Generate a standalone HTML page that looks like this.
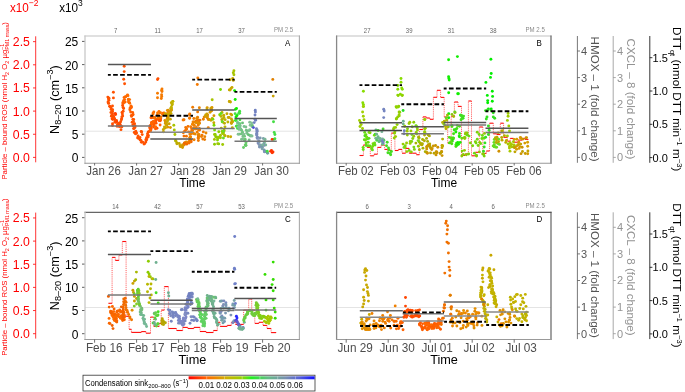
<!DOCTYPE html>
<html><head><meta charset="utf-8"><style>
html,body{margin:0;padding:0;background:#fff;width:685px;height:392px;overflow:hidden;}
svg{display:block;font-family:"Liberation Sans", sans-serif;will-change:transform;}
</style></head><body>
<svg width="685" height="392" viewBox="0 0 685 392" font-family='"Liberation Sans", sans-serif'><line x1="35.70" y1="36.30" x2="35.70" y2="162.30" stroke="#ff0000" stroke-width="0.8"/>
<line x1="33.00" y1="157.40" x2="35.70" y2="157.40" stroke="#ff0000" stroke-width="0.8"/>
<text x="0" y="0" font-size="12.3" fill="#ff0000" text-anchor="end" transform="translate(29.90 161.80) scale(1 1.07)">0.0</text>
<line x1="33.00" y1="134.25" x2="35.70" y2="134.25" stroke="#ff0000" stroke-width="0.8"/>
<text x="0" y="0" font-size="12.3" fill="#ff0000" text-anchor="end" transform="translate(29.90 138.65) scale(1 1.07)">0.5</text>
<line x1="33.00" y1="111.10" x2="35.70" y2="111.10" stroke="#ff0000" stroke-width="0.8"/>
<text x="0" y="0" font-size="12.3" fill="#ff0000" text-anchor="end" transform="translate(29.90 115.50) scale(1 1.07)">1.0</text>
<line x1="33.00" y1="87.95" x2="35.70" y2="87.95" stroke="#ff0000" stroke-width="0.8"/>
<text x="0" y="0" font-size="12.3" fill="#ff0000" text-anchor="end" transform="translate(29.90 92.35) scale(1 1.07)">1.5</text>
<line x1="33.00" y1="64.80" x2="35.70" y2="64.80" stroke="#ff0000" stroke-width="0.8"/>
<text x="0" y="0" font-size="12.3" fill="#ff0000" text-anchor="end" transform="translate(29.90 69.20) scale(1 1.07)">2.0</text>
<line x1="33.00" y1="41.65" x2="35.70" y2="41.65" stroke="#ff0000" stroke-width="0.8"/>
<text x="0" y="0" font-size="12.3" fill="#ff0000" text-anchor="end" transform="translate(29.90 46.05) scale(1 1.07)">2.5</text>
<text x="0" y="0" font-size="7.29" fill="#ff0000" text-anchor="middle" transform="translate(7.20 100.80) rotate(-90) scale(1.07 1)">Particle – bound ROS (nmol H<tspan font-size="5" dy="1.5">2</tspan><tspan dy="-1.5"> O</tspan><tspan font-size="5" dy="1.5">2</tspan><tspan dy="-1.5"> µg</tspan><tspan font-size="5" dy="-3">−1</tspan><tspan font-size="5" dx="-5.7" dy="4.5">PM1 mass</tspan><tspan dy="-1.5">)</tspan></text>
<line x1="82.00" y1="157.40" x2="85.00" y2="157.40" stroke="#333" stroke-width="0.8"/>
<text x="0" y="0" font-size="12.0" fill="#000" text-anchor="end" transform="translate(78.30 162.30) scale(1 1.07)">0</text>
<line x1="82.00" y1="134.20" x2="85.00" y2="134.20" stroke="#333" stroke-width="0.8"/>
<text x="0" y="0" font-size="12.0" fill="#000" text-anchor="end" transform="translate(78.30 139.10) scale(1 1.07)">5</text>
<line x1="82.00" y1="111.00" x2="85.00" y2="111.00" stroke="#333" stroke-width="0.8"/>
<text x="0" y="0" font-size="12.0" fill="#000" text-anchor="end" transform="translate(78.30 115.90) scale(1 1.07)">10</text>
<line x1="82.00" y1="87.80" x2="85.00" y2="87.80" stroke="#333" stroke-width="0.8"/>
<text x="0" y="0" font-size="12.0" fill="#000" text-anchor="end" transform="translate(78.30 92.70) scale(1 1.07)">15</text>
<line x1="82.00" y1="64.60" x2="85.00" y2="64.60" stroke="#333" stroke-width="0.8"/>
<text x="0" y="0" font-size="12.0" fill="#000" text-anchor="end" transform="translate(78.30 69.50) scale(1 1.07)">20</text>
<line x1="82.00" y1="41.40" x2="85.00" y2="41.40" stroke="#333" stroke-width="0.8"/>
<text x="0" y="0" font-size="12.0" fill="#000" text-anchor="end" transform="translate(78.30 46.30) scale(1 1.07)">25</text>
<text x="0" y="0" font-size="11.869" fill="#000" text-anchor="middle" transform="translate(58.90 99.60) rotate(-90) scale(1.07 1)">N<tspan font-size="8.5" dy="2.5">8–20</tspan><tspan dy="-2.5"> (cm</tspan><tspan font-size="8.5" dy="-6">−3</tspan><tspan dy="6">)</tspan></text>
<line x1="577.40" y1="36.00" x2="577.40" y2="162.80" stroke="#555" stroke-width="0.8"/>
<line x1="577.40" y1="157.40" x2="580.00" y2="157.40" stroke="#555" stroke-width="0.8"/>
<text x="0" y="0" font-size="11" fill="#555" text-anchor="start" transform="translate(581.10 161.30) scale(1 1.07)">0</text>
<line x1="577.40" y1="130.80" x2="580.00" y2="130.80" stroke="#555" stroke-width="0.8"/>
<text x="0" y="0" font-size="11" fill="#555" text-anchor="start" transform="translate(581.10 134.70) scale(1 1.07)">1</text>
<line x1="577.40" y1="104.20" x2="580.00" y2="104.20" stroke="#555" stroke-width="0.8"/>
<text x="0" y="0" font-size="11" fill="#555" text-anchor="start" transform="translate(581.10 108.10) scale(1 1.07)">2</text>
<line x1="577.40" y1="77.60" x2="580.00" y2="77.60" stroke="#555" stroke-width="0.8"/>
<text x="0" y="0" font-size="11" fill="#555" text-anchor="start" transform="translate(581.10 81.50) scale(1 1.07)">3</text>
<line x1="577.40" y1="51.00" x2="580.00" y2="51.00" stroke="#555" stroke-width="0.8"/>
<text x="0" y="0" font-size="11" fill="#555" text-anchor="start" transform="translate(581.10 54.90) scale(1 1.07)">4</text>
<text x="0" y="0" font-size="10.841" fill="#555" text-anchor="start" transform="translate(591.00 36.60) rotate(90) scale(1.07 1)">HMOX – 1 (fold change)</text>
<line x1="613.20" y1="36.00" x2="613.20" y2="162.80" stroke="#939393" stroke-width="0.8"/>
<line x1="613.20" y1="157.40" x2="615.80" y2="157.40" stroke="#939393" stroke-width="0.8"/>
<text x="0" y="0" font-size="11" fill="#939393" text-anchor="start" transform="translate(616.90 161.30) scale(1 1.07)">0</text>
<line x1="613.20" y1="130.80" x2="615.80" y2="130.80" stroke="#939393" stroke-width="0.8"/>
<text x="0" y="0" font-size="11" fill="#939393" text-anchor="start" transform="translate(616.90 134.70) scale(1 1.07)">1</text>
<line x1="613.20" y1="104.20" x2="615.80" y2="104.20" stroke="#939393" stroke-width="0.8"/>
<text x="0" y="0" font-size="11" fill="#939393" text-anchor="start" transform="translate(616.90 108.10) scale(1 1.07)">2</text>
<line x1="613.20" y1="77.60" x2="615.80" y2="77.60" stroke="#939393" stroke-width="0.8"/>
<text x="0" y="0" font-size="11" fill="#939393" text-anchor="start" transform="translate(616.90 81.50) scale(1 1.07)">3</text>
<line x1="613.20" y1="51.00" x2="615.80" y2="51.00" stroke="#939393" stroke-width="0.8"/>
<text x="0" y="0" font-size="11" fill="#939393" text-anchor="start" transform="translate(616.90 54.90) scale(1 1.07)">4</text>
<text x="0" y="0" font-size="10.841" fill="#939393" text-anchor="start" transform="translate(626.80 38.60) rotate(90) scale(1.07 1)">CXCL – 8 (fold change)</text>
<line x1="649.80" y1="36.00" x2="649.80" y2="162.80" stroke="#000" stroke-width="0.8"/>
<line x1="649.80" y1="157.60" x2="652.40" y2="157.60" stroke="#000" stroke-width="0.8"/>
<text x="0" y="0" font-size="11" fill="#000" text-anchor="start" transform="translate(652.60 161.50) scale(1 1.07)">0.0</text>
<line x1="649.80" y1="124.30" x2="652.40" y2="124.30" stroke="#000" stroke-width="0.8"/>
<text x="0" y="0" font-size="11" fill="#000" text-anchor="start" transform="translate(652.60 128.20) scale(1 1.07)">0.5</text>
<line x1="649.80" y1="91.00" x2="652.40" y2="91.00" stroke="#000" stroke-width="0.8"/>
<text x="0" y="0" font-size="11" fill="#000" text-anchor="start" transform="translate(652.60 94.90) scale(1 1.07)">1.0</text>
<line x1="649.80" y1="57.70" x2="652.40" y2="57.70" stroke="#000" stroke-width="0.8"/>
<text x="0" y="0" font-size="11" fill="#000" text-anchor="start" transform="translate(652.60 61.60) scale(1 1.07)">1.5</text>
<text x="0" y="0" font-size="11.028" fill="#000" text-anchor="start" transform="translate(672.50 27.00) rotate(90) scale(1.07 1)">DTT<tspan font-size="7" dy="2.5">qt</tspan><tspan dy="-2.5"> (nmol DTT min</tspan><tspan font-size="7" dy="-4.5">−1</tspan><tspan dy="4.5"> m</tspan><tspan font-size="7" dy="-4.5">−3</tspan><tspan dy="4.5">)</tspan></text>
<line x1="35.70" y1="212.60" x2="35.70" y2="338.60" stroke="#ff0000" stroke-width="0.8"/>
<line x1="33.00" y1="333.70" x2="35.70" y2="333.70" stroke="#ff0000" stroke-width="0.8"/>
<text x="0" y="0" font-size="12.3" fill="#ff0000" text-anchor="end" transform="translate(29.90 338.10) scale(1 1.07)">0.0</text>
<line x1="33.00" y1="310.55" x2="35.70" y2="310.55" stroke="#ff0000" stroke-width="0.8"/>
<text x="0" y="0" font-size="12.3" fill="#ff0000" text-anchor="end" transform="translate(29.90 314.95) scale(1 1.07)">0.5</text>
<line x1="33.00" y1="287.40" x2="35.70" y2="287.40" stroke="#ff0000" stroke-width="0.8"/>
<text x="0" y="0" font-size="12.3" fill="#ff0000" text-anchor="end" transform="translate(29.90 291.80) scale(1 1.07)">1.0</text>
<line x1="33.00" y1="264.25" x2="35.70" y2="264.25" stroke="#ff0000" stroke-width="0.8"/>
<text x="0" y="0" font-size="12.3" fill="#ff0000" text-anchor="end" transform="translate(29.90 268.65) scale(1 1.07)">1.5</text>
<line x1="33.00" y1="241.10" x2="35.70" y2="241.10" stroke="#ff0000" stroke-width="0.8"/>
<text x="0" y="0" font-size="12.3" fill="#ff0000" text-anchor="end" transform="translate(29.90 245.50) scale(1 1.07)">2.0</text>
<line x1="33.00" y1="217.95" x2="35.70" y2="217.95" stroke="#ff0000" stroke-width="0.8"/>
<text x="0" y="0" font-size="12.3" fill="#ff0000" text-anchor="end" transform="translate(29.90 222.35) scale(1 1.07)">2.5</text>
<text x="0" y="0" font-size="7.29" fill="#ff0000" text-anchor="middle" transform="translate(7.20 277.10) rotate(-90) scale(1.07 1)">Particle – bound ROS (nmol H<tspan font-size="5" dy="1.5">2</tspan><tspan dy="-1.5"> O</tspan><tspan font-size="5" dy="1.5">2</tspan><tspan dy="-1.5"> µg</tspan><tspan font-size="5" dy="-3">−1</tspan><tspan font-size="5" dx="-5.7" dy="4.5">PM1 mass</tspan><tspan dy="-1.5">)</tspan></text>
<line x1="82.00" y1="333.70" x2="85.00" y2="333.70" stroke="#333" stroke-width="0.8"/>
<text x="0" y="0" font-size="12.0" fill="#000" text-anchor="end" transform="translate(78.30 338.60) scale(1 1.07)">0</text>
<line x1="82.00" y1="310.50" x2="85.00" y2="310.50" stroke="#333" stroke-width="0.8"/>
<text x="0" y="0" font-size="12.0" fill="#000" text-anchor="end" transform="translate(78.30 315.40) scale(1 1.07)">5</text>
<line x1="82.00" y1="287.30" x2="85.00" y2="287.30" stroke="#333" stroke-width="0.8"/>
<text x="0" y="0" font-size="12.0" fill="#000" text-anchor="end" transform="translate(78.30 292.20) scale(1 1.07)">10</text>
<line x1="82.00" y1="264.10" x2="85.00" y2="264.10" stroke="#333" stroke-width="0.8"/>
<text x="0" y="0" font-size="12.0" fill="#000" text-anchor="end" transform="translate(78.30 269.00) scale(1 1.07)">15</text>
<line x1="82.00" y1="240.90" x2="85.00" y2="240.90" stroke="#333" stroke-width="0.8"/>
<text x="0" y="0" font-size="12.0" fill="#000" text-anchor="end" transform="translate(78.30 245.80) scale(1 1.07)">20</text>
<line x1="82.00" y1="217.70" x2="85.00" y2="217.70" stroke="#333" stroke-width="0.8"/>
<text x="0" y="0" font-size="12.0" fill="#000" text-anchor="end" transform="translate(78.30 222.60) scale(1 1.07)">25</text>
<text x="0" y="0" font-size="11.869" fill="#000" text-anchor="middle" transform="translate(58.90 275.90) rotate(-90) scale(1.07 1)">N<tspan font-size="8.5" dy="2.5">8–20</tspan><tspan dy="-2.5"> (cm</tspan><tspan font-size="8.5" dy="-6">−3</tspan><tspan dy="6">)</tspan></text>
<line x1="577.40" y1="212.30" x2="577.40" y2="339.10" stroke="#555" stroke-width="0.8"/>
<line x1="577.40" y1="333.70" x2="580.00" y2="333.70" stroke="#555" stroke-width="0.8"/>
<text x="0" y="0" font-size="11" fill="#555" text-anchor="start" transform="translate(581.10 337.60) scale(1 1.07)">0</text>
<line x1="577.40" y1="307.10" x2="580.00" y2="307.10" stroke="#555" stroke-width="0.8"/>
<text x="0" y="0" font-size="11" fill="#555" text-anchor="start" transform="translate(581.10 311.00) scale(1 1.07)">1</text>
<line x1="577.40" y1="280.50" x2="580.00" y2="280.50" stroke="#555" stroke-width="0.8"/>
<text x="0" y="0" font-size="11" fill="#555" text-anchor="start" transform="translate(581.10 284.40) scale(1 1.07)">2</text>
<line x1="577.40" y1="253.90" x2="580.00" y2="253.90" stroke="#555" stroke-width="0.8"/>
<text x="0" y="0" font-size="11" fill="#555" text-anchor="start" transform="translate(581.10 257.80) scale(1 1.07)">3</text>
<line x1="577.40" y1="227.30" x2="580.00" y2="227.30" stroke="#555" stroke-width="0.8"/>
<text x="0" y="0" font-size="11" fill="#555" text-anchor="start" transform="translate(581.10 231.20) scale(1 1.07)">4</text>
<text x="0" y="0" font-size="10.841" fill="#555" text-anchor="start" transform="translate(591.00 212.90) rotate(90) scale(1.07 1)">HMOX – 1 (fold change)</text>
<line x1="613.20" y1="212.30" x2="613.20" y2="339.10" stroke="#939393" stroke-width="0.8"/>
<line x1="613.20" y1="333.70" x2="615.80" y2="333.70" stroke="#939393" stroke-width="0.8"/>
<text x="0" y="0" font-size="11" fill="#939393" text-anchor="start" transform="translate(616.90 337.60) scale(1 1.07)">0</text>
<line x1="613.20" y1="307.10" x2="615.80" y2="307.10" stroke="#939393" stroke-width="0.8"/>
<text x="0" y="0" font-size="11" fill="#939393" text-anchor="start" transform="translate(616.90 311.00) scale(1 1.07)">1</text>
<line x1="613.20" y1="280.50" x2="615.80" y2="280.50" stroke="#939393" stroke-width="0.8"/>
<text x="0" y="0" font-size="11" fill="#939393" text-anchor="start" transform="translate(616.90 284.40) scale(1 1.07)">2</text>
<line x1="613.20" y1="253.90" x2="615.80" y2="253.90" stroke="#939393" stroke-width="0.8"/>
<text x="0" y="0" font-size="11" fill="#939393" text-anchor="start" transform="translate(616.90 257.80) scale(1 1.07)">3</text>
<line x1="613.20" y1="227.30" x2="615.80" y2="227.30" stroke="#939393" stroke-width="0.8"/>
<text x="0" y="0" font-size="11" fill="#939393" text-anchor="start" transform="translate(616.90 231.20) scale(1 1.07)">4</text>
<text x="0" y="0" font-size="10.841" fill="#939393" text-anchor="start" transform="translate(626.80 214.90) rotate(90) scale(1.07 1)">CXCL – 8 (fold change)</text>
<line x1="649.80" y1="212.30" x2="649.80" y2="339.10" stroke="#000" stroke-width="0.8"/>
<line x1="649.80" y1="333.90" x2="652.40" y2="333.90" stroke="#000" stroke-width="0.8"/>
<text x="0" y="0" font-size="11" fill="#000" text-anchor="start" transform="translate(652.60 337.80) scale(1 1.07)">0.0</text>
<line x1="649.80" y1="300.60" x2="652.40" y2="300.60" stroke="#000" stroke-width="0.8"/>
<text x="0" y="0" font-size="11" fill="#000" text-anchor="start" transform="translate(652.60 304.50) scale(1 1.07)">0.5</text>
<line x1="649.80" y1="267.30" x2="652.40" y2="267.30" stroke="#000" stroke-width="0.8"/>
<text x="0" y="0" font-size="11" fill="#000" text-anchor="start" transform="translate(652.60 271.20) scale(1 1.07)">1.0</text>
<line x1="649.80" y1="234.00" x2="652.40" y2="234.00" stroke="#000" stroke-width="0.8"/>
<text x="0" y="0" font-size="11" fill="#000" text-anchor="start" transform="translate(652.60 237.90) scale(1 1.07)">1.5</text>
<text x="0" y="0" font-size="11.028" fill="#000" text-anchor="start" transform="translate(672.50 203.30) rotate(90) scale(1.07 1)">DTT<tspan font-size="7" dy="2.5">qt</tspan><tspan dy="-2.5"> (nmol DTT min</tspan><tspan font-size="7" dy="-4.5">−1</tspan><tspan dy="4.5"> m</tspan><tspan font-size="7" dy="-4.5">−3</tspan><tspan dy="4.5">)</tspan></text>
<text x="0" y="0" font-size="11.7" fill="#ff0000" text-anchor="start" transform="translate(10.00 12.00) scale(1 1.07)">x10<tspan font-size="8.5" dy="-5.8">−2</tspan></text>
<text x="0" y="0" font-size="11.7" fill="#000" text-anchor="start" transform="translate(59.20 12.00) scale(1 1.07)">x10<tspan font-size="8.5" dy="-5.8">3</tspan></text>
<line x1="85.00" y1="131.20" x2="299.40" y2="131.20" stroke="#dddddd" stroke-width="0.8"/>
<line x1="84.40" y1="36.00" x2="299.90" y2="36.00" stroke="#d6d6d6" stroke-width="1.3"/>
<line x1="85.00" y1="35.50" x2="85.00" y2="163.70" stroke="#c8c8c8" stroke-width="1.3"/>
<line x1="299.40" y1="35.50" x2="299.40" y2="163.70" stroke="#aaaaaa" stroke-width="1.1"/>
<line x1="84.40" y1="163.20" x2="299.90" y2="163.20" stroke="#999999" stroke-width="1.1"/>
<line x1="94.60" y1="163.20" x2="94.60" y2="165.50" stroke="#555" stroke-width="0.85"/>
<text x="0" y="0" font-size="11.5" fill="#4d4d4d" text-anchor="start" transform="translate(86.30 174.80) scale(1 1.07)">Jan 26</text>
<line x1="136.60" y1="163.20" x2="136.60" y2="165.50" stroke="#555" stroke-width="0.85"/>
<text x="0" y="0" font-size="11.5" fill="#4d4d4d" text-anchor="start" transform="translate(128.30 174.80) scale(1 1.07)">Jan 27</text>
<line x1="178.60" y1="163.20" x2="178.60" y2="165.50" stroke="#555" stroke-width="0.85"/>
<text x="0" y="0" font-size="11.5" fill="#4d4d4d" text-anchor="start" transform="translate(170.30 174.80) scale(1 1.07)">Jan 28</text>
<line x1="220.60" y1="163.20" x2="220.60" y2="165.50" stroke="#555" stroke-width="0.85"/>
<text x="0" y="0" font-size="11.5" fill="#4d4d4d" text-anchor="start" transform="translate(212.30 174.80) scale(1 1.07)">Jan 29</text>
<line x1="262.60" y1="163.20" x2="262.60" y2="165.50" stroke="#555" stroke-width="0.85"/>
<text x="0" y="0" font-size="11.5" fill="#4d4d4d" text-anchor="start" transform="translate(254.30 174.80) scale(1 1.07)">Jan 30</text>
<text x="0" y="0" font-size="12.0" fill="#000" text-anchor="middle" transform="translate(192.40 186.70) scale(1 1.07)">Time</text>
<text x="0" y="0" font-size="6" fill="#666" text-anchor="middle" transform="translate(115.60 32.70) scale(1 1.07)">7</text>
<text x="0" y="0" font-size="6" fill="#666" text-anchor="middle" transform="translate(157.60 32.70) scale(1 1.07)">11</text>
<text x="0" y="0" font-size="6" fill="#666" text-anchor="middle" transform="translate(199.60 32.70) scale(1 1.07)">17</text>
<text x="0" y="0" font-size="6" fill="#666" text-anchor="middle" transform="translate(241.60 32.70) scale(1 1.07)">37</text>
<text x="0" y="0" font-size="6.1" fill="#8a8a8a" text-anchor="start" transform="translate(273.90 32.10) scale(1 1.07)">PM 2.5</text>
<text x="0" y="0" font-size="8.0" fill="#000" text-anchor="start" transform="translate(284.90 45.90) scale(1 1.07)">A</text>
<circle cx="124.20" cy="66.20" r="1.45" fill="#ff5200"/>
<circle cx="124.20" cy="71.60" r="1.45" fill="#ff5200"/>
<circle cx="123.70" cy="79.30" r="1.45" fill="#ff5200"/>
<circle cx="124.60" cy="83.70" r="1.45" fill="#ff5200"/>
<circle cx="113.40" cy="92.20" r="1.45" fill="#ff5200"/>
<circle cx="113.40" cy="97.90" r="1.45" fill="#ff5200"/>
<circle cx="112.50" cy="106.00" r="1.45" fill="#ff5200"/>
<circle cx="116.50" cy="120.40" r="1.45" fill="#ff5200"/>
<circle cx="110.70" cy="107.40" r="1.45" fill="#ff5200"/>
<circle cx="108.50" cy="98.90" r="1.45" fill="#ff5200"/>
<circle cx="107.84" cy="97.09" r="1.45" fill="#ff5200"/>
<circle cx="108.98" cy="98.19" r="1.45" fill="#ff5200"/>
<circle cx="108.96" cy="100.25" r="1.45" fill="#ff5200"/>
<circle cx="108.01" cy="101.91" r="1.45" fill="#ff5200"/>
<circle cx="108.25" cy="103.01" r="1.45" fill="#ff5200"/>
<circle cx="108.71" cy="103.39" r="1.45" fill="#ff5200"/>
<circle cx="110.01" cy="106.58" r="1.45" fill="#ff5200"/>
<circle cx="109.61" cy="106.29" r="1.45" fill="#ff5200"/>
<circle cx="111.21" cy="109.46" r="1.45" fill="#ff5200"/>
<circle cx="111.33" cy="109.34" r="1.45" fill="#ff5200"/>
<circle cx="112.62" cy="109.73" r="1.45" fill="#ff5200"/>
<circle cx="112.57" cy="111.67" r="1.45" fill="#ff5200"/>
<circle cx="110.91" cy="112.53" r="1.45" fill="#ff5200"/>
<circle cx="111.54" cy="115.66" r="1.45" fill="#ff5200"/>
<circle cx="111.42" cy="116.36" r="1.45" fill="#ff5200"/>
<circle cx="113.02" cy="117.07" r="1.45" fill="#ff5200"/>
<circle cx="113.28" cy="117.50" r="1.45" fill="#ff5200"/>
<circle cx="112.59" cy="119.05" r="1.45" fill="#ff5200"/>
<circle cx="115.01" cy="120.69" r="1.45" fill="#ff5200"/>
<circle cx="114.89" cy="122.14" r="1.45" fill="#ff5200"/>
<circle cx="116.14" cy="122.38" r="1.45" fill="#ff5200"/>
<circle cx="117.96" cy="124.36" r="1.45" fill="#ff5200"/>
<circle cx="117.52" cy="124.92" r="1.45" fill="#ff5200"/>
<circle cx="119.21" cy="126.62" r="1.45" fill="#ff5200"/>
<circle cx="120.65" cy="126.05" r="1.45" fill="#ff5200"/>
<circle cx="121.87" cy="126.81" r="1.45" fill="#ff5200"/>
<circle cx="120.99" cy="129.67" r="1.45" fill="#ff5200"/>
<circle cx="118.24" cy="124.48" r="1.45" fill="#ff5200"/>
<circle cx="118.78" cy="123.30" r="1.45" fill="#ff5200"/>
<circle cx="120.65" cy="121.68" r="1.45" fill="#ff5200"/>
<circle cx="121.42" cy="119.75" r="1.45" fill="#ff5200"/>
<circle cx="121.65" cy="118.65" r="1.45" fill="#ff5200"/>
<circle cx="121.87" cy="116.85" r="1.45" fill="#ff5200"/>
<circle cx="122.65" cy="116.04" r="1.45" fill="#ff5200"/>
<circle cx="122.39" cy="113.99" r="1.45" fill="#ff5200"/>
<circle cx="121.99" cy="112.44" r="1.45" fill="#ff5200"/>
<circle cx="123.15" cy="111.29" r="1.45" fill="#ff5200"/>
<circle cx="123.61" cy="108.54" r="1.45" fill="#ff5200"/>
<circle cx="123.07" cy="107.53" r="1.45" fill="#ff5200"/>
<circle cx="122.61" cy="105.57" r="1.45" fill="#ff5200"/>
<circle cx="122.97" cy="103.39" r="1.45" fill="#ff5200"/>
<circle cx="112.53" cy="123.76" r="1.45" fill="#ff4f00"/>
<circle cx="114.23" cy="118.47" r="1.45" fill="#ff3d00"/>
<circle cx="112.73" cy="119.29" r="1.45" fill="#ff4500"/>
<circle cx="119.95" cy="124.47" r="1.45" fill="#ff3d00"/>
<circle cx="114.51" cy="118.81" r="1.45" fill="#ff4900"/>
<circle cx="119.96" cy="126.41" r="1.45" fill="#ff4e00"/>
<circle cx="113.59" cy="116.25" r="1.45" fill="#ff4c00"/>
<circle cx="116.36" cy="121.25" r="1.45" fill="#ff4c00"/>
<circle cx="112.04" cy="118.87" r="1.45" fill="#ff4900"/>
<circle cx="117.10" cy="126.34" r="1.45" fill="#ff4100"/>
<circle cx="116.64" cy="121.65" r="1.45" fill="#ff4200"/>
<circle cx="112.49" cy="125.59" r="1.45" fill="#ff3f00"/>
<circle cx="119.87" cy="124.17" r="1.45" fill="#ff4900"/>
<circle cx="115.59" cy="114.45" r="1.45" fill="#ff4300"/>
<circle cx="112.56" cy="113.94" r="1.45" fill="#ff4d00"/>
<circle cx="113.46" cy="117.76" r="1.45" fill="#ff5100"/>
<circle cx="112.00" cy="115.12" r="1.45" fill="#ff5000"/>
<circle cx="115.27" cy="113.36" r="1.45" fill="#ff3d00"/>
<circle cx="123.50" cy="103.09" r="1.45" fill="#ff6000"/>
<circle cx="122.91" cy="102.50" r="1.45" fill="#ff6100"/>
<circle cx="123.56" cy="100.82" r="1.45" fill="#ff6300"/>
<circle cx="125.18" cy="101.98" r="1.45" fill="#ff6400"/>
<circle cx="124.59" cy="99.58" r="1.45" fill="#ff6600"/>
<circle cx="124.09" cy="97.54" r="1.45" fill="#ff6700"/>
<circle cx="125.25" cy="96.91" r="1.45" fill="#ff6800"/>
<circle cx="127.09" cy="95.65" r="1.45" fill="#ff6a00"/>
<circle cx="125.68" cy="96.77" r="1.45" fill="#ff6b00"/>
<circle cx="127.52" cy="94.90" r="1.45" fill="#ff6d00"/>
<circle cx="127.98" cy="95.67" r="1.45" fill="#ff6e00"/>
<circle cx="128.37" cy="99.22" r="1.45" fill="#ff7000"/>
<circle cx="129.61" cy="99.58" r="1.45" fill="#ff6f00"/>
<circle cx="128.36" cy="99.83" r="1.45" fill="#ff6e00"/>
<circle cx="128.44" cy="102.00" r="1.45" fill="#ff6c00"/>
<circle cx="129.71" cy="103.13" r="1.45" fill="#ff6b00"/>
<circle cx="129.46" cy="102.80" r="1.45" fill="#ff6900"/>
<circle cx="130.94" cy="105.92" r="1.45" fill="#ff6800"/>
<circle cx="131.27" cy="106.59" r="1.45" fill="#ff6700"/>
<circle cx="131.39" cy="107.55" r="1.45" fill="#ff6500"/>
<circle cx="130.01" cy="108.12" r="1.45" fill="#ff6400"/>
<circle cx="130.51" cy="107.99" r="1.45" fill="#ff6200"/>
<circle cx="129.83" cy="109.79" r="1.45" fill="#ff6100"/>
<circle cx="130.63" cy="112.00" r="1.45" fill="#ff6000"/>
<circle cx="132.64" cy="112.50" r="1.45" fill="#ff5e00"/>
<circle cx="132.79" cy="115.05" r="1.45" fill="#ff5d00"/>
<circle cx="133.07" cy="114.56" r="1.45" fill="#ff5c00"/>
<circle cx="131.38" cy="115.34" r="1.45" fill="#ff5b00"/>
<circle cx="131.55" cy="116.41" r="1.45" fill="#ff5900"/>
<circle cx="132.89" cy="119.35" r="1.45" fill="#ff5800"/>
<circle cx="133.67" cy="119.39" r="1.45" fill="#ff5700"/>
<circle cx="133.41" cy="121.36" r="1.45" fill="#ff5600"/>
<circle cx="132.13" cy="122.14" r="1.45" fill="#ff5400"/>
<circle cx="134.47" cy="123.59" r="1.45" fill="#ff5300"/>
<circle cx="134.25" cy="123.94" r="1.45" fill="#ff5200"/>
<circle cx="132.83" cy="124.69" r="1.45" fill="#ff5200"/>
<circle cx="133.39" cy="125.82" r="1.45" fill="#ff5200"/>
<circle cx="135.12" cy="125.95" r="1.45" fill="#ff5200"/>
<circle cx="133.94" cy="128.37" r="1.45" fill="#ff5200"/>
<circle cx="134.92" cy="127.61" r="1.45" fill="#ff5200"/>
<circle cx="133.70" cy="128.66" r="1.45" fill="#ff5200"/>
<circle cx="135.79" cy="131.32" r="1.45" fill="#ff5200"/>
<circle cx="134.22" cy="132.46" r="1.45" fill="#ff5200"/>
<circle cx="136.64" cy="133.09" r="1.45" fill="#ff5200"/>
<circle cx="135.54" cy="133.86" r="1.45" fill="#ff5200"/>
<circle cx="135.48" cy="133.59" r="1.45" fill="#ff5200"/>
<circle cx="138.10" cy="136.05" r="1.45" fill="#ff5200"/>
<circle cx="137.67" cy="137.65" r="1.45" fill="#ff5200"/>
<circle cx="138.24" cy="138.29" r="1.45" fill="#ff5200"/>
<circle cx="139.97" cy="137.49" r="1.45" fill="#ff5200"/>
<circle cx="139.38" cy="138.48" r="1.45" fill="#ff5200"/>
<circle cx="140.14" cy="139.97" r="1.45" fill="#ff5200"/>
<circle cx="140.98" cy="140.36" r="1.45" fill="#ff5200"/>
<circle cx="141.44" cy="142.35" r="1.45" fill="#ff5200"/>
<circle cx="142.72" cy="142.09" r="1.45" fill="#ff5200"/>
<circle cx="144.03" cy="143.96" r="1.45" fill="#ff5200"/>
<circle cx="144.69" cy="143.62" r="1.45" fill="#ff5200"/>
<circle cx="145.78" cy="142.05" r="1.45" fill="#ff5200"/>
<circle cx="146.47" cy="139.95" r="1.45" fill="#ff5200"/>
<circle cx="146.57" cy="139.28" r="1.45" fill="#ff5200"/>
<circle cx="145.83" cy="139.68" r="1.45" fill="#ff5200"/>
<circle cx="146.54" cy="137.82" r="1.45" fill="#ff5200"/>
<circle cx="148.16" cy="136.95" r="1.45" fill="#ff5200"/>
<circle cx="147.49" cy="135.77" r="1.45" fill="#ff5200"/>
<circle cx="148.33" cy="135.33" r="1.45" fill="#ff5200"/>
<circle cx="147.54" cy="133.72" r="1.45" fill="#ff5200"/>
<circle cx="148.21" cy="131.97" r="1.45" fill="#ff5200"/>
<circle cx="149.80" cy="131.46" r="1.45" fill="#ff5200"/>
<circle cx="149.63" cy="131.00" r="1.45" fill="#ff5200"/>
<circle cx="150.68" cy="129.15" r="1.45" fill="#ff5200"/>
<circle cx="150.10" cy="128.19" r="1.45" fill="#ff5200"/>
<circle cx="150.00" cy="127.53" r="1.45" fill="#ff5200"/>
<circle cx="149.99" cy="126.04" r="1.45" fill="#ff5200"/>
<circle cx="150.26" cy="125.93" r="1.45" fill="#ff5200"/>
<circle cx="151.15" cy="124.72" r="1.45" fill="#ff5200"/>
<circle cx="152.10" cy="122.18" r="1.45" fill="#ff5200"/>
<circle cx="151.54" cy="122.76" r="1.45" fill="#ff5200"/>
<circle cx="141.70" cy="132.00" r="1.45" fill="#ff5200"/>
<circle cx="142.20" cy="134.60" r="1.45" fill="#ff5200"/>
<circle cx="141.20" cy="131.50" r="1.45" fill="#ff5200"/>
<circle cx="159.24" cy="118.92" r="1.45" fill="#ff5300"/>
<circle cx="154.86" cy="118.02" r="1.45" fill="#ff5600"/>
<circle cx="150.80" cy="126.37" r="1.45" fill="#ff6400"/>
<circle cx="159.87" cy="119.16" r="1.45" fill="#ff6300"/>
<circle cx="157.26" cy="119.00" r="1.45" fill="#ff6700"/>
<circle cx="160.64" cy="120.07" r="1.45" fill="#ff6900"/>
<circle cx="154.38" cy="123.82" r="1.45" fill="#ff6a00"/>
<circle cx="159.16" cy="119.26" r="1.45" fill="#ff5b00"/>
<circle cx="155.67" cy="121.75" r="1.45" fill="#ff5500"/>
<circle cx="153.50" cy="127.11" r="1.45" fill="#ff5100"/>
<circle cx="156.09" cy="123.17" r="1.45" fill="#ff5000"/>
<circle cx="153.65" cy="125.73" r="1.45" fill="#ff5d00"/>
<circle cx="150.71" cy="130.79" r="1.45" fill="#ff6400"/>
<circle cx="160.69" cy="118.47" r="1.45" fill="#ff5700"/>
<circle cx="150.44" cy="127.91" r="1.45" fill="#ff5700"/>
<circle cx="151.43" cy="122.91" r="1.45" fill="#ff6800"/>
<circle cx="159.01" cy="120.62" r="1.45" fill="#ff5400"/>
<circle cx="160.11" cy="124.99" r="1.45" fill="#ff6200"/>
<circle cx="150.98" cy="117.81" r="1.45" fill="#ff6200"/>
<circle cx="154.68" cy="118.01" r="1.45" fill="#ff6800"/>
<circle cx="156.98" cy="128.22" r="1.45" fill="#ff5200"/>
<circle cx="159.42" cy="117.93" r="1.45" fill="#ff6600"/>
<circle cx="154.99" cy="121.75" r="1.45" fill="#ff5e00"/>
<circle cx="160.19" cy="120.75" r="1.45" fill="#ff5300"/>
<circle cx="155.80" cy="120.34" r="1.45" fill="#ff5300"/>
<circle cx="151.78" cy="117.71" r="1.45" fill="#ff5500"/>
<circle cx="153.43" cy="121.27" r="1.45" fill="#ff6400"/>
<circle cx="153.19" cy="124.00" r="1.45" fill="#ff5500"/>
<circle cx="153.82" cy="117.25" r="1.45" fill="#ff5700"/>
<circle cx="150.17" cy="127.26" r="1.45" fill="#ff5e00"/>
<circle cx="152.08" cy="123.65" r="1.45" fill="#ff6800"/>
<circle cx="151.17" cy="128.46" r="1.45" fill="#ff5b00"/>
<circle cx="155.45" cy="128.68" r="1.45" fill="#ff5a00"/>
<circle cx="155.57" cy="126.63" r="1.45" fill="#ff6a00"/>
<circle cx="158.14" cy="117.66" r="1.45" fill="#f87700"/>
<circle cx="162.54" cy="114.24" r="1.45" fill="#fc7300"/>
<circle cx="153.82" cy="112.04" r="1.45" fill="#fe7100"/>
<circle cx="164.11" cy="113.04" r="1.45" fill="#fd7200"/>
<circle cx="154.27" cy="117.73" r="1.45" fill="#f67900"/>
<circle cx="163.06" cy="113.26" r="1.45" fill="#fd7200"/>
<circle cx="157.40" cy="114.68" r="1.45" fill="#fd7200"/>
<circle cx="159.69" cy="113.11" r="1.45" fill="#f57a00"/>
<circle cx="167.59" cy="115.38" r="1.45" fill="#fd7200"/>
<circle cx="167.49" cy="113.48" r="1.45" fill="#fb7400"/>
<circle cx="153.02" cy="114.05" r="1.45" fill="#fa7500"/>
<circle cx="160.54" cy="112.61" r="1.45" fill="#fa7500"/>
<circle cx="153.07" cy="113.11" r="1.45" fill="#fe7100"/>
<circle cx="158.99" cy="111.33" r="1.45" fill="#ff7000"/>
<circle cx="157.56" cy="112.86" r="1.45" fill="#f97600"/>
<circle cx="160.94" cy="117.00" r="1.45" fill="#f87700"/>
<circle cx="158.00" cy="78.60" r="1.45" fill="#ff5000"/>
<circle cx="157.50" cy="79.60" r="1.45" fill="#ff5000"/>
<circle cx="162.00" cy="89.00" r="1.45" fill="#f57a00"/>
<circle cx="162.00" cy="91.50" r="1.45" fill="#f57a00"/>
<circle cx="157.50" cy="93.20" r="1.45" fill="#f57a00"/>
<circle cx="161.60" cy="94.80" r="1.45" fill="#f57a00"/>
<circle cx="157.50" cy="97.80" r="1.45" fill="#f57a00"/>
<circle cx="161.30" cy="98.50" r="1.45" fill="#f57a00"/>
<circle cx="161.70" cy="90.20" r="1.45" fill="#f57a00"/>
<circle cx="161.70" cy="96.50" r="1.45" fill="#f57a00"/>
<circle cx="163.43" cy="131.76" r="1.45" fill="#c8a800"/>
<circle cx="163.38" cy="129.46" r="1.45" fill="#c8a800"/>
<circle cx="165.16" cy="127.91" r="1.45" fill="#c7a900"/>
<circle cx="165.24" cy="127.71" r="1.45" fill="#c7aa00"/>
<circle cx="164.47" cy="126.90" r="1.45" fill="#c7aa00"/>
<circle cx="166.59" cy="125.22" r="1.45" fill="#c6aa00"/>
<circle cx="166.66" cy="124.31" r="1.45" fill="#c6ab00"/>
<circle cx="165.85" cy="122.46" r="1.45" fill="#c6ac00"/>
<circle cx="166.97" cy="121.81" r="1.45" fill="#c5ac00"/>
<circle cx="167.90" cy="120.50" r="1.45" fill="#c5ac00"/>
<circle cx="167.78" cy="119.34" r="1.45" fill="#c5ad00"/>
<circle cx="168.30" cy="117.64" r="1.45" fill="#c4ae00"/>
<circle cx="167.88" cy="115.08" r="1.45" fill="#c4ae00"/>
<circle cx="168.21" cy="114.51" r="1.45" fill="#c4ae00"/>
<circle cx="168.67" cy="114.23" r="1.45" fill="#c3af00"/>
<circle cx="170.02" cy="112.56" r="1.45" fill="#c3b000"/>
<circle cx="170.52" cy="111.38" r="1.45" fill="#c3b000"/>
<circle cx="170.62" cy="108.75" r="1.45" fill="#c2b000"/>
<circle cx="171.61" cy="108.96" r="1.45" fill="#c2b100"/>
<circle cx="171.34" cy="107.24" r="1.45" fill="#c2b200"/>
<circle cx="171.98" cy="105.00" r="1.45" fill="#c1b200"/>
<circle cx="172.45" cy="104.08" r="1.45" fill="#c1b200"/>
<circle cx="171.28" cy="102.78" r="1.45" fill="#c1b300"/>
<circle cx="172.72" cy="101.34" r="1.45" fill="#c0b400"/>
<circle cx="172.88" cy="101.55" r="1.45" fill="#c0b400"/>
<circle cx="167.45" cy="116.89" r="1.45" fill="#d59b00"/>
<circle cx="169.15" cy="123.81" r="1.45" fill="#d19f00"/>
<circle cx="168.78" cy="111.39" r="1.45" fill="#dc9400"/>
<circle cx="165.29" cy="123.38" r="1.45" fill="#d99700"/>
<circle cx="168.11" cy="110.22" r="1.45" fill="#df9100"/>
<circle cx="165.42" cy="122.10" r="1.45" fill="#cfa100"/>
<circle cx="169.08" cy="115.24" r="1.45" fill="#d49c00"/>
<circle cx="167.18" cy="118.39" r="1.45" fill="#dd9300"/>
<circle cx="171.04" cy="113.59" r="1.45" fill="#c9a700"/>
<circle cx="171.43" cy="110.32" r="1.45" fill="#d59b00"/>
<circle cx="170.38" cy="127.43" r="1.45" fill="#d59b00"/>
<circle cx="165.42" cy="113.78" r="1.45" fill="#c9a700"/>
<circle cx="164.90" cy="120.47" r="1.45" fill="#dd9300"/>
<circle cx="167.72" cy="127.15" r="1.45" fill="#dd9300"/>
<circle cx="170.38" cy="119.16" r="1.45" fill="#cba500"/>
<circle cx="169.33" cy="114.16" r="1.45" fill="#caa600"/>
<circle cx="167.38" cy="110.45" r="1.45" fill="#e09000"/>
<circle cx="167.43" cy="118.11" r="1.45" fill="#d99700"/>
<circle cx="173.80" cy="125.20" r="1.45" fill="#a8c400"/>
<circle cx="174.30" cy="129.90" r="1.45" fill="#a8c400"/>
<circle cx="174.90" cy="134.50" r="1.45" fill="#a8c400"/>
<circle cx="175.50" cy="140.40" r="1.45" fill="#a8c400"/>
<circle cx="175.98" cy="141.19" r="1.45" fill="#b8b000"/>
<circle cx="176.94" cy="143.11" r="1.45" fill="#bbad00"/>
<circle cx="176.92" cy="143.87" r="1.45" fill="#beab00"/>
<circle cx="179.21" cy="143.54" r="1.45" fill="#c2a800"/>
<circle cx="180.02" cy="145.64" r="1.45" fill="#c5a600"/>
<circle cx="180.67" cy="145.66" r="1.45" fill="#c8a300"/>
<circle cx="180.41" cy="146.63" r="1.45" fill="#cba100"/>
<circle cx="182.55" cy="147.46" r="1.45" fill="#ce9e00"/>
<circle cx="182.13" cy="146.43" r="1.45" fill="#d29c00"/>
<circle cx="182.68" cy="144.81" r="1.45" fill="#d59900"/>
<circle cx="183.03" cy="145.52" r="1.45" fill="#d89600"/>
<circle cx="184.13" cy="144.88" r="1.45" fill="#db9400"/>
<circle cx="184.84" cy="142.76" r="1.45" fill="#de9100"/>
<circle cx="186.26" cy="141.94" r="1.45" fill="#e18f00"/>
<circle cx="186.95" cy="142.91" r="1.45" fill="#e38d00"/>
<circle cx="189.00" cy="142.20" r="1.45" fill="#e48c00"/>
<circle cx="188.94" cy="141.44" r="1.45" fill="#e68a00"/>
<circle cx="189.89" cy="139.65" r="1.45" fill="#e88800"/>
<circle cx="189.79" cy="137.59" r="1.45" fill="#e98600"/>
<circle cx="190.16" cy="137.33" r="1.45" fill="#eb8500"/>
<circle cx="190.56" cy="136.66" r="1.45" fill="#ed8300"/>
<circle cx="189.99" cy="134.42" r="1.45" fill="#ee8100"/>
<circle cx="191.61" cy="133.51" r="1.45" fill="#f07f00"/>
<circle cx="190.95" cy="132.86" r="1.45" fill="#f27e00"/>
<circle cx="190.85" cy="132.56" r="1.45" fill="#f37c00"/>
<circle cx="192.45" cy="130.52" r="1.45" fill="#f57a00"/>
<circle cx="188.67" cy="132.00" r="1.45" fill="#f27000"/>
<circle cx="186.21" cy="129.51" r="1.45" fill="#f47700"/>
<circle cx="184.45" cy="143.25" r="1.45" fill="#f37100"/>
<circle cx="184.57" cy="143.26" r="1.45" fill="#f06800"/>
<circle cx="186.73" cy="129.00" r="1.45" fill="#f47700"/>
<circle cx="183.35" cy="132.76" r="1.45" fill="#f57800"/>
<circle cx="184.75" cy="131.21" r="1.45" fill="#f27000"/>
<circle cx="190.84" cy="140.34" r="1.45" fill="#f37300"/>
<circle cx="186.39" cy="136.15" r="1.45" fill="#f37300"/>
<circle cx="185.68" cy="127.55" r="1.45" fill="#f47500"/>
<circle cx="191.60" cy="128.74" r="1.45" fill="#f27100"/>
<circle cx="188.42" cy="142.45" r="1.45" fill="#f47600"/>
<circle cx="185.05" cy="131.02" r="1.45" fill="#f37300"/>
<circle cx="186.69" cy="144.14" r="1.45" fill="#f16b00"/>
<circle cx="190.71" cy="126.81" r="1.45" fill="#f57900"/>
<circle cx="189.17" cy="143.06" r="1.45" fill="#f37100"/>
<circle cx="188.02" cy="126.40" r="1.45" fill="#f37300"/>
<circle cx="191.21" cy="141.76" r="1.45" fill="#f16b00"/>
<circle cx="191.64" cy="131.02" r="1.45" fill="#f47800"/>
<circle cx="183.95" cy="136.12" r="1.45" fill="#f26e00"/>
<circle cx="183.10" cy="120.00" r="1.45" fill="#f57a00"/>
<circle cx="189.50" cy="114.70" r="1.45" fill="#f57a00"/>
<circle cx="189.50" cy="118.20" r="1.45" fill="#f57a00"/>
<circle cx="189.80" cy="113.90" r="1.45" fill="#f57a00"/>
<circle cx="184.00" cy="119.70" r="1.45" fill="#f57a00"/>
<circle cx="189.80" cy="118.00" r="1.45" fill="#f57a00"/>
<circle cx="197.80" cy="77.90" r="1.45" fill="#f57a00"/>
<circle cx="197.30" cy="84.50" r="1.45" fill="#f57a00"/>
<circle cx="199.53" cy="129.55" r="1.45" fill="#f08000"/>
<circle cx="198.12" cy="125.32" r="1.45" fill="#f07d00"/>
<circle cx="192.32" cy="130.52" r="1.45" fill="#f07600"/>
<circle cx="199.36" cy="128.33" r="1.45" fill="#f07700"/>
<circle cx="193.02" cy="122.03" r="1.45" fill="#f07f00"/>
<circle cx="197.59" cy="119.79" r="1.45" fill="#f07200"/>
<circle cx="196.20" cy="127.33" r="1.45" fill="#f07900"/>
<circle cx="193.79" cy="127.62" r="1.45" fill="#f07000"/>
<circle cx="194.41" cy="125.37" r="1.45" fill="#f08700"/>
<circle cx="197.16" cy="132.14" r="1.45" fill="#f07b00"/>
<circle cx="193.88" cy="121.95" r="1.45" fill="#f08700"/>
<circle cx="197.64" cy="122.92" r="1.45" fill="#f07100"/>
<circle cx="195.99" cy="128.79" r="1.45" fill="#f07a00"/>
<circle cx="194.06" cy="128.68" r="1.45" fill="#f08600"/>
<circle cx="193.81" cy="118.55" r="1.45" fill="#f07800"/>
<circle cx="195.36" cy="128.92" r="1.45" fill="#f07500"/>
<circle cx="198.38" cy="129.83" r="1.45" fill="#f07c00"/>
<circle cx="193.64" cy="133.52" r="1.45" fill="#f07700"/>
<circle cx="198.56" cy="121.69" r="1.45" fill="#f07500"/>
<circle cx="198.08" cy="122.72" r="1.45" fill="#f08700"/>
<circle cx="195.97" cy="121.00" r="1.45" fill="#f07500"/>
<circle cx="195.34" cy="128.64" r="1.45" fill="#f08700"/>
<circle cx="193.17" cy="124.30" r="1.45" fill="#f07500"/>
<circle cx="199.79" cy="120.27" r="1.45" fill="#f07100"/>
<circle cx="192.48" cy="124.29" r="1.45" fill="#f08600"/>
<circle cx="199.07" cy="129.72" r="1.45" fill="#f08800"/>
<circle cx="199.45" cy="123.27" r="1.45" fill="#f07400"/>
<circle cx="199.49" cy="129.94" r="1.45" fill="#f07100"/>
<circle cx="203.30" cy="119.25" r="1.45" fill="#ea8100"/>
<circle cx="197.64" cy="111.92" r="1.45" fill="#f07800"/>
<circle cx="196.76" cy="118.30" r="1.45" fill="#e18f00"/>
<circle cx="194.10" cy="139.75" r="1.45" fill="#ed7d00"/>
<circle cx="198.06" cy="134.76" r="1.45" fill="#e38c00"/>
<circle cx="199.35" cy="107.72" r="1.45" fill="#e88300"/>
<circle cx="198.34" cy="138.18" r="1.45" fill="#ed7d00"/>
<circle cx="198.19" cy="137.39" r="1.45" fill="#f07900"/>
<circle cx="198.98" cy="134.41" r="1.45" fill="#e48a00"/>
<circle cx="192.69" cy="107.22" r="1.45" fill="#ef7a00"/>
<circle cx="207.64" cy="115.00" r="1.45" fill="#e48a00"/>
<circle cx="207.28" cy="117.87" r="1.45" fill="#ec7f00"/>
<circle cx="208.28" cy="127.59" r="1.45" fill="#ec7e00"/>
<circle cx="204.18" cy="117.08" r="1.45" fill="#ec7f00"/>
<circle cx="192.06" cy="132.45" r="1.45" fill="#e18e00"/>
<circle cx="202.78" cy="139.01" r="1.45" fill="#f07900"/>
<circle cx="195.98" cy="122.63" r="1.45" fill="#e18f00"/>
<circle cx="208.22" cy="119.53" r="1.45" fill="#ec7e00"/>
<circle cx="199.31" cy="123.27" r="1.45" fill="#e18e00"/>
<circle cx="195.11" cy="134.09" r="1.45" fill="#e48a00"/>
<circle cx="205.99" cy="133.05" r="1.45" fill="#e68700"/>
<circle cx="197.57" cy="117.18" r="1.45" fill="#ea8100"/>
<circle cx="211.97" cy="107.50" r="1.45" fill="#db9500"/>
<circle cx="211.70" cy="110.70" r="1.45" fill="#de9200"/>
<circle cx="205.01" cy="116.50" r="1.45" fill="#d89800"/>
<circle cx="213.82" cy="122.79" r="1.45" fill="#c8a800"/>
<circle cx="207.16" cy="107.60" r="1.45" fill="#de9200"/>
<circle cx="209.34" cy="119.49" r="1.45" fill="#d59b00"/>
<circle cx="206.88" cy="113.92" r="1.45" fill="#d19f00"/>
<circle cx="210.97" cy="120.21" r="1.45" fill="#cca400"/>
<circle cx="210.88" cy="108.30" r="1.45" fill="#cca400"/>
<circle cx="207.43" cy="116.77" r="1.45" fill="#d79900"/>
<circle cx="211.56" cy="109.78" r="1.45" fill="#da9600"/>
<circle cx="206.98" cy="108.91" r="1.45" fill="#cba500"/>
<circle cx="210.08" cy="112.20" r="1.45" fill="#d69a00"/>
<circle cx="213.93" cy="115.64" r="1.45" fill="#da9600"/>
<circle cx="212.22" cy="118.41" r="1.45" fill="#c8a800"/>
<circle cx="205.65" cy="115.02" r="1.45" fill="#cca400"/>
<circle cx="212.20" cy="99.80" r="1.45" fill="#a8c400"/>
<circle cx="212.90" cy="119.30" r="1.45" fill="#7ad800"/>
<circle cx="214.00" cy="125.20" r="1.45" fill="#7ad800"/>
<circle cx="214.60" cy="129.90" r="1.45" fill="#7ad800"/>
<circle cx="215.20" cy="134.50" r="1.45" fill="#7ad800"/>
<circle cx="216.50" cy="137.00" r="1.45" fill="#7ad800"/>
<circle cx="217.50" cy="140.00" r="1.45" fill="#7ad800"/>
<circle cx="218.70" cy="143.90" r="1.45" fill="#7ad800"/>
<circle cx="219.70" cy="114.70" r="1.45" fill="#7ad800"/>
<circle cx="220.50" cy="89.50" r="1.45" fill="#7ad800"/>
<circle cx="230.66" cy="136.69" r="1.45" fill="#c7a900"/>
<circle cx="223.66" cy="115.22" r="1.45" fill="#c3ad00"/>
<circle cx="232.35" cy="127.75" r="1.45" fill="#c5ab00"/>
<circle cx="224.66" cy="135.39" r="1.45" fill="#bdb100"/>
<circle cx="223.23" cy="133.00" r="1.45" fill="#c5aa00"/>
<circle cx="221.25" cy="128.10" r="1.45" fill="#b9b300"/>
<circle cx="222.69" cy="121.96" r="1.45" fill="#c5ab00"/>
<circle cx="222.51" cy="118.88" r="1.45" fill="#bab300"/>
<circle cx="228.24" cy="117.49" r="1.45" fill="#c8a800"/>
<circle cx="224.09" cy="130.31" r="1.45" fill="#c4ac00"/>
<circle cx="223.90" cy="117.49" r="1.45" fill="#beaf00"/>
<circle cx="226.91" cy="113.71" r="1.45" fill="#c6aa00"/>
<circle cx="224.96" cy="126.85" r="1.45" fill="#b9b400"/>
<circle cx="221.07" cy="116.42" r="1.45" fill="#b9b300"/>
<circle cx="225.15" cy="119.65" r="1.45" fill="#c1af00"/>
<circle cx="232.10" cy="120.43" r="1.45" fill="#bab300"/>
<circle cx="224.47" cy="123.24" r="1.45" fill="#c1ad00"/>
<circle cx="232.66" cy="121.82" r="1.45" fill="#c3ad00"/>
<circle cx="229.22" cy="117.50" r="1.45" fill="#c8a800"/>
<circle cx="231.44" cy="123.44" r="1.45" fill="#bfae00"/>
<circle cx="225.10" cy="135.84" r="1.45" fill="#bdb200"/>
<circle cx="221.98" cy="112.40" r="1.45" fill="#bbb300"/>
<circle cx="228.10" cy="136.56" r="1.45" fill="#c6aa00"/>
<circle cx="227.86" cy="122.01" r="1.45" fill="#bcb200"/>
<circle cx="221.77" cy="119.65" r="1.45" fill="#bbb200"/>
<circle cx="231.75" cy="114.94" r="1.45" fill="#bcb200"/>
<circle cx="222.66" cy="144.54" r="1.45" fill="#9fc900"/>
<circle cx="214.52" cy="144.20" r="1.45" fill="#8acc00"/>
<circle cx="218.79" cy="131.75" r="1.45" fill="#8dcb00"/>
<circle cx="217.65" cy="143.66" r="1.45" fill="#a0c600"/>
<circle cx="222.89" cy="133.24" r="1.45" fill="#96c900"/>
<circle cx="215.66" cy="136.66" r="1.45" fill="#92ca00"/>
<circle cx="222.95" cy="133.56" r="1.45" fill="#a0c900"/>
<circle cx="217.80" cy="138.25" r="1.45" fill="#a5c600"/>
<circle cx="214.48" cy="134.46" r="1.45" fill="#9ac800"/>
<circle cx="223.77" cy="131.58" r="1.45" fill="#a4c500"/>
<circle cx="222.09" cy="131.53" r="1.45" fill="#92c900"/>
<circle cx="214.41" cy="139.39" r="1.45" fill="#a5c500"/>
<circle cx="220.52" cy="135.29" r="1.45" fill="#a6c500"/>
<circle cx="219.99" cy="136.96" r="1.45" fill="#9ec700"/>
<circle cx="218.36" cy="137.14" r="1.45" fill="#9acc00"/>
<circle cx="220.43" cy="137.85" r="1.45" fill="#a0c800"/>
<circle cx="204.64" cy="139.58" r="1.45" fill="#ec7c00"/>
<circle cx="198.80" cy="136.21" r="1.45" fill="#e97f00"/>
<circle cx="198.28" cy="135.74" r="1.45" fill="#e97f00"/>
<circle cx="201.42" cy="136.61" r="1.45" fill="#e88000"/>
<circle cx="203.36" cy="131.90" r="1.45" fill="#ee7a00"/>
<circle cx="204.78" cy="136.63" r="1.45" fill="#e88000"/>
<circle cx="202.04" cy="135.16" r="1.45" fill="#f07800"/>
<circle cx="198.36" cy="140.43" r="1.45" fill="#f07800"/>
<circle cx="221.00" cy="113.50" r="1.45" fill="#66dd22"/>
<circle cx="222.20" cy="121.70" r="1.45" fill="#66dd22"/>
<circle cx="223.40" cy="131.00" r="1.45" fill="#66dd22"/>
<circle cx="223.40" cy="138.00" r="1.45" fill="#66dd22"/>
<circle cx="233.90" cy="70.80" r="1.45" fill="#a8c400"/>
<circle cx="233.30" cy="72.80" r="1.45" fill="#a8c400"/>
<circle cx="233.90" cy="74.70" r="1.45" fill="#a8c400"/>
<circle cx="232.70" cy="78.50" r="1.45" fill="#c8a800"/>
<circle cx="233.30" cy="80.40" r="1.45" fill="#c8a800"/>
<circle cx="230.10" cy="79.80" r="1.45" fill="#c8a800"/>
<circle cx="232.00" cy="87.40" r="1.45" fill="#c8a800"/>
<circle cx="230.10" cy="90.00" r="1.45" fill="#c8a800"/>
<circle cx="231.00" cy="88.50" r="1.45" fill="#c8a800"/>
<circle cx="229.50" cy="101.50" r="1.45" fill="#c8a800"/>
<circle cx="230.50" cy="102.00" r="1.45" fill="#c8a800"/>
<circle cx="229.30" cy="89.90" r="1.45" fill="#c8a800"/>
<circle cx="229.30" cy="101.50" r="1.45" fill="#c8a800"/>
<circle cx="230.70" cy="114.10" r="1.45" fill="#d0a000"/>
<circle cx="231.40" cy="119.00" r="1.45" fill="#d0a000"/>
<circle cx="231.40" cy="122.50" r="1.45" fill="#d0a000"/>
<circle cx="234.60" cy="90.60" r="1.45" fill="#11ee00"/>
<circle cx="235.20" cy="99.50" r="1.45" fill="#11ee00"/>
<circle cx="236.50" cy="108.50" r="1.45" fill="#11ee00"/>
<circle cx="235.60" cy="109.20" r="1.45" fill="#11ee00"/>
<circle cx="237.00" cy="115.50" r="1.45" fill="#11ee00"/>
<circle cx="236.00" cy="117.00" r="1.45" fill="#11ee00"/>
<circle cx="235.60" cy="120.40" r="1.45" fill="#11ee00"/>
<circle cx="237.00" cy="126.00" r="1.45" fill="#11ee00"/>
<circle cx="238.66" cy="126.30" r="1.45" fill="#44e044"/>
<circle cx="239.91" cy="119.84" r="1.45" fill="#44e044"/>
<circle cx="239.58" cy="113.30" r="1.45" fill="#44e044"/>
<circle cx="239.65" cy="111.31" r="1.45" fill="#44e044"/>
<circle cx="238.78" cy="113.18" r="1.45" fill="#44e044"/>
<circle cx="236.37" cy="126.31" r="1.45" fill="#44e044"/>
<circle cx="237.51" cy="128.40" r="1.45" fill="#44e044"/>
<circle cx="236.31" cy="120.12" r="1.45" fill="#44e044"/>
<circle cx="235.18" cy="113.64" r="1.45" fill="#44e044"/>
<circle cx="239.68" cy="123.59" r="1.45" fill="#44e044"/>
<circle cx="237.60" cy="122.48" r="1.45" fill="#78c090"/>
<circle cx="237.80" cy="123.16" r="1.45" fill="#77c18e"/>
<circle cx="239.37" cy="124.04" r="1.45" fill="#76c18c"/>
<circle cx="240.26" cy="125.79" r="1.45" fill="#75c28a"/>
<circle cx="239.88" cy="127.87" r="1.45" fill="#75c288"/>
<circle cx="239.12" cy="129.40" r="1.45" fill="#74c386"/>
<circle cx="240.79" cy="129.22" r="1.45" fill="#73c384"/>
<circle cx="241.60" cy="130.18" r="1.45" fill="#72c482"/>
<circle cx="242.52" cy="132.17" r="1.45" fill="#71c580"/>
<circle cx="241.60" cy="133.80" r="1.45" fill="#70c57e"/>
<circle cx="242.39" cy="133.58" r="1.45" fill="#6fc67c"/>
<circle cx="243.71" cy="134.46" r="1.45" fill="#6fc67a"/>
<circle cx="244.48" cy="136.14" r="1.45" fill="#6ec778"/>
<circle cx="244.64" cy="139.08" r="1.45" fill="#6dc776"/>
<circle cx="245.11" cy="139.49" r="1.45" fill="#6cc874"/>
<circle cx="244.98" cy="139.11" r="1.45" fill="#6bc972"/>
<circle cx="244.47" cy="140.78" r="1.45" fill="#6ac970"/>
<circle cx="246.03" cy="142.78" r="1.45" fill="#69ca6e"/>
<circle cx="245.95" cy="145.21" r="1.45" fill="#69ca6c"/>
<circle cx="245.20" cy="144.92" r="1.45" fill="#68cb6a"/>
<circle cx="245.80" cy="145.55" r="1.45" fill="#67cb68"/>
<circle cx="243.51" cy="147.45" r="1.45" fill="#66cc66"/>
<circle cx="239.60" cy="128.79" r="1.45" fill="#7fc094"/>
<circle cx="246.75" cy="133.19" r="1.45" fill="#7fc093"/>
<circle cx="247.36" cy="131.02" r="1.45" fill="#7cc092"/>
<circle cx="252.05" cy="126.63" r="1.45" fill="#7dc092"/>
<circle cx="239.44" cy="134.13" r="1.45" fill="#6ac07a"/>
<circle cx="249.73" cy="129.64" r="1.45" fill="#80c094"/>
<circle cx="238.17" cy="134.25" r="1.45" fill="#83c093"/>
<circle cx="243.25" cy="134.27" r="1.45" fill="#86c097"/>
<circle cx="252.06" cy="135.94" r="1.45" fill="#80c094"/>
<circle cx="251.55" cy="122.84" r="1.45" fill="#85c095"/>
<circle cx="244.09" cy="126.52" r="1.45" fill="#7ac091"/>
<circle cx="249.68" cy="122.23" r="1.45" fill="#84c094"/>
<circle cx="252.11" cy="124.70" r="1.45" fill="#7ec093"/>
<circle cx="247.12" cy="131.63" r="1.45" fill="#7dc08d"/>
<circle cx="250.20" cy="125.32" r="1.45" fill="#82c095"/>
<circle cx="242.50" cy="122.92" r="1.45" fill="#69c079"/>
<circle cx="249.74" cy="135.59" r="1.45" fill="#78c090"/>
<circle cx="250.67" cy="136.16" r="1.45" fill="#87c097"/>
<circle cx="249.13" cy="130.60" r="1.45" fill="#7fc094"/>
<circle cx="239.58" cy="126.41" r="1.45" fill="#79c091"/>
<circle cx="243.03" cy="136.24" r="1.45" fill="#78c088"/>
<circle cx="250.68" cy="135.52" r="1.45" fill="#81c094"/>
<circle cx="246.31" cy="130.29" r="1.45" fill="#71c081"/>
<circle cx="245.85" cy="127.04" r="1.45" fill="#7dc08d"/>
<circle cx="252.48" cy="126.12" r="1.45" fill="#6ac07a"/>
<circle cx="238.23" cy="126.95" r="1.45" fill="#80c094"/>
<circle cx="249.16" cy="139.95" r="1.45" fill="#74c084"/>
<circle cx="242.90" cy="138.72" r="1.45" fill="#83c095"/>
<circle cx="241.59" cy="139.24" r="1.45" fill="#7ec08e"/>
<circle cx="248.39" cy="134.64" r="1.45" fill="#62c072"/>
<circle cx="255.30" cy="110.20" r="1.45" fill="#7080c0"/>
<circle cx="255.40" cy="112.00" r="1.45" fill="#7080c0"/>
<circle cx="255.00" cy="115.00" r="1.45" fill="#7080c0"/>
<circle cx="255.00" cy="119.20" r="1.45" fill="#7080c0"/>
<circle cx="255.60" cy="120.30" r="1.45" fill="#7080c0"/>
<circle cx="254.20" cy="122.60" r="1.45" fill="#7080c0"/>
<circle cx="256.45" cy="128.81" r="1.45" fill="#7585c0"/>
<circle cx="257.09" cy="130.06" r="1.45" fill="#7686bf"/>
<circle cx="256.83" cy="131.04" r="1.45" fill="#7787bf"/>
<circle cx="257.21" cy="131.52" r="1.45" fill="#7888be"/>
<circle cx="256.71" cy="133.31" r="1.45" fill="#7989bd"/>
<circle cx="256.62" cy="135.06" r="1.45" fill="#7a8abd"/>
<circle cx="256.93" cy="134.69" r="1.45" fill="#7a8abc"/>
<circle cx="257.07" cy="137.54" r="1.45" fill="#7b8bbb"/>
<circle cx="257.70" cy="137.34" r="1.45" fill="#7c8cbb"/>
<circle cx="257.34" cy="138.38" r="1.45" fill="#7d8dba"/>
<circle cx="258.74" cy="140.67" r="1.45" fill="#7e8eb9"/>
<circle cx="258.95" cy="142.08" r="1.45" fill="#7f8fb9"/>
<circle cx="258.01" cy="143.04" r="1.45" fill="#8090b8"/>
<circle cx="259.00" cy="144.60" r="1.45" fill="#7f91b6"/>
<circle cx="260.28" cy="145.88" r="1.45" fill="#7d93b4"/>
<circle cx="259.39" cy="146.98" r="1.45" fill="#7c94b2"/>
<circle cx="262.04" cy="147.56" r="1.45" fill="#7b95b0"/>
<circle cx="261.67" cy="146.73" r="1.45" fill="#7997ae"/>
<circle cx="262.23" cy="147.53" r="1.45" fill="#7898ac"/>
<circle cx="264.11" cy="150.04" r="1.45" fill="#7799aa"/>
<circle cx="264.40" cy="151.09" r="1.45" fill="#759ba8"/>
<circle cx="265.14" cy="151.12" r="1.45" fill="#749ca6"/>
<circle cx="264.92" cy="151.77" r="1.45" fill="#739da4"/>
<circle cx="267.19" cy="152.48" r="1.45" fill="#719fa2"/>
<circle cx="267.57" cy="153.26" r="1.45" fill="#70a0a0"/>
<circle cx="259.15" cy="141.59" r="1.45" fill="#7e9ead"/>
<circle cx="264.01" cy="143.15" r="1.45" fill="#7d9fab"/>
<circle cx="265.75" cy="145.05" r="1.45" fill="#79b996"/>
<circle cx="263.33" cy="138.43" r="1.45" fill="#7da4a7"/>
<circle cx="262.06" cy="148.82" r="1.45" fill="#7da1aa"/>
<circle cx="263.93" cy="145.53" r="1.45" fill="#7e9aaf"/>
<circle cx="265.04" cy="139.27" r="1.45" fill="#79b797"/>
<circle cx="260.19" cy="138.02" r="1.45" fill="#7e9ab0"/>
<circle cx="264.34" cy="151.69" r="1.45" fill="#8090b8"/>
<circle cx="262.44" cy="144.88" r="1.45" fill="#7ab698"/>
<circle cx="260.29" cy="144.92" r="1.45" fill="#7da1aa"/>
<circle cx="264.82" cy="141.65" r="1.45" fill="#78bd92"/>
<circle cx="253.40" cy="127.60" r="1.45" fill="#5050d8"/>
<circle cx="267.20" cy="151.30" r="1.45" fill="#44dd44"/>
<circle cx="273.50" cy="121.80" r="1.45" fill="#44dd44"/>
<circle cx="274.20" cy="132.40" r="1.45" fill="#44dd44"/>
<circle cx="274.90" cy="134.50" r="1.45" fill="#44dd44"/>
<circle cx="274.90" cy="138.70" r="1.45" fill="#44dd44"/>
<circle cx="273.50" cy="139.40" r="1.45" fill="#44dd44"/>
<circle cx="270.70" cy="151.30" r="1.45" fill="#ff3300"/>
<circle cx="272.10" cy="152.70" r="1.45" fill="#ff3300"/>
<circle cx="271.50" cy="150.50" r="1.45" fill="#ff3300"/>
<circle cx="272.10" cy="139.40" r="1.45" fill="#ff3300"/>
<circle cx="273.00" cy="152.00" r="1.45" fill="#ff3300"/>
<circle cx="272.80" cy="79.40" r="1.45" fill="#e08000"/>
<circle cx="273.20" cy="96.10" r="1.45" fill="#c8a000"/>
<line x1="107.90" y1="64.50" x2="151.00" y2="64.50" stroke="#555" stroke-width="1.5"/>
<line x1="107.90" y1="126.00" x2="151.00" y2="126.00" stroke="#777" stroke-width="1.5"/>
<line x1="107.90" y1="74.90" x2="151.00" y2="74.90" stroke="#000" stroke-width="1.9" stroke-dasharray="4.7 2.3" stroke-dashoffset="1.8"/>
<line x1="150.30" y1="139.10" x2="193.00" y2="139.10" stroke="#555" stroke-width="1.5"/>
<line x1="150.30" y1="132.30" x2="193.00" y2="132.30" stroke="#888" stroke-width="1.5"/>
<line x1="150.30" y1="115.80" x2="193.00" y2="115.80" stroke="#000" stroke-width="1.9" stroke-dasharray="4.7 2.3" stroke-dashoffset="1.8"/>
<line x1="192.20" y1="110.10" x2="234.70" y2="110.10" stroke="#555" stroke-width="1.5"/>
<line x1="192.20" y1="128.40" x2="234.70" y2="128.40" stroke="#777" stroke-width="1.5"/>
<line x1="192.20" y1="79.60" x2="234.70" y2="79.60" stroke="#000" stroke-width="1.9" stroke-dasharray="4.7 2.3" stroke-dashoffset="1.8"/>
<line x1="234.50" y1="118.60" x2="276.80" y2="118.60" stroke="#555" stroke-width="1.5"/>
<line x1="234.50" y1="141.20" x2="276.80" y2="141.20" stroke="#777" stroke-width="1.5"/>
<line x1="234.50" y1="91.90" x2="276.80" y2="91.90" stroke="#000" stroke-width="1.9" stroke-dasharray="4.7 2.3" stroke-dashoffset="1.8"/>
<line x1="336.60" y1="131.20" x2="551.00" y2="131.20" stroke="#dddddd" stroke-width="0.8"/>
<line x1="336.00" y1="36.00" x2="551.50" y2="36.00" stroke="#d6d6d6" stroke-width="1.3"/>
<line x1="336.60" y1="35.50" x2="336.60" y2="163.70" stroke="#888888" stroke-width="1.3"/>
<line x1="551.00" y1="35.50" x2="551.00" y2="163.70" stroke="#555555" stroke-width="1.1"/>
<line x1="336.00" y1="163.20" x2="551.50" y2="163.20" stroke="#999999" stroke-width="1.1"/>
<line x1="346.20" y1="163.20" x2="346.20" y2="165.50" stroke="#555" stroke-width="0.85"/>
<text x="0" y="0" font-size="11.5" fill="#4d4d4d" text-anchor="start" transform="translate(337.90 174.80) scale(1 1.07)">Feb 02</text>
<line x1="388.20" y1="163.20" x2="388.20" y2="165.50" stroke="#555" stroke-width="0.85"/>
<text x="0" y="0" font-size="11.5" fill="#4d4d4d" text-anchor="start" transform="translate(379.90 174.80) scale(1 1.07)">Feb 03</text>
<line x1="430.20" y1="163.20" x2="430.20" y2="165.50" stroke="#555" stroke-width="0.85"/>
<text x="0" y="0" font-size="11.5" fill="#4d4d4d" text-anchor="start" transform="translate(421.90 174.80) scale(1 1.07)">Feb 04</text>
<line x1="472.20" y1="163.20" x2="472.20" y2="165.50" stroke="#555" stroke-width="0.85"/>
<text x="0" y="0" font-size="11.5" fill="#4d4d4d" text-anchor="start" transform="translate(463.90 174.80) scale(1 1.07)">Feb 05</text>
<line x1="514.20" y1="163.20" x2="514.20" y2="165.50" stroke="#555" stroke-width="0.85"/>
<text x="0" y="0" font-size="11.5" fill="#4d4d4d" text-anchor="start" transform="translate(505.90 174.80) scale(1 1.07)">Feb 06</text>
<text x="0" y="0" font-size="12.0" fill="#000" text-anchor="middle" transform="translate(444.00 186.70) scale(1 1.07)">Time</text>
<text x="0" y="0" font-size="6" fill="#666" text-anchor="middle" transform="translate(367.20 32.70) scale(1 1.07)">27</text>
<text x="0" y="0" font-size="6" fill="#666" text-anchor="middle" transform="translate(409.20 32.70) scale(1 1.07)">39</text>
<text x="0" y="0" font-size="6" fill="#666" text-anchor="middle" transform="translate(451.20 32.70) scale(1 1.07)">31</text>
<text x="0" y="0" font-size="6" fill="#666" text-anchor="middle" transform="translate(493.20 32.70) scale(1 1.07)">38</text>
<text x="0" y="0" font-size="6.1" fill="#8a8a8a" text-anchor="start" transform="translate(525.50 32.10) scale(1 1.07)">PM 2.5</text>
<text x="0" y="0" font-size="8.0" fill="#000" text-anchor="start" transform="translate(536.50 45.90) scale(1 1.07)">B</text>
<line x1="359.50" y1="155.50" x2="363.40" y2="155.50" stroke="#ff0a0a" stroke-width="1.1"/>
<line x1="363.40" y1="155.50" x2="363.40" y2="145.00" stroke="#ff4040" stroke-width="0.85" stroke-dasharray="1 0.9"/>
<line x1="363.40" y1="145.00" x2="367.10" y2="145.00" stroke="#ff0a0a" stroke-width="1.1"/>
<line x1="367.10" y1="145.00" x2="367.10" y2="147.40" stroke="#ff4040" stroke-width="0.85" stroke-dasharray="1 0.9"/>
<line x1="367.10" y1="147.40" x2="370.30" y2="147.40" stroke="#ff0a0a" stroke-width="1.1"/>
<line x1="370.30" y1="147.40" x2="370.30" y2="155.80" stroke="#ff4040" stroke-width="0.85" stroke-dasharray="1 0.9"/>
<line x1="370.30" y1="155.80" x2="373.90" y2="155.80" stroke="#ff0a0a" stroke-width="1.1"/>
<line x1="373.90" y1="155.80" x2="373.90" y2="154.20" stroke="#ff4040" stroke-width="0.85" stroke-dasharray="1 0.9"/>
<line x1="373.90" y1="154.20" x2="377.50" y2="154.20" stroke="#ff0a0a" stroke-width="1.1"/>
<line x1="377.50" y1="154.20" x2="377.50" y2="147.40" stroke="#ff4040" stroke-width="0.85" stroke-dasharray="1 0.9"/>
<line x1="377.50" y1="147.40" x2="381.10" y2="147.40" stroke="#ff0a0a" stroke-width="1.1"/>
<line x1="381.10" y1="147.40" x2="381.10" y2="145.00" stroke="#ff4040" stroke-width="0.85" stroke-dasharray="1 0.9"/>
<line x1="381.10" y1="145.00" x2="384.60" y2="145.00" stroke="#ff0a0a" stroke-width="1.1"/>
<line x1="384.60" y1="145.00" x2="384.60" y2="149.40" stroke="#ff4040" stroke-width="0.85" stroke-dasharray="1 0.9"/>
<line x1="384.60" y1="149.40" x2="387.70" y2="149.40" stroke="#ff0a0a" stroke-width="1.1"/>
<line x1="387.70" y1="149.40" x2="387.70" y2="150.50" stroke="#ff4040" stroke-width="0.85" stroke-dasharray="1 0.9"/>
<line x1="387.70" y1="150.50" x2="391.30" y2="150.50" stroke="#ff0a0a" stroke-width="1.1"/>
<line x1="391.30" y1="150.50" x2="391.30" y2="133.10" stroke="#ff4040" stroke-width="0.85" stroke-dasharray="1 0.9"/>
<line x1="391.30" y1="133.10" x2="394.90" y2="133.10" stroke="#ff0a0a" stroke-width="1.1"/>
<line x1="394.90" y1="133.10" x2="394.90" y2="150.50" stroke="#ff4040" stroke-width="0.85" stroke-dasharray="1 0.9"/>
<line x1="394.90" y1="150.50" x2="398.40" y2="150.50" stroke="#ff0a0a" stroke-width="1.1"/>
<line x1="398.40" y1="150.50" x2="398.40" y2="149.40" stroke="#ff4040" stroke-width="0.85" stroke-dasharray="1 0.9"/>
<line x1="398.40" y1="149.40" x2="402.00" y2="149.40" stroke="#ff0a0a" stroke-width="1.1"/>
<line x1="402.00" y1="149.40" x2="402.00" y2="153.20" stroke="#ff4040" stroke-width="0.85" stroke-dasharray="1 0.9"/>
<line x1="402.00" y1="153.20" x2="405.60" y2="153.20" stroke="#ff0a0a" stroke-width="1.1"/>
<line x1="405.60" y1="153.20" x2="405.60" y2="148.40" stroke="#ff4040" stroke-width="0.85" stroke-dasharray="1 0.9"/>
<line x1="405.60" y1="148.40" x2="409.20" y2="148.40" stroke="#ff0a0a" stroke-width="1.1"/>
<line x1="409.20" y1="148.40" x2="409.20" y2="153.20" stroke="#ff4040" stroke-width="0.85" stroke-dasharray="1 0.9"/>
<line x1="409.20" y1="153.20" x2="412.70" y2="153.20" stroke="#ff0a0a" stroke-width="1.1"/>
<line x1="412.70" y1="153.20" x2="412.70" y2="153.20" stroke="#ff4040" stroke-width="0.85" stroke-dasharray="1 0.9"/>
<line x1="412.70" y1="153.20" x2="416.30" y2="153.20" stroke="#ff0a0a" stroke-width="1.1"/>
<line x1="416.30" y1="153.20" x2="416.30" y2="154.70" stroke="#ff4040" stroke-width="0.85" stroke-dasharray="1 0.9"/>
<line x1="416.30" y1="154.70" x2="419.40" y2="154.70" stroke="#ff0a0a" stroke-width="1.1"/>
<line x1="419.40" y1="154.70" x2="419.40" y2="129.50" stroke="#ff4040" stroke-width="0.85" stroke-dasharray="1 0.9"/>
<line x1="419.40" y1="129.50" x2="422.90" y2="129.50" stroke="#ff0a0a" stroke-width="1.1"/>
<line x1="422.90" y1="129.50" x2="422.90" y2="116.90" stroke="#ff4040" stroke-width="0.85" stroke-dasharray="1 0.9"/>
<line x1="422.90" y1="116.90" x2="426.30" y2="116.90" stroke="#ff0a0a" stroke-width="1.1"/>
<line x1="426.30" y1="116.90" x2="426.30" y2="118.00" stroke="#ff4040" stroke-width="0.85" stroke-dasharray="1 0.9"/>
<line x1="426.30" y1="118.00" x2="429.80" y2="118.00" stroke="#ff0a0a" stroke-width="1.1"/>
<line x1="429.80" y1="118.00" x2="429.80" y2="119.30" stroke="#ff4040" stroke-width="0.85" stroke-dasharray="1 0.9"/>
<line x1="429.80" y1="119.30" x2="433.40" y2="119.30" stroke="#ff0a0a" stroke-width="1.1"/>
<line x1="433.40" y1="119.30" x2="433.40" y2="97.30" stroke="#ff4040" stroke-width="0.85" stroke-dasharray="1 0.9"/>
<line x1="433.40" y1="97.30" x2="437.00" y2="97.30" stroke="#ff0a0a" stroke-width="1.1"/>
<line x1="437.00" y1="97.30" x2="437.00" y2="90.30" stroke="#ff4040" stroke-width="0.85" stroke-dasharray="1 0.9"/>
<line x1="437.00" y1="90.30" x2="440.60" y2="90.30" stroke="#ff0a0a" stroke-width="1.1"/>
<line x1="440.60" y1="90.30" x2="440.60" y2="97.40" stroke="#ff4040" stroke-width="0.85" stroke-dasharray="1 0.9"/>
<line x1="440.60" y1="97.40" x2="444.20" y2="97.40" stroke="#ff0a0a" stroke-width="1.1"/>
<line x1="444.20" y1="97.40" x2="444.20" y2="117.00" stroke="#ff4040" stroke-width="0.85" stroke-dasharray="1 0.9"/>
<line x1="444.20" y1="117.00" x2="447.70" y2="117.00" stroke="#ff0a0a" stroke-width="1.1"/>
<line x1="447.70" y1="117.00" x2="447.70" y2="143.10" stroke="#ff4040" stroke-width="0.85" stroke-dasharray="1 0.9"/>
<line x1="447.70" y1="143.10" x2="451.20" y2="143.10" stroke="#ff0a0a" stroke-width="1.1"/>
<line x1="451.20" y1="143.10" x2="451.20" y2="116.20" stroke="#ff4040" stroke-width="0.85" stroke-dasharray="1 0.9"/>
<line x1="451.20" y1="116.20" x2="454.40" y2="116.20" stroke="#ff0a0a" stroke-width="1.1"/>
<line x1="454.40" y1="116.20" x2="454.40" y2="102.00" stroke="#ff4040" stroke-width="0.85" stroke-dasharray="1 0.9"/>
<line x1="454.40" y1="102.00" x2="458.00" y2="102.00" stroke="#ff0a0a" stroke-width="1.1"/>
<line x1="458.00" y1="102.00" x2="458.00" y2="106.40" stroke="#ff4040" stroke-width="0.85" stroke-dasharray="1 0.9"/>
<line x1="458.00" y1="106.40" x2="461.50" y2="106.40" stroke="#ff0a0a" stroke-width="1.1"/>
<line x1="461.50" y1="106.40" x2="461.50" y2="155.40" stroke="#ff4040" stroke-width="0.85" stroke-dasharray="1 0.9"/>
<line x1="461.50" y1="155.40" x2="465.00" y2="155.40" stroke="#ff0a0a" stroke-width="1.1"/>
<line x1="465.00" y1="155.40" x2="465.00" y2="154.00" stroke="#ff4040" stroke-width="0.85" stroke-dasharray="1 0.9"/>
<line x1="465.00" y1="154.00" x2="468.40" y2="154.00" stroke="#ff0a0a" stroke-width="1.1"/>
<line x1="468.40" y1="154.00" x2="468.40" y2="101.00" stroke="#ff4040" stroke-width="0.85" stroke-dasharray="1 0.9"/>
<line x1="468.40" y1="101.00" x2="471.50" y2="101.00" stroke="#ff0a0a" stroke-width="1.1"/>
<line x1="471.50" y1="101.00" x2="471.50" y2="155.80" stroke="#ff4040" stroke-width="0.85" stroke-dasharray="1 0.9"/>
<line x1="471.50" y1="155.80" x2="475.30" y2="155.80" stroke="#ff0a0a" stroke-width="1.1"/>
<line x1="475.30" y1="155.80" x2="475.30" y2="152.30" stroke="#ff4040" stroke-width="0.85" stroke-dasharray="1 0.9"/>
<line x1="475.30" y1="152.30" x2="479.30" y2="152.30" stroke="#ff0a0a" stroke-width="1.1"/>
<line x1="479.30" y1="152.30" x2="479.30" y2="127.00" stroke="#ff4040" stroke-width="0.85" stroke-dasharray="1 0.9"/>
<line x1="479.30" y1="127.00" x2="482.80" y2="127.00" stroke="#ff0a0a" stroke-width="1.1"/>
<line x1="482.80" y1="127.00" x2="482.80" y2="153.40" stroke="#ff4040" stroke-width="0.85" stroke-dasharray="1 0.9"/>
<line x1="482.80" y1="153.40" x2="486.30" y2="153.40" stroke="#ff0a0a" stroke-width="1.1"/>
<line x1="486.30" y1="153.40" x2="486.30" y2="151.00" stroke="#ff4040" stroke-width="0.85" stroke-dasharray="1 0.9"/>
<line x1="486.30" y1="151.00" x2="489.60" y2="151.00" stroke="#ff0a0a" stroke-width="1.1"/>
<line x1="489.60" y1="151.00" x2="489.60" y2="123.20" stroke="#ff4040" stroke-width="0.85" stroke-dasharray="1 0.9"/>
<line x1="489.60" y1="123.20" x2="493.30" y2="123.20" stroke="#ff0a0a" stroke-width="1.1"/>
<line x1="493.30" y1="123.20" x2="493.30" y2="133.80" stroke="#ff4040" stroke-width="0.85" stroke-dasharray="1 0.9"/>
<line x1="493.30" y1="133.80" x2="496.80" y2="133.80" stroke="#ff0a0a" stroke-width="1.1"/>
<line x1="496.80" y1="133.80" x2="496.80" y2="134.50" stroke="#ff4040" stroke-width="0.85" stroke-dasharray="1 0.9"/>
<line x1="496.80" y1="134.50" x2="500.30" y2="134.50" stroke="#ff0a0a" stroke-width="1.1"/>
<line x1="500.30" y1="134.50" x2="500.30" y2="123.20" stroke="#ff4040" stroke-width="0.85" stroke-dasharray="1 0.9"/>
<line x1="500.30" y1="123.20" x2="503.60" y2="123.20" stroke="#ff0a0a" stroke-width="1.1"/>
<line x1="503.60" y1="123.20" x2="503.60" y2="137.30" stroke="#ff4040" stroke-width="0.85" stroke-dasharray="1 0.9"/>
<line x1="503.60" y1="137.30" x2="507.40" y2="137.30" stroke="#ff0a0a" stroke-width="1.1"/>
<line x1="507.40" y1="137.30" x2="507.40" y2="141.20" stroke="#ff4040" stroke-width="0.85" stroke-dasharray="1 0.9"/>
<line x1="507.40" y1="141.20" x2="510.20" y2="141.20" stroke="#ff0a0a" stroke-width="1.1"/>
<line x1="510.20" y1="141.20" x2="510.20" y2="138.40" stroke="#ff4040" stroke-width="0.85" stroke-dasharray="1 0.9"/>
<line x1="510.20" y1="138.40" x2="513.70" y2="138.40" stroke="#ff0a0a" stroke-width="1.1"/>
<line x1="513.70" y1="138.40" x2="513.70" y2="142.20" stroke="#ff4040" stroke-width="0.85" stroke-dasharray="1 0.9"/>
<line x1="513.70" y1="142.20" x2="517.90" y2="142.20" stroke="#ff0a0a" stroke-width="1.1"/>
<line x1="517.90" y1="142.20" x2="517.90" y2="140.10" stroke="#ff4040" stroke-width="0.85" stroke-dasharray="1 0.9"/>
<line x1="517.90" y1="140.10" x2="522.10" y2="140.10" stroke="#ff0a0a" stroke-width="1.1"/>
<line x1="522.10" y1="140.10" x2="522.10" y2="138.40" stroke="#ff4040" stroke-width="0.85" stroke-dasharray="1 0.9"/>
<line x1="522.10" y1="138.40" x2="524.90" y2="138.40" stroke="#ff0a0a" stroke-width="1.1"/>
<line x1="524.90" y1="138.40" x2="524.90" y2="139.40" stroke="#ff4040" stroke-width="0.85" stroke-dasharray="1 0.9"/>
<line x1="524.90" y1="139.40" x2="528.40" y2="139.40" stroke="#ff0a0a" stroke-width="1.1"/>
<circle cx="363.40" cy="91.30" r="1.45" fill="#88dd00"/>
<circle cx="362.80" cy="102.70" r="1.45" fill="#88dd00"/>
<circle cx="363.40" cy="104.60" r="1.45" fill="#88dd00"/>
<circle cx="363.40" cy="106.60" r="1.45" fill="#88dd00"/>
<circle cx="363.30" cy="106.40" r="1.45" fill="#a0d000"/>
<circle cx="362.60" cy="112.00" r="1.45" fill="#a0d000"/>
<circle cx="363.30" cy="116.20" r="1.45" fill="#a0d000"/>
<circle cx="364.00" cy="119.70" r="1.45" fill="#a0d000"/>
<circle cx="360.50" cy="122.50" r="1.45" fill="#a0d000"/>
<circle cx="361.20" cy="124.60" r="1.45" fill="#a0d000"/>
<circle cx="359.50" cy="120.50" r="1.45" fill="#a0d000"/>
<circle cx="360.00" cy="126.50" r="1.45" fill="#a0d000"/>
<circle cx="362.50" cy="128.50" r="1.45" fill="#a0d000"/>
<circle cx="364.70" cy="132.40" r="1.45" fill="#66dd11"/>
<circle cx="365.40" cy="135.90" r="1.45" fill="#66dd11"/>
<circle cx="366.80" cy="138.70" r="1.45" fill="#66dd11"/>
<circle cx="368.20" cy="142.20" r="1.45" fill="#66dd11"/>
<circle cx="366.10" cy="142.90" r="1.45" fill="#66dd11"/>
<circle cx="368.20" cy="145.70" r="1.45" fill="#66dd11"/>
<circle cx="370.00" cy="146.00" r="1.45" fill="#66dd11"/>
<circle cx="371.70" cy="148.50" r="1.45" fill="#66dd11"/>
<circle cx="372.40" cy="149.90" r="1.45" fill="#66dd11"/>
<circle cx="374.60" cy="142.90" r="1.45" fill="#66dd11"/>
<circle cx="375.00" cy="145.00" r="1.45" fill="#66dd11"/>
<circle cx="365.97" cy="134.72" r="1.45" fill="#6dda0e"/>
<circle cx="368.98" cy="132.42" r="1.45" fill="#75d909"/>
<circle cx="363.13" cy="147.33" r="1.45" fill="#6dda0d"/>
<circle cx="373.02" cy="143.81" r="1.45" fill="#7ed905"/>
<circle cx="367.62" cy="138.68" r="1.45" fill="#53dc1b"/>
<circle cx="363.21" cy="149.55" r="1.45" fill="#68dd10"/>
<circle cx="364.89" cy="135.79" r="1.45" fill="#51dc1b"/>
<circle cx="369.02" cy="138.34" r="1.45" fill="#54dc1a"/>
<circle cx="365.27" cy="140.14" r="1.45" fill="#84d802"/>
<circle cx="372.56" cy="146.57" r="1.45" fill="#74d90a"/>
<circle cx="366.88" cy="137.19" r="1.45" fill="#71db0c"/>
<circle cx="373.80" cy="144.57" r="1.45" fill="#67da10"/>
<circle cx="364.37" cy="139.65" r="1.45" fill="#63db13"/>
<circle cx="370.11" cy="132.77" r="1.45" fill="#85d801"/>
<circle cx="374.39" cy="135.23" r="1.45" fill="#73db0a"/>
<circle cx="366.22" cy="145.47" r="1.45" fill="#59db17"/>
<circle cx="375.93" cy="129.89" r="1.45" fill="#60c080"/>
<circle cx="378.08" cy="136.66" r="1.45" fill="#66ba86"/>
<circle cx="378.10" cy="130.50" r="1.45" fill="#46db2b"/>
<circle cx="383.11" cy="128.88" r="1.45" fill="#47da2f"/>
<circle cx="375.27" cy="134.11" r="1.45" fill="#45dc28"/>
<circle cx="383.94" cy="140.57" r="1.45" fill="#78b498"/>
<circle cx="376.45" cy="138.80" r="1.45" fill="#69b789"/>
<circle cx="376.58" cy="134.18" r="1.45" fill="#6eb28e"/>
<circle cx="378.99" cy="141.63" r="1.45" fill="#61c381"/>
<circle cx="380.26" cy="138.70" r="1.45" fill="#7bb29b"/>
<circle cx="375.77" cy="138.17" r="1.45" fill="#74b694"/>
<circle cx="383.26" cy="143.80" r="1.45" fill="#77b497"/>
<circle cx="381.17" cy="140.86" r="1.45" fill="#76b596"/>
<circle cx="376.86" cy="140.36" r="1.45" fill="#4ed34b"/>
<circle cx="383.68" cy="139.95" r="1.45" fill="#50d155"/>
<circle cx="382.49" cy="138.87" r="1.45" fill="#7ab39a"/>
<circle cx="377.91" cy="138.62" r="1.45" fill="#6ab68a"/>
<circle cx="379.24" cy="141.47" r="1.45" fill="#5ec47e"/>
<circle cx="381.87" cy="131.63" r="1.45" fill="#76b596"/>
<circle cx="379.69" cy="138.50" r="1.45" fill="#74b694"/>
<circle cx="382.44" cy="144.21" r="1.45" fill="#64bc84"/>
<circle cx="382.18" cy="141.40" r="1.45" fill="#72b792"/>
<circle cx="383.70" cy="109.20" r="1.45" fill="#7585c0"/>
<circle cx="384.20" cy="111.00" r="1.45" fill="#7585c0"/>
<circle cx="383.70" cy="117.60" r="1.45" fill="#7585c0"/>
<circle cx="382.30" cy="140.80" r="1.45" fill="#7585c0"/>
<circle cx="383.00" cy="142.50" r="1.45" fill="#7585c0"/>
<circle cx="387.20" cy="142.20" r="1.45" fill="#44dd22"/>
<circle cx="386.50" cy="145.70" r="1.45" fill="#44dd22"/>
<circle cx="387.90" cy="152.70" r="1.45" fill="#44dd22"/>
<circle cx="390.00" cy="153.40" r="1.45" fill="#44dd22"/>
<circle cx="390.70" cy="154.80" r="1.45" fill="#44dd22"/>
<circle cx="391.40" cy="151.50" r="1.45" fill="#44dd22"/>
<circle cx="389.00" cy="150.00" r="1.45" fill="#44dd22"/>
<circle cx="388.50" cy="148.00" r="1.45" fill="#44dd22"/>
<circle cx="396.30" cy="107.10" r="1.45" fill="#99cc00"/>
<circle cx="398.00" cy="107.10" r="1.45" fill="#99cc00"/>
<circle cx="399.10" cy="112.00" r="1.45" fill="#99cc00"/>
<circle cx="399.10" cy="114.80" r="1.45" fill="#99cc00"/>
<circle cx="397.70" cy="116.90" r="1.45" fill="#99cc00"/>
<circle cx="396.30" cy="119.00" r="1.45" fill="#99cc00"/>
<circle cx="395.60" cy="127.40" r="1.45" fill="#99cc00"/>
<circle cx="393.50" cy="128.90" r="1.45" fill="#99cc00"/>
<circle cx="394.90" cy="131.70" r="1.45" fill="#99cc00"/>
<circle cx="394.20" cy="138.00" r="1.45" fill="#99cc00"/>
<circle cx="395.60" cy="136.60" r="1.45" fill="#99cc00"/>
<circle cx="401.00" cy="78.50" r="1.45" fill="#88dd00"/>
<circle cx="401.00" cy="82.30" r="1.45" fill="#88dd00"/>
<circle cx="397.80" cy="85.50" r="1.45" fill="#88dd00"/>
<circle cx="397.80" cy="89.30" r="1.45" fill="#88dd00"/>
<circle cx="401.70" cy="88.00" r="1.45" fill="#88dd00"/>
<circle cx="402.30" cy="89.30" r="1.45" fill="#88dd00"/>
<circle cx="397.80" cy="95.10" r="1.45" fill="#88dd00"/>
<circle cx="400.40" cy="94.20" r="1.45" fill="#88dd00"/>
<circle cx="402.30" cy="95.10" r="1.45" fill="#88dd00"/>
<circle cx="396.60" cy="107.20" r="1.45" fill="#88dd00"/>
<circle cx="398.50" cy="106.60" r="1.45" fill="#88dd00"/>
<circle cx="398.20" cy="95.50" r="1.45" fill="#90d000"/>
<circle cx="402.20" cy="95.50" r="1.45" fill="#90d000"/>
<circle cx="396.10" cy="106.70" r="1.45" fill="#90d000"/>
<circle cx="398.70" cy="106.20" r="1.45" fill="#90d000"/>
<circle cx="399.70" cy="112.30" r="1.45" fill="#90d000"/>
<circle cx="399.20" cy="115.90" r="1.45" fill="#90d000"/>
<circle cx="396.60" cy="118.50" r="1.45" fill="#90d000"/>
<circle cx="397.10" cy="124.60" r="1.45" fill="#90d000"/>
<circle cx="394.10" cy="127.70" r="1.45" fill="#90d000"/>
<circle cx="394.50" cy="133.30" r="1.45" fill="#90d000"/>
<circle cx="403.10" cy="110.50" r="1.45" fill="#22dd22"/>
<circle cx="403.30" cy="121.30" r="1.45" fill="#70b090"/>
<circle cx="403.30" cy="124.10" r="1.45" fill="#70b090"/>
<circle cx="404.30" cy="130.70" r="1.45" fill="#7080c0"/>
<circle cx="404.00" cy="133.80" r="1.45" fill="#7080c0"/>
<circle cx="411.33" cy="151.92" r="1.45" fill="#8acf00"/>
<circle cx="412.24" cy="126.77" r="1.45" fill="#7fd413"/>
<circle cx="418.99" cy="137.84" r="1.45" fill="#8dce00"/>
<circle cx="412.77" cy="138.52" r="1.45" fill="#87d10f"/>
<circle cx="411.71" cy="141.55" r="1.45" fill="#7ad616"/>
<circle cx="411.87" cy="134.48" r="1.45" fill="#6cdb1e"/>
<circle cx="406.57" cy="142.95" r="1.45" fill="#9bca00"/>
<circle cx="415.97" cy="125.58" r="1.45" fill="#68dc21"/>
<circle cx="409.04" cy="123.55" r="1.45" fill="#95cc00"/>
<circle cx="409.79" cy="122.21" r="1.45" fill="#9cc900"/>
<circle cx="410.15" cy="143.38" r="1.45" fill="#99ca00"/>
<circle cx="407.51" cy="128.73" r="1.45" fill="#84d210"/>
<circle cx="418.98" cy="138.09" r="1.45" fill="#93cc00"/>
<circle cx="416.63" cy="133.91" r="1.45" fill="#92cd00"/>
<circle cx="405.20" cy="145.80" r="1.45" fill="#7cd515"/>
<circle cx="413.78" cy="136.30" r="1.45" fill="#99cb04"/>
<circle cx="406.84" cy="151.58" r="1.45" fill="#99ca00"/>
<circle cx="413.86" cy="147.10" r="1.45" fill="#7bd516"/>
<circle cx="410.96" cy="130.90" r="1.45" fill="#9aca03"/>
<circle cx="405.13" cy="147.56" r="1.45" fill="#99ca00"/>
<circle cx="417.46" cy="130.06" r="1.45" fill="#9aca00"/>
<circle cx="407.31" cy="134.97" r="1.45" fill="#91cd00"/>
<circle cx="403.05" cy="144.10" r="1.45" fill="#95cc00"/>
<circle cx="407.16" cy="131.13" r="1.45" fill="#9fc800"/>
<circle cx="410.28" cy="141.49" r="1.45" fill="#8ecf0b"/>
<circle cx="409.16" cy="150.50" r="1.45" fill="#77d718"/>
<circle cx="403.97" cy="147.38" r="1.45" fill="#71d91c"/>
<circle cx="416.33" cy="126.14" r="1.45" fill="#7ad617"/>
<circle cx="413.76" cy="122.26" r="1.45" fill="#89d000"/>
<circle cx="419.18" cy="142.07" r="1.45" fill="#94cc00"/>
<circle cx="404.73" cy="126.21" r="1.45" fill="#93cc00"/>
<circle cx="416.20" cy="132.51" r="1.45" fill="#8fce00"/>
<circle cx="418.37" cy="146.26" r="1.45" fill="#90cd00"/>
<circle cx="418.15" cy="140.60" r="1.45" fill="#7fd413"/>
<circle cx="414.36" cy="149.42" r="1.45" fill="#7fd414"/>
<circle cx="417.26" cy="127.90" r="1.45" fill="#8ad00d"/>
<circle cx="422.96" cy="148.15" r="1.45" fill="#abb100"/>
<circle cx="428.24" cy="144.71" r="1.45" fill="#a6b400"/>
<circle cx="418.51" cy="137.06" r="1.45" fill="#acb000"/>
<circle cx="415.88" cy="143.09" r="1.45" fill="#a3b600"/>
<circle cx="422.37" cy="143.67" r="1.45" fill="#adaf00"/>
<circle cx="427.94" cy="134.62" r="1.45" fill="#b4ab00"/>
<circle cx="422.02" cy="144.85" r="1.45" fill="#b0ad00"/>
<circle cx="427.61" cy="141.40" r="1.45" fill="#aab100"/>
<circle cx="429.41" cy="135.89" r="1.45" fill="#afae00"/>
<circle cx="424.54" cy="135.02" r="1.45" fill="#afae00"/>
<circle cx="425.24" cy="151.64" r="1.45" fill="#a8b300"/>
<circle cx="429.73" cy="143.90" r="1.45" fill="#acb000"/>
<circle cx="428.46" cy="135.12" r="1.45" fill="#b1ad00"/>
<circle cx="424.38" cy="140.73" r="1.45" fill="#b5aa00"/>
<circle cx="420.49" cy="143.23" r="1.45" fill="#adb000"/>
<circle cx="426.56" cy="138.38" r="1.45" fill="#aab100"/>
<circle cx="421.34" cy="144.69" r="1.45" fill="#b4ab00"/>
<circle cx="419.39" cy="149.73" r="1.45" fill="#aab200"/>
<circle cx="422.56" cy="139.50" r="1.45" fill="#acb000"/>
<circle cx="429.62" cy="146.54" r="1.45" fill="#b3ab00"/>
<circle cx="431.99" cy="148.36" r="1.45" fill="#c69a00"/>
<circle cx="436.24" cy="151.82" r="1.45" fill="#cd9600"/>
<circle cx="427.16" cy="152.78" r="1.45" fill="#cb9b00"/>
<circle cx="435.55" cy="145.44" r="1.45" fill="#c69a00"/>
<circle cx="426.60" cy="146.97" r="1.45" fill="#ca9c00"/>
<circle cx="436.60" cy="152.07" r="1.45" fill="#cd9600"/>
<circle cx="441.60" cy="151.57" r="1.45" fill="#cf9100"/>
<circle cx="436.91" cy="152.49" r="1.45" fill="#ce9200"/>
<circle cx="437.80" cy="147.22" r="1.45" fill="#d09000"/>
<circle cx="434.10" cy="153.21" r="1.45" fill="#b7a300"/>
<circle cx="429.51" cy="145.30" r="1.45" fill="#cd9500"/>
<circle cx="441.67" cy="152.05" r="1.45" fill="#c99700"/>
<circle cx="440.16" cy="153.47" r="1.45" fill="#cd9300"/>
<circle cx="430.78" cy="148.19" r="1.45" fill="#ca9600"/>
<circle cx="431.79" cy="149.59" r="1.45" fill="#cf9100"/>
<circle cx="442.00" cy="145.50" r="1.45" fill="#ce9200"/>
<circle cx="427.15" cy="146.20" r="1.45" fill="#cd9700"/>
<circle cx="436.05" cy="154.91" r="1.45" fill="#cb9500"/>
<circle cx="426.73" cy="149.12" r="1.45" fill="#ce9200"/>
<circle cx="442.07" cy="155.59" r="1.45" fill="#cb9500"/>
<circle cx="433.35" cy="146.01" r="1.45" fill="#cf9100"/>
<circle cx="430.02" cy="146.55" r="1.45" fill="#b1a700"/>
<circle cx="426.58" cy="152.35" r="1.45" fill="#b9a200"/>
<circle cx="442.54" cy="145.86" r="1.45" fill="#cb9a00"/>
<circle cx="428.64" cy="145.09" r="1.45" fill="#cf9300"/>
<circle cx="430.52" cy="152.90" r="1.45" fill="#bd9f00"/>
<circle cx="427.33" cy="153.34" r="1.45" fill="#cf9200"/>
<circle cx="440.70" cy="152.85" r="1.45" fill="#b6a400"/>
<circle cx="436.94" cy="152.63" r="1.45" fill="#cb9500"/>
<circle cx="441.98" cy="147.67" r="1.45" fill="#c99e00"/>
<circle cx="442.60" cy="139.10" r="1.45" fill="#b8b000"/>
<circle cx="442.60" cy="146.00" r="1.45" fill="#b8b000"/>
<circle cx="442.60" cy="122.50" r="1.45" fill="#b8b000"/>
<circle cx="444.30" cy="121.30" r="1.45" fill="#b8b000"/>
<circle cx="445.40" cy="126.50" r="1.45" fill="#b8b000"/>
<circle cx="446.00" cy="128.80" r="1.45" fill="#b8b000"/>
<circle cx="424.80" cy="119.60" r="1.45" fill="#99cc00"/>
<circle cx="425.30" cy="128.20" r="1.45" fill="#99cc00"/>
<circle cx="424.80" cy="132.20" r="1.45" fill="#99cc00"/>
<circle cx="424.70" cy="119.50" r="1.45" fill="#99cc00"/>
<circle cx="424.70" cy="128.70" r="1.45" fill="#99cc00"/>
<circle cx="424.70" cy="131.70" r="1.45" fill="#99cc00"/>
<circle cx="449.20" cy="80.00" r="1.45" fill="#11ee00"/>
<circle cx="448.70" cy="92.80" r="1.45" fill="#11ee00"/>
<circle cx="458.40" cy="93.80" r="1.45" fill="#11ee00"/>
<circle cx="448.70" cy="113.70" r="1.45" fill="#11ee00"/>
<circle cx="448.70" cy="117.80" r="1.45" fill="#11ee00"/>
<circle cx="460.50" cy="115.30" r="1.45" fill="#11ee00"/>
<circle cx="463.00" cy="118.30" r="1.45" fill="#11ee00"/>
<circle cx="448.60" cy="59.80" r="1.45" fill="#11ee00"/>
<circle cx="457.40" cy="56.60" r="1.45" fill="#11ee00"/>
<circle cx="448.60" cy="76.80" r="1.45" fill="#11ee00"/>
<circle cx="448.90" cy="78.50" r="1.45" fill="#11ee00"/>
<circle cx="457.70" cy="93.70" r="1.45" fill="#11ee00"/>
<circle cx="457.34" cy="125.55" r="1.45" fill="#53de21"/>
<circle cx="456.50" cy="143.12" r="1.45" fill="#4ae01d"/>
<circle cx="452.22" cy="141.20" r="1.45" fill="#3ee317"/>
<circle cx="459.15" cy="135.90" r="1.45" fill="#4ddf1e"/>
<circle cx="452.93" cy="137.83" r="1.45" fill="#19ec04"/>
<circle cx="456.83" cy="128.46" r="1.45" fill="#49dc13"/>
<circle cx="452.88" cy="139.36" r="1.45" fill="#2ae608"/>
<circle cx="453.57" cy="133.71" r="1.45" fill="#47dd12"/>
<circle cx="460.21" cy="142.40" r="1.45" fill="#1eea04"/>
<circle cx="451.98" cy="126.62" r="1.45" fill="#6bd21e"/>
<circle cx="457.16" cy="143.34" r="1.45" fill="#28e80b"/>
<circle cx="455.93" cy="146.61" r="1.45" fill="#50da15"/>
<circle cx="455.87" cy="132.03" r="1.45" fill="#1bec05"/>
<circle cx="459.49" cy="133.51" r="1.45" fill="#34e30c"/>
<circle cx="455.88" cy="144.84" r="1.45" fill="#4bdc14"/>
<circle cx="451.87" cy="125.34" r="1.45" fill="#31e610"/>
<circle cx="453.62" cy="138.09" r="1.45" fill="#4ddb14"/>
<circle cx="459.48" cy="126.22" r="1.45" fill="#50da15"/>
<circle cx="458.53" cy="144.21" r="1.45" fill="#1fea05"/>
<circle cx="451.75" cy="143.86" r="1.45" fill="#4bdc14"/>
<circle cx="456.93" cy="145.22" r="1.45" fill="#26e90a"/>
<circle cx="449.37" cy="137.37" r="1.45" fill="#4adc13"/>
<circle cx="450.83" cy="141.65" r="1.45" fill="#63d41c"/>
<circle cx="451.25" cy="138.53" r="1.45" fill="#33e30b"/>
<circle cx="454.16" cy="129.80" r="1.45" fill="#32e611"/>
<circle cx="457.76" cy="142.56" r="1.45" fill="#16ed03"/>
<circle cx="449.41" cy="142.88" r="1.45" fill="#45de11"/>
<circle cx="451.23" cy="137.94" r="1.45" fill="#5cd619"/>
<circle cx="459.45" cy="136.68" r="1.45" fill="#14ed02"/>
<circle cx="455.73" cy="129.42" r="1.45" fill="#3be415"/>
<circle cx="461.04" cy="119.84" r="1.45" fill="#44dd22"/>
<circle cx="462.61" cy="117.78" r="1.45" fill="#44dd22"/>
<circle cx="460.91" cy="115.31" r="1.45" fill="#44dd22"/>
<circle cx="461.83" cy="115.73" r="1.45" fill="#44dd22"/>
<circle cx="463.53" cy="116.08" r="1.45" fill="#44dd22"/>
<circle cx="461.71" cy="118.58" r="1.45" fill="#44dd22"/>
<circle cx="461.81" cy="156.07" r="1.45" fill="#90c805"/>
<circle cx="472.67" cy="145.78" r="1.45" fill="#76d509"/>
<circle cx="479.70" cy="142.35" r="1.45" fill="#9ac302"/>
<circle cx="479.41" cy="151.90" r="1.45" fill="#9cc201"/>
<circle cx="467.10" cy="132.92" r="1.45" fill="#7ad307"/>
<circle cx="465.34" cy="134.03" r="1.45" fill="#85ce02"/>
<circle cx="474.38" cy="153.16" r="1.45" fill="#69dc10"/>
<circle cx="483.73" cy="154.11" r="1.45" fill="#84ce02"/>
<circle cx="475.35" cy="141.66" r="1.45" fill="#80d004"/>
<circle cx="484.02" cy="138.25" r="1.45" fill="#6dd90f"/>
<circle cx="476.38" cy="155.24" r="1.45" fill="#7ad30b"/>
<circle cx="470.43" cy="142.89" r="1.45" fill="#7dd105"/>
<circle cx="484.18" cy="156.10" r="1.45" fill="#79d408"/>
<circle cx="461.93" cy="138.22" r="1.45" fill="#70d80c"/>
<circle cx="482.67" cy="153.98" r="1.45" fill="#8dc906"/>
<circle cx="462.13" cy="151.11" r="1.45" fill="#7ed10a"/>
<circle cx="476.52" cy="155.95" r="1.45" fill="#84ce02"/>
<circle cx="464.48" cy="150.35" r="1.45" fill="#99c402"/>
<circle cx="477.25" cy="139.26" r="1.45" fill="#71d80e"/>
<circle cx="479.19" cy="134.56" r="1.45" fill="#72d70b"/>
<circle cx="467.17" cy="135.02" r="1.45" fill="#67dc10"/>
<circle cx="465.05" cy="137.79" r="1.45" fill="#7ed105"/>
<circle cx="477.26" cy="132.31" r="1.45" fill="#7fd00a"/>
<circle cx="465.68" cy="132.88" r="1.45" fill="#98c402"/>
<circle cx="466.29" cy="154.70" r="1.45" fill="#91c805"/>
<circle cx="482.33" cy="135.40" r="1.45" fill="#6adb0f"/>
<circle cx="463.33" cy="154.57" r="1.45" fill="#8ec905"/>
<circle cx="476.08" cy="142.99" r="1.45" fill="#71d80c"/>
<circle cx="480.75" cy="143.60" r="1.45" fill="#75d60d"/>
<circle cx="464.43" cy="137.39" r="1.45" fill="#84ce02"/>
<circle cx="478.13" cy="145.45" r="1.45" fill="#7ed105"/>
<circle cx="481.90" cy="138.47" r="1.45" fill="#6cda0e"/>
<circle cx="464.74" cy="138.59" r="1.45" fill="#8dc905"/>
<circle cx="469.03" cy="136.08" r="1.45" fill="#67dd11"/>
<circle cx="468.63" cy="153.95" r="1.45" fill="#80d004"/>
<circle cx="484.49" cy="133.38" r="1.45" fill="#94c604"/>
<circle cx="452.02" cy="114.38" r="1.45" fill="#89c510"/>
<circle cx="447.43" cy="115.12" r="1.45" fill="#a4b907"/>
<circle cx="448.37" cy="126.86" r="1.45" fill="#55dd22"/>
<circle cx="455.10" cy="112.56" r="1.45" fill="#9bbd0a"/>
<circle cx="454.75" cy="111.92" r="1.45" fill="#70d119"/>
<circle cx="447.52" cy="126.66" r="1.45" fill="#b6b101"/>
<circle cx="453.68" cy="116.45" r="1.45" fill="#aab605"/>
<circle cx="444.02" cy="124.32" r="1.45" fill="#84c812"/>
<circle cx="446.23" cy="117.96" r="1.45" fill="#5ed91f"/>
<circle cx="446.62" cy="120.14" r="1.45" fill="#aab605"/>
<circle cx="490.90" cy="59.20" r="1.45" fill="#00ee00"/>
<circle cx="491.20" cy="73.50" r="1.45" fill="#00ee00"/>
<circle cx="490.50" cy="77.40" r="1.45" fill="#00ee00"/>
<circle cx="485.90" cy="82.40" r="1.45" fill="#00ee00"/>
<circle cx="492.30" cy="91.20" r="1.45" fill="#00ee00"/>
<circle cx="487.30" cy="95.40" r="1.45" fill="#00ee00"/>
<circle cx="492.60" cy="96.40" r="1.45" fill="#00ee00"/>
<circle cx="487.70" cy="100.60" r="1.45" fill="#00ee00"/>
<circle cx="492.30" cy="101.30" r="1.45" fill="#00ee00"/>
<circle cx="487.70" cy="102.70" r="1.45" fill="#00ee00"/>
<circle cx="488.40" cy="109.00" r="1.45" fill="#00ee00"/>
<circle cx="491.20" cy="109.00" r="1.45" fill="#00ee00"/>
<circle cx="485.60" cy="110.60" r="1.45" fill="#33e022"/>
<circle cx="487.50" cy="110.00" r="1.45" fill="#33e022"/>
<circle cx="491.20" cy="110.60" r="1.45" fill="#33e022"/>
<circle cx="493.30" cy="112.70" r="1.45" fill="#33e022"/>
<circle cx="487.00" cy="116.90" r="1.45" fill="#33e022"/>
<circle cx="486.30" cy="119.00" r="1.45" fill="#33e022"/>
<circle cx="493.30" cy="116.90" r="1.45" fill="#33e022"/>
<circle cx="494.70" cy="118.30" r="1.45" fill="#33e022"/>
<circle cx="488.40" cy="126.00" r="1.45" fill="#33e022"/>
<circle cx="489.10" cy="130.30" r="1.45" fill="#33e022"/>
<circle cx="488.40" cy="134.50" r="1.45" fill="#33e022"/>
<circle cx="485.60" cy="137.30" r="1.45" fill="#33e022"/>
<circle cx="484.90" cy="142.90" r="1.45" fill="#33e022"/>
<circle cx="484.20" cy="147.00" r="1.45" fill="#33e022"/>
<circle cx="483.50" cy="151.30" r="1.45" fill="#33e022"/>
<circle cx="508.10" cy="113.40" r="1.45" fill="#a0cc00"/>
<circle cx="508.10" cy="116.20" r="1.45" fill="#a0cc00"/>
<circle cx="507.40" cy="120.40" r="1.45" fill="#a0cc00"/>
<circle cx="508.80" cy="126.00" r="1.45" fill="#a0cc00"/>
<circle cx="509.50" cy="131.00" r="1.45" fill="#a0cc00"/>
<circle cx="507.40" cy="135.90" r="1.45" fill="#a0cc00"/>
<circle cx="494.11" cy="146.25" r="1.45" fill="#66dd22"/>
<circle cx="494.25" cy="139.48" r="1.45" fill="#66dd22"/>
<circle cx="497.71" cy="143.56" r="1.45" fill="#66dd22"/>
<circle cx="494.33" cy="144.70" r="1.45" fill="#66dd22"/>
<circle cx="499.42" cy="144.41" r="1.45" fill="#66dd22"/>
<circle cx="493.15" cy="145.88" r="1.45" fill="#66dd22"/>
<circle cx="498.66" cy="139.24" r="1.45" fill="#66dd22"/>
<circle cx="495.42" cy="146.95" r="1.45" fill="#66dd22"/>
<circle cx="496.74" cy="138.85" r="1.45" fill="#66dd22"/>
<circle cx="496.60" cy="147.25" r="1.45" fill="#66dd22"/>
<circle cx="494.16" cy="146.85" r="1.45" fill="#66dd22"/>
<circle cx="493.97" cy="142.34" r="1.45" fill="#66dd22"/>
<circle cx="495.46" cy="137.58" r="1.45" fill="#b9ac00"/>
<circle cx="501.95" cy="131.99" r="1.45" fill="#b5ae00"/>
<circle cx="505.77" cy="142.42" r="1.45" fill="#bbab00"/>
<circle cx="504.43" cy="135.64" r="1.45" fill="#b4ae00"/>
<circle cx="496.18" cy="142.52" r="1.45" fill="#b1b000"/>
<circle cx="501.68" cy="137.49" r="1.45" fill="#b8ac00"/>
<circle cx="502.22" cy="130.59" r="1.45" fill="#b1b000"/>
<circle cx="498.24" cy="132.85" r="1.45" fill="#bea900"/>
<circle cx="498.58" cy="141.74" r="1.45" fill="#c0a800"/>
<circle cx="496.63" cy="140.09" r="1.45" fill="#bdaa00"/>
<circle cx="495.62" cy="138.69" r="1.45" fill="#b7ad00"/>
<circle cx="502.04" cy="140.14" r="1.45" fill="#bea900"/>
<circle cx="506.44" cy="140.34" r="1.45" fill="#bfa800"/>
<circle cx="496.96" cy="137.21" r="1.45" fill="#b8ac00"/>
<circle cx="516.80" cy="139.20" r="1.45" fill="#d59d00"/>
<circle cx="514.50" cy="147.65" r="1.45" fill="#c39e00"/>
<circle cx="514.67" cy="147.31" r="1.45" fill="#c69600"/>
<circle cx="514.95" cy="151.87" r="1.45" fill="#c1a400"/>
<circle cx="518.56" cy="144.57" r="1.45" fill="#c49c00"/>
<circle cx="520.76" cy="144.12" r="1.45" fill="#c1a400"/>
<circle cx="524.81" cy="143.09" r="1.45" fill="#d69c00"/>
<circle cx="517.69" cy="144.84" r="1.45" fill="#c0a700"/>
<circle cx="525.25" cy="153.43" r="1.45" fill="#c49b00"/>
<circle cx="525.95" cy="137.96" r="1.45" fill="#cf9700"/>
<circle cx="527.72" cy="153.82" r="1.45" fill="#d69c00"/>
<circle cx="519.10" cy="148.39" r="1.45" fill="#d79f00"/>
<circle cx="520.85" cy="138.25" r="1.45" fill="#d39b00"/>
<circle cx="520.43" cy="137.37" r="1.45" fill="#d39700"/>
<circle cx="527.91" cy="150.98" r="1.45" fill="#c2a300"/>
<circle cx="522.49" cy="151.57" r="1.45" fill="#c3a000"/>
<circle cx="526.54" cy="137.62" r="1.45" fill="#c99100"/>
<circle cx="516.58" cy="149.21" r="1.45" fill="#d79d00"/>
<circle cx="521.03" cy="153.64" r="1.45" fill="#ca9200"/>
<circle cx="516.33" cy="146.37" r="1.45" fill="#d39b00"/>
<circle cx="527.61" cy="142.18" r="1.45" fill="#d79f00"/>
<circle cx="522.73" cy="139.17" r="1.45" fill="#cb9300"/>
<circle cx="527.69" cy="146.25" r="1.45" fill="#d69d00"/>
<circle cx="519.81" cy="146.61" r="1.45" fill="#d49700"/>
<circle cx="514.30" cy="139.36" r="1.45" fill="#d79e00"/>
<circle cx="518.85" cy="142.19" r="1.45" fill="#d69c00"/>
<circle cx="513.71" cy="146.83" r="1.45" fill="#c49c00"/>
<circle cx="522.12" cy="147.26" r="1.45" fill="#c99100"/>
<circle cx="498.90" cy="151.30" r="1.45" fill="#d09000"/>
<circle cx="509.41" cy="148.03" r="1.45" fill="#a8c800"/>
<circle cx="511.84" cy="146.92" r="1.45" fill="#a8c800"/>
<circle cx="510.17" cy="142.74" r="1.45" fill="#a8c800"/>
<circle cx="511.59" cy="144.33" r="1.45" fill="#a8c800"/>
<circle cx="508.08" cy="143.98" r="1.45" fill="#a8c800"/>
<circle cx="509.67" cy="146.29" r="1.45" fill="#a8c800"/>
<circle cx="509.99" cy="151.16" r="1.45" fill="#a8c800"/>
<circle cx="513.40" cy="141.79" r="1.45" fill="#a8c800"/>
<circle cx="514.10" cy="144.97" r="1.45" fill="#a8c800"/>
<circle cx="510.72" cy="144.97" r="1.45" fill="#a8c800"/>
<line x1="359.50" y1="122.80" x2="402.00" y2="122.80" stroke="#555" stroke-width="1.5"/>
<line x1="359.50" y1="130.40" x2="402.00" y2="130.40" stroke="#444" stroke-width="1.5"/>
<line x1="359.50" y1="85.10" x2="402.00" y2="85.10" stroke="#000" stroke-width="1.9" stroke-dasharray="4.7 2.3" stroke-dashoffset="1.8"/>
<line x1="401.30" y1="126.70" x2="443.90" y2="126.70" stroke="#555" stroke-width="1.5"/>
<line x1="401.30" y1="133.80" x2="443.90" y2="133.80" stroke="#777" stroke-width="1.5"/>
<line x1="401.30" y1="104.30" x2="443.90" y2="104.30" stroke="#000" stroke-width="1.9" stroke-dasharray="4.7 2.3" stroke-dashoffset="1.8"/>
<line x1="443.70" y1="122.60" x2="486.20" y2="122.60" stroke="#555" stroke-width="1.5"/>
<line x1="443.70" y1="124.90" x2="486.20" y2="124.90" stroke="#777" stroke-width="1.5"/>
<line x1="443.70" y1="88.50" x2="486.20" y2="88.50" stroke="#000" stroke-width="1.9" stroke-dasharray="4.7 2.3" stroke-dashoffset="1.8"/>
<line x1="485.50" y1="128.20" x2="528.40" y2="128.20" stroke="#555" stroke-width="1.5"/>
<line x1="485.50" y1="132.40" x2="528.40" y2="132.40" stroke="#777" stroke-width="1.5"/>
<line x1="485.50" y1="111.20" x2="528.40" y2="111.20" stroke="#000" stroke-width="1.9" stroke-dasharray="4.7 2.3" stroke-dashoffset="1.8"/>
<line x1="85.00" y1="307.50" x2="299.40" y2="307.50" stroke="#dddddd" stroke-width="0.8"/>
<line x1="84.40" y1="212.30" x2="299.90" y2="212.30" stroke="#666666" stroke-width="1.3"/>
<line x1="85.00" y1="211.80" x2="85.00" y2="340.00" stroke="#c8c8c8" stroke-width="1.3"/>
<line x1="299.40" y1="211.80" x2="299.40" y2="340.00" stroke="#aaaaaa" stroke-width="1.1"/>
<line x1="84.40" y1="339.50" x2="299.90" y2="339.50" stroke="#999999" stroke-width="1.1"/>
<line x1="94.60" y1="339.50" x2="94.60" y2="342.70" stroke="#555" stroke-width="0.85"/>
<text x="0" y="0" font-size="11.75" fill="#4d4d4d" text-anchor="start" transform="translate(85.90 351.50) scale(1 1.07)">Feb 16</text>
<line x1="136.60" y1="339.50" x2="136.60" y2="342.70" stroke="#555" stroke-width="0.85"/>
<text x="0" y="0" font-size="11.75" fill="#4d4d4d" text-anchor="start" transform="translate(127.90 351.50) scale(1 1.07)">Feb 17</text>
<line x1="178.60" y1="339.50" x2="178.60" y2="342.70" stroke="#555" stroke-width="0.85"/>
<text x="0" y="0" font-size="11.75" fill="#4d4d4d" text-anchor="start" transform="translate(169.90 351.50) scale(1 1.07)">Feb 18</text>
<line x1="220.60" y1="339.50" x2="220.60" y2="342.70" stroke="#555" stroke-width="0.85"/>
<text x="0" y="0" font-size="11.75" fill="#4d4d4d" text-anchor="start" transform="translate(211.90 351.50) scale(1 1.07)">Feb 19</text>
<line x1="262.60" y1="339.50" x2="262.60" y2="342.70" stroke="#555" stroke-width="0.85"/>
<text x="0" y="0" font-size="11.75" fill="#4d4d4d" text-anchor="start" transform="translate(253.90 351.50) scale(1 1.07)">Feb 20</text>
<text x="0" y="0" font-size="12.7" fill="#000" text-anchor="middle" transform="translate(192.40 364.00) scale(1 1.07)">Time</text>
<text x="0" y="0" font-size="6" fill="#666" text-anchor="middle" transform="translate(115.60 209.00) scale(1 1.07)">14</text>
<text x="0" y="0" font-size="6" fill="#666" text-anchor="middle" transform="translate(157.60 209.00) scale(1 1.07)">42</text>
<text x="0" y="0" font-size="6" fill="#666" text-anchor="middle" transform="translate(199.60 209.00) scale(1 1.07)">57</text>
<text x="0" y="0" font-size="6" fill="#666" text-anchor="middle" transform="translate(241.60 209.00) scale(1 1.07)">53</text>
<text x="0" y="0" font-size="6.1" fill="#8a8a8a" text-anchor="start" transform="translate(273.90 208.40) scale(1 1.07)">PM 2.5</text>
<text x="0" y="0" font-size="8.0" fill="#000" text-anchor="start" transform="translate(284.90 222.20) scale(1 1.07)">C</text>
<line x1="108.40" y1="303.30" x2="112.10" y2="303.30" stroke="#ff0a0a" stroke-width="1.1"/>
<line x1="112.10" y1="303.30" x2="112.10" y2="257.40" stroke="#ff4040" stroke-width="0.85" stroke-dasharray="1 0.9"/>
<line x1="112.10" y1="257.40" x2="115.30" y2="257.40" stroke="#ff0a0a" stroke-width="1.1"/>
<line x1="115.30" y1="257.40" x2="115.30" y2="260.40" stroke="#ff4040" stroke-width="0.85" stroke-dasharray="1 0.9"/>
<line x1="115.30" y1="260.40" x2="118.90" y2="260.40" stroke="#ff0a0a" stroke-width="1.1"/>
<line x1="118.90" y1="260.40" x2="118.90" y2="254.90" stroke="#ff4040" stroke-width="0.85" stroke-dasharray="1 0.9"/>
<line x1="118.90" y1="254.90" x2="122.30" y2="254.90" stroke="#ff0a0a" stroke-width="1.1"/>
<line x1="122.30" y1="254.90" x2="122.30" y2="241.50" stroke="#ff4040" stroke-width="0.85" stroke-dasharray="1 0.9"/>
<line x1="122.30" y1="241.50" x2="126.10" y2="241.50" stroke="#ff0a0a" stroke-width="1.1"/>
<line x1="126.10" y1="241.50" x2="126.10" y2="316.30" stroke="#ff4040" stroke-width="0.85" stroke-dasharray="1 0.9"/>
<line x1="126.10" y1="316.30" x2="129.10" y2="316.30" stroke="#ff0a0a" stroke-width="1.1"/>
<line x1="129.10" y1="316.30" x2="129.10" y2="329.30" stroke="#ff4040" stroke-width="0.85" stroke-dasharray="1 0.9"/>
<line x1="129.10" y1="329.30" x2="131.40" y2="329.30" stroke="#ff0a0a" stroke-width="1.1"/>
<line x1="131.40" y1="329.30" x2="131.40" y2="332.40" stroke="#ff4040" stroke-width="0.85" stroke-dasharray="1 0.9"/>
<line x1="131.40" y1="332.40" x2="141.30" y2="332.40" stroke="#ff0a0a" stroke-width="1.1"/>
<line x1="141.30" y1="332.40" x2="141.30" y2="331.60" stroke="#ff4040" stroke-width="0.85" stroke-dasharray="1 0.9"/>
<line x1="141.30" y1="331.60" x2="145.90" y2="331.60" stroke="#ff0a0a" stroke-width="1.1"/>
<line x1="145.90" y1="331.60" x2="145.90" y2="333.20" stroke="#ff4040" stroke-width="0.85" stroke-dasharray="1 0.9"/>
<line x1="145.90" y1="333.20" x2="150.50" y2="333.20" stroke="#ff0a0a" stroke-width="1.1"/>
<line x1="150.50" y1="333.20" x2="150.50" y2="317.10" stroke="#ff4040" stroke-width="0.85" stroke-dasharray="1 0.9"/>
<line x1="150.50" y1="317.10" x2="153.60" y2="317.10" stroke="#ff0a0a" stroke-width="1.1"/>
<line x1="153.60" y1="317.10" x2="153.60" y2="326.40" stroke="#ff4040" stroke-width="0.85" stroke-dasharray="1 0.9"/>
<line x1="153.60" y1="326.40" x2="159.20" y2="326.40" stroke="#ff0a0a" stroke-width="1.1"/>
<line x1="159.20" y1="326.40" x2="159.20" y2="323.40" stroke="#ff4040" stroke-width="0.85" stroke-dasharray="1 0.9"/>
<line x1="159.20" y1="323.40" x2="161.20" y2="323.40" stroke="#ff0a0a" stroke-width="1.1"/>
<line x1="161.20" y1="323.40" x2="161.20" y2="310.10" stroke="#ff4040" stroke-width="0.85" stroke-dasharray="1 0.9"/>
<line x1="161.20" y1="310.10" x2="164.30" y2="310.10" stroke="#ff0a0a" stroke-width="1.1"/>
<line x1="164.30" y1="310.10" x2="164.30" y2="286.60" stroke="#ff4040" stroke-width="0.85" stroke-dasharray="1 0.9"/>
<line x1="164.30" y1="286.60" x2="168.40" y2="286.60" stroke="#ff0a0a" stroke-width="1.1"/>
<line x1="168.40" y1="286.60" x2="168.40" y2="328.50" stroke="#ff4040" stroke-width="0.85" stroke-dasharray="1 0.9"/>
<line x1="168.40" y1="328.50" x2="176.50" y2="328.50" stroke="#ff0a0a" stroke-width="1.1"/>
<line x1="176.50" y1="328.50" x2="176.50" y2="330.50" stroke="#ff4040" stroke-width="0.85" stroke-dasharray="1 0.9"/>
<line x1="176.50" y1="330.50" x2="182.70" y2="330.50" stroke="#ff0a0a" stroke-width="1.1"/>
<line x1="182.70" y1="330.50" x2="182.70" y2="327.40" stroke="#ff4040" stroke-width="0.85" stroke-dasharray="1 0.9"/>
<line x1="182.70" y1="327.40" x2="187.80" y2="327.40" stroke="#ff0a0a" stroke-width="1.1"/>
<line x1="187.80" y1="327.40" x2="187.80" y2="328.50" stroke="#ff4040" stroke-width="0.85" stroke-dasharray="1 0.9"/>
<line x1="187.80" y1="328.50" x2="193.90" y2="328.50" stroke="#ff0a0a" stroke-width="1.1"/>
<line x1="193.90" y1="328.50" x2="193.90" y2="327.40" stroke="#ff4040" stroke-width="0.85" stroke-dasharray="1 0.9"/>
<line x1="193.90" y1="327.40" x2="200.00" y2="327.40" stroke="#ff0a0a" stroke-width="1.1"/>
<line x1="200.00" y1="327.40" x2="200.00" y2="331.50" stroke="#ff4040" stroke-width="0.85" stroke-dasharray="1 0.9"/>
<line x1="200.00" y1="331.50" x2="206.10" y2="331.50" stroke="#ff0a0a" stroke-width="1.1"/>
<line x1="206.10" y1="331.50" x2="206.10" y2="332.50" stroke="#ff4040" stroke-width="0.85" stroke-dasharray="1 0.9"/>
<line x1="206.10" y1="332.50" x2="213.30" y2="332.50" stroke="#ff0a0a" stroke-width="1.1"/>
<line x1="213.30" y1="332.50" x2="213.30" y2="330.50" stroke="#ff4040" stroke-width="0.85" stroke-dasharray="1 0.9"/>
<line x1="213.30" y1="330.50" x2="217.30" y2="330.50" stroke="#ff0a0a" stroke-width="1.1"/>
<line x1="217.30" y1="330.50" x2="217.30" y2="322.30" stroke="#ff4040" stroke-width="0.85" stroke-dasharray="1 0.9"/>
<line x1="217.30" y1="322.30" x2="220.10" y2="322.30" stroke="#ff0a0a" stroke-width="1.1"/>
<line x1="220.10" y1="322.30" x2="220.10" y2="326.40" stroke="#ff4040" stroke-width="0.85" stroke-dasharray="1 0.9"/>
<line x1="220.10" y1="326.40" x2="227.20" y2="326.40" stroke="#ff0a0a" stroke-width="1.1"/>
<line x1="227.20" y1="326.40" x2="227.20" y2="325.40" stroke="#ff4040" stroke-width="0.85" stroke-dasharray="1 0.9"/>
<line x1="227.20" y1="325.40" x2="231.30" y2="325.40" stroke="#ff0a0a" stroke-width="1.1"/>
<line x1="231.30" y1="325.40" x2="231.30" y2="322.30" stroke="#ff4040" stroke-width="0.85" stroke-dasharray="1 0.9"/>
<line x1="231.30" y1="322.30" x2="235.40" y2="322.30" stroke="#ff0a0a" stroke-width="1.1"/>
<line x1="235.40" y1="322.30" x2="235.40" y2="324.40" stroke="#ff4040" stroke-width="0.85" stroke-dasharray="1 0.9"/>
<line x1="235.40" y1="324.40" x2="243.60" y2="324.40" stroke="#ff0a0a" stroke-width="1.1"/>
<line x1="243.60" y1="324.40" x2="243.60" y2="310.10" stroke="#ff4040" stroke-width="0.85" stroke-dasharray="1 0.9"/>
<line x1="243.60" y1="310.10" x2="248.70" y2="310.10" stroke="#ff0a0a" stroke-width="1.1"/>
<line x1="248.70" y1="310.10" x2="248.70" y2="298.90" stroke="#ff4040" stroke-width="0.85" stroke-dasharray="1 0.9"/>
<line x1="248.70" y1="298.90" x2="251.70" y2="298.90" stroke="#ff0a0a" stroke-width="1.1"/>
<line x1="251.70" y1="298.90" x2="251.70" y2="310.10" stroke="#ff4040" stroke-width="0.85" stroke-dasharray="1 0.9"/>
<line x1="251.70" y1="310.10" x2="254.80" y2="310.10" stroke="#ff0a0a" stroke-width="1.1"/>
<line x1="254.80" y1="310.10" x2="254.80" y2="323.40" stroke="#ff4040" stroke-width="0.85" stroke-dasharray="1 0.9"/>
<line x1="254.80" y1="323.40" x2="258.90" y2="323.40" stroke="#ff0a0a" stroke-width="1.1"/>
<line x1="258.90" y1="323.40" x2="258.90" y2="322.30" stroke="#ff4040" stroke-width="0.85" stroke-dasharray="1 0.9"/>
<line x1="258.90" y1="322.30" x2="263.00" y2="322.30" stroke="#ff0a0a" stroke-width="1.1"/>
<line x1="263.00" y1="322.30" x2="263.00" y2="325.40" stroke="#ff4040" stroke-width="0.85" stroke-dasharray="1 0.9"/>
<line x1="263.00" y1="325.40" x2="267.00" y2="325.40" stroke="#ff0a0a" stroke-width="1.1"/>
<line x1="267.00" y1="325.40" x2="267.00" y2="328.50" stroke="#ff4040" stroke-width="0.85" stroke-dasharray="1 0.9"/>
<line x1="267.00" y1="328.50" x2="271.10" y2="328.50" stroke="#ff0a0a" stroke-width="1.1"/>
<line x1="271.10" y1="328.50" x2="271.10" y2="332.60" stroke="#ff4040" stroke-width="0.85" stroke-dasharray="1 0.9"/>
<line x1="271.10" y1="332.60" x2="276.20" y2="332.60" stroke="#ff0a0a" stroke-width="1.1"/>
<circle cx="110.69" cy="312.48" r="1.45" fill="#f97000"/>
<circle cx="120.45" cy="311.70" r="1.45" fill="#fa6700"/>
<circle cx="114.46" cy="317.43" r="1.45" fill="#fd6b00"/>
<circle cx="122.17" cy="319.03" r="1.45" fill="#ff6a00"/>
<circle cx="120.45" cy="318.18" r="1.45" fill="#fb6d00"/>
<circle cx="116.37" cy="318.63" r="1.45" fill="#fc6d00"/>
<circle cx="123.18" cy="311.40" r="1.45" fill="#fa6e00"/>
<circle cx="109.07" cy="318.42" r="1.45" fill="#fe6b00"/>
<circle cx="116.72" cy="320.59" r="1.45" fill="#fe6b00"/>
<circle cx="115.48" cy="318.62" r="1.45" fill="#fa6e00"/>
<circle cx="118.41" cy="314.18" r="1.45" fill="#fe6900"/>
<circle cx="116.10" cy="317.95" r="1.45" fill="#f96600"/>
<circle cx="115.06" cy="316.11" r="1.45" fill="#fc6800"/>
<circle cx="113.99" cy="318.66" r="1.45" fill="#fa6e00"/>
<circle cx="116.74" cy="314.88" r="1.45" fill="#f66400"/>
<circle cx="113.71" cy="311.59" r="1.45" fill="#fe6b00"/>
<circle cx="118.01" cy="310.97" r="1.45" fill="#f96f00"/>
<circle cx="114.02" cy="319.28" r="1.45" fill="#fa6e00"/>
<circle cx="123.86" cy="312.25" r="1.45" fill="#fd6900"/>
<circle cx="123.11" cy="310.12" r="1.45" fill="#f16100"/>
<circle cx="117.76" cy="315.47" r="1.45" fill="#f96f00"/>
<circle cx="120.99" cy="315.92" r="1.45" fill="#f87000"/>
<circle cx="117.02" cy="315.69" r="1.45" fill="#fc6c00"/>
<circle cx="115.04" cy="313.93" r="1.45" fill="#fe6b00"/>
<circle cx="114.44" cy="320.43" r="1.45" fill="#fd6c00"/>
<circle cx="117.14" cy="311.09" r="1.45" fill="#fb6700"/>
<circle cx="115.21" cy="316.17" r="1.45" fill="#fe6b00"/>
<circle cx="122.64" cy="320.61" r="1.45" fill="#ff6a00"/>
<circle cx="115.82" cy="316.87" r="1.45" fill="#f87000"/>
<circle cx="114.32" cy="315.83" r="1.45" fill="#fb6e00"/>
<circle cx="111.65" cy="313.50" r="1.45" fill="#f87000"/>
<circle cx="121.80" cy="315.64" r="1.45" fill="#f36200"/>
<circle cx="122.86" cy="317.59" r="1.45" fill="#fb6e00"/>
<circle cx="124.35" cy="319.77" r="1.45" fill="#fd6800"/>
<circle cx="111.42" cy="313.19" r="1.45" fill="#ff6a00"/>
<circle cx="116.83" cy="312.07" r="1.45" fill="#f56400"/>
<circle cx="118.77" cy="316.63" r="1.45" fill="#fb6700"/>
<circle cx="124.40" cy="317.00" r="1.45" fill="#f16100"/>
<circle cx="115.38" cy="318.66" r="1.45" fill="#f96600"/>
<circle cx="119.71" cy="310.04" r="1.45" fill="#f96600"/>
<circle cx="122.05" cy="316.45" r="1.45" fill="#fd6c00"/>
<circle cx="112.05" cy="315.48" r="1.45" fill="#fe6b00"/>
<circle cx="113.12" cy="317.11" r="1.45" fill="#ff6a00"/>
<circle cx="124.46" cy="316.32" r="1.45" fill="#fc6800"/>
<circle cx="110.88" cy="311.72" r="1.45" fill="#fb6d00"/>
<circle cx="110.65" cy="311.10" r="1.45" fill="#f56300"/>
<circle cx="116.81" cy="321.98" r="1.45" fill="#f96600"/>
<circle cx="121.39" cy="306.84" r="1.45" fill="#f06000"/>
<circle cx="120.81" cy="312.02" r="1.45" fill="#fb6700"/>
<circle cx="114.10" cy="308.97" r="1.45" fill="#f46300"/>
<circle cx="110.00" cy="323.59" r="1.45" fill="#f96600"/>
<circle cx="114.02" cy="314.55" r="1.45" fill="#f66400"/>
<circle cx="109.28" cy="323.32" r="1.45" fill="#f96600"/>
<circle cx="123.85" cy="314.35" r="1.45" fill="#f96600"/>
<circle cx="112.41" cy="306.48" r="1.45" fill="#fe6900"/>
<circle cx="122.16" cy="311.86" r="1.45" fill="#fd6900"/>
<circle cx="121.54" cy="311.64" r="1.45" fill="#f96600"/>
<circle cx="123.86" cy="315.46" r="1.45" fill="#fe6900"/>
<circle cx="112.31" cy="313.36" r="1.45" fill="#fb6700"/>
<circle cx="111.96" cy="311.75" r="1.45" fill="#fd6900"/>
<circle cx="116.20" cy="321.38" r="1.45" fill="#f46200"/>
<circle cx="111.19" cy="312.73" r="1.45" fill="#f36200"/>
<circle cx="108.40" cy="296.40" r="1.45" fill="#f06000"/>
<circle cx="109.20" cy="307.10" r="1.45" fill="#f06000"/>
<circle cx="112.20" cy="325.50" r="1.45" fill="#f06000"/>
<circle cx="113.00" cy="328.60" r="1.45" fill="#f06000"/>
<circle cx="123.35" cy="319.47" r="1.45" fill="#f06000"/>
<circle cx="122.89" cy="317.13" r="1.45" fill="#f06100"/>
<circle cx="123.03" cy="315.51" r="1.45" fill="#f06200"/>
<circle cx="123.01" cy="312.94" r="1.45" fill="#f06300"/>
<circle cx="122.75" cy="312.10" r="1.45" fill="#f06400"/>
<circle cx="123.30" cy="309.12" r="1.45" fill="#f06500"/>
<circle cx="123.22" cy="307.12" r="1.45" fill="#f06700"/>
<circle cx="123.46" cy="304.67" r="1.45" fill="#f06800"/>
<circle cx="124.32" cy="303.10" r="1.45" fill="#f06900"/>
<circle cx="123.67" cy="301.63" r="1.45" fill="#f06a00"/>
<circle cx="123.74" cy="298.88" r="1.45" fill="#f06b00"/>
<circle cx="125.25" cy="298.19" r="1.45" fill="#f06c00"/>
<circle cx="125.15" cy="301.32" r="1.45" fill="#f06d00"/>
<circle cx="126.06" cy="302.27" r="1.45" fill="#f06e00"/>
<circle cx="125.65" cy="305.21" r="1.45" fill="#f06f00"/>
<circle cx="126.03" cy="307.62" r="1.45" fill="#f07000"/>
<circle cx="126.11" cy="309.64" r="1.45" fill="#f07100"/>
<circle cx="127.05" cy="310.49" r="1.45" fill="#f07300"/>
<circle cx="127.60" cy="312.30" r="1.45" fill="#f07400"/>
<circle cx="128.65" cy="314.47" r="1.45" fill="#f07500"/>
<circle cx="129.86" cy="316.85" r="1.45" fill="#f07600"/>
<circle cx="130.01" cy="318.10" r="1.45" fill="#f07700"/>
<circle cx="131.57" cy="319.74" r="1.45" fill="#f07800"/>
<circle cx="132.10" cy="310.20" r="1.45" fill="#e09000"/>
<circle cx="134.40" cy="281.10" r="1.45" fill="#c8a000"/>
<circle cx="132.90" cy="283.40" r="1.45" fill="#c8a000"/>
<circle cx="132.90" cy="290.30" r="1.45" fill="#c8a000"/>
<circle cx="133.50" cy="292.50" r="1.45" fill="#c8a000"/>
<circle cx="134.40" cy="296.40" r="1.45" fill="#c8a000"/>
<circle cx="134.40" cy="301.00" r="1.45" fill="#c8a000"/>
<circle cx="136.50" cy="298.50" r="1.45" fill="#c8a000"/>
<circle cx="136.40" cy="272.10" r="1.45" fill="#a8b800"/>
<circle cx="135.70" cy="279.80" r="1.45" fill="#a8b800"/>
<circle cx="148.40" cy="261.30" r="1.45" fill="#8ccc00"/>
<circle cx="148.00" cy="272.20" r="1.45" fill="#8ccc00"/>
<circle cx="149.20" cy="274.10" r="1.45" fill="#8ccc00"/>
<circle cx="150.30" cy="276.80" r="1.45" fill="#8ccc00"/>
<circle cx="153.00" cy="278.90" r="1.45" fill="#8ccc00"/>
<circle cx="155.70" cy="279.50" r="1.45" fill="#70b090"/>
<circle cx="137.50" cy="290.30" r="1.45" fill="#44dd22"/>
<circle cx="138.30" cy="298.00" r="1.45" fill="#44dd22"/>
<circle cx="138.24" cy="289.25" r="1.45" fill="#66cc33"/>
<circle cx="137.74" cy="291.37" r="1.45" fill="#68cb38"/>
<circle cx="137.47" cy="293.11" r="1.45" fill="#69ca3c"/>
<circle cx="137.91" cy="294.17" r="1.45" fill="#6bc840"/>
<circle cx="138.49" cy="294.76" r="1.45" fill="#6dc745"/>
<circle cx="138.31" cy="295.59" r="1.45" fill="#6ec64a"/>
<circle cx="137.98" cy="298.42" r="1.45" fill="#70c54e"/>
<circle cx="138.37" cy="299.34" r="1.45" fill="#72c452"/>
<circle cx="138.04" cy="300.44" r="1.45" fill="#74c257"/>
<circle cx="138.65" cy="301.61" r="1.45" fill="#75c15c"/>
<circle cx="138.74" cy="302.01" r="1.45" fill="#77c060"/>
<circle cx="139.38" cy="303.47" r="1.45" fill="#76bf65"/>
<circle cx="139.62" cy="305.60" r="1.45" fill="#76be6a"/>
<circle cx="140.29" cy="306.21" r="1.45" fill="#75be6e"/>
<circle cx="141.74" cy="308.24" r="1.45" fill="#74bd73"/>
<circle cx="141.88" cy="309.70" r="1.45" fill="#74bc78"/>
<circle cx="140.55" cy="309.82" r="1.45" fill="#73bb7d"/>
<circle cx="140.15" cy="311.91" r="1.45" fill="#72ba82"/>
<circle cx="141.23" cy="312.54" r="1.45" fill="#71ba86"/>
<circle cx="140.53" cy="314.44" r="1.45" fill="#71b98b"/>
<circle cx="141.55" cy="314.57" r="1.45" fill="#70b890"/>
<circle cx="143.01" cy="315.36" r="1.45" fill="#71b891"/>
<circle cx="143.74" cy="315.60" r="1.45" fill="#72b892"/>
<circle cx="143.03" cy="318.27" r="1.45" fill="#72b892"/>
<circle cx="144.49" cy="319.16" r="1.45" fill="#73b893"/>
<circle cx="143.33" cy="319.09" r="1.45" fill="#74b894"/>
<circle cx="143.82" cy="320.68" r="1.45" fill="#75b895"/>
<circle cx="144.43" cy="322.31" r="1.45" fill="#76b896"/>
<circle cx="144.23" cy="323.43" r="1.45" fill="#76b896"/>
<circle cx="145.80" cy="324.41" r="1.45" fill="#77b897"/>
<circle cx="146.58" cy="326.44" r="1.45" fill="#78b898"/>
<circle cx="138.66" cy="294.09" r="1.45" fill="#75cc2c"/>
<circle cx="138.45" cy="295.98" r="1.45" fill="#66cc33"/>
<circle cx="139.42" cy="304.53" r="1.45" fill="#70cc2e"/>
<circle cx="134.28" cy="306.08" r="1.45" fill="#7bcc29"/>
<circle cx="134.31" cy="293.89" r="1.45" fill="#6acc31"/>
<circle cx="139.14" cy="293.20" r="1.45" fill="#85cc23"/>
<circle cx="138.87" cy="290.72" r="1.45" fill="#7ecc27"/>
<circle cx="136.56" cy="303.95" r="1.45" fill="#82cc25"/>
<circle cx="149.00" cy="276.50" r="1.45" fill="#b8b800"/>
<circle cx="152.00" cy="278.80" r="1.45" fill="#b8b800"/>
<circle cx="147.50" cy="284.20" r="1.45" fill="#b8b800"/>
<circle cx="150.50" cy="288.80" r="1.45" fill="#b8b800"/>
<circle cx="147.50" cy="291.80" r="1.45" fill="#b8b800"/>
<circle cx="151.30" cy="294.90" r="1.45" fill="#b8b800"/>
<circle cx="149.00" cy="302.60" r="1.45" fill="#b8b800"/>
<circle cx="150.00" cy="298.00" r="1.45" fill="#b8b800"/>
<circle cx="151.00" cy="284.00" r="1.45" fill="#b8b800"/>
<circle cx="156.10" cy="262.50" r="1.45" fill="#70b090"/>
<circle cx="156.10" cy="292.80" r="1.45" fill="#44dd22"/>
<circle cx="158.20" cy="303.00" r="1.45" fill="#44dd22"/>
<circle cx="158.20" cy="311.70" r="1.45" fill="#44dd22"/>
<circle cx="158.00" cy="315.00" r="1.45" fill="#44dd22"/>
<circle cx="154.31" cy="313.30" r="1.45" fill="#6fb584"/>
<circle cx="155.48" cy="325.40" r="1.45" fill="#6acc4c"/>
<circle cx="158.06" cy="323.95" r="1.45" fill="#69d13e"/>
<circle cx="155.71" cy="312.78" r="1.45" fill="#6acb4e"/>
<circle cx="155.51" cy="319.37" r="1.45" fill="#6fb680"/>
<circle cx="153.05" cy="322.97" r="1.45" fill="#56cd41"/>
<circle cx="157.76" cy="323.60" r="1.45" fill="#5ed532"/>
<circle cx="156.48" cy="325.96" r="1.45" fill="#69d140"/>
<circle cx="156.46" cy="315.60" r="1.45" fill="#57ce40"/>
<circle cx="154.93" cy="317.93" r="1.45" fill="#5cd336"/>
<circle cx="154.55" cy="313.97" r="1.45" fill="#6aca50"/>
<circle cx="157.50" cy="315.43" r="1.45" fill="#5dd434"/>
<circle cx="154.30" cy="322.50" r="1.45" fill="#70b090"/>
<circle cx="155.00" cy="324.50" r="1.45" fill="#70b090"/>
<circle cx="168.40" cy="292.80" r="1.45" fill="#70b090"/>
<circle cx="168.80" cy="296.00" r="1.45" fill="#70b090"/>
<circle cx="163.83" cy="321.90" r="1.45" fill="#b1a700"/>
<circle cx="162.99" cy="320.72" r="1.45" fill="#b2a700"/>
<circle cx="161.92" cy="322.86" r="1.45" fill="#bba300"/>
<circle cx="165.36" cy="322.74" r="1.45" fill="#b4a600"/>
<circle cx="162.06" cy="323.70" r="1.45" fill="#b6a500"/>
<circle cx="163.55" cy="324.51" r="1.45" fill="#b3a700"/>
<circle cx="161.78" cy="320.64" r="1.45" fill="#baa300"/>
<circle cx="162.25" cy="318.79" r="1.45" fill="#bca200"/>
<circle cx="162.21" cy="323.98" r="1.45" fill="#b9a400"/>
<circle cx="168.32" cy="309.61" r="1.45" fill="#7585c0"/>
<circle cx="169.85" cy="310.45" r="1.45" fill="#7585c0"/>
<circle cx="169.54" cy="310.36" r="1.45" fill="#7685c0"/>
<circle cx="169.63" cy="313.67" r="1.45" fill="#7685c1"/>
<circle cx="172.24" cy="311.86" r="1.45" fill="#7685c1"/>
<circle cx="172.68" cy="315.09" r="1.45" fill="#7785c1"/>
<circle cx="172.83" cy="313.34" r="1.45" fill="#7786c1"/>
<circle cx="173.28" cy="314.88" r="1.45" fill="#7786c2"/>
<circle cx="173.09" cy="315.81" r="1.45" fill="#7886c2"/>
<circle cx="173.22" cy="317.25" r="1.45" fill="#7886c2"/>
<circle cx="175.54" cy="315.70" r="1.45" fill="#7886c2"/>
<circle cx="176.89" cy="315.04" r="1.45" fill="#7986c3"/>
<circle cx="175.51" cy="313.18" r="1.45" fill="#7986c3"/>
<circle cx="175.66" cy="312.56" r="1.45" fill="#7986c3"/>
<circle cx="177.80" cy="315.66" r="1.45" fill="#7a86c3"/>
<circle cx="176.82" cy="314.66" r="1.45" fill="#7a86c4"/>
<circle cx="178.14" cy="317.34" r="1.45" fill="#7a86c4"/>
<circle cx="179.31" cy="316.27" r="1.45" fill="#7b87c4"/>
<circle cx="179.28" cy="318.95" r="1.45" fill="#7b87c4"/>
<circle cx="179.55" cy="318.36" r="1.45" fill="#7b87c5"/>
<circle cx="178.39" cy="320.56" r="1.45" fill="#7c87c5"/>
<circle cx="179.18" cy="320.09" r="1.45" fill="#7c87c5"/>
<circle cx="180.23" cy="320.90" r="1.45" fill="#7c87c5"/>
<circle cx="181.42" cy="321.35" r="1.45" fill="#7d87c6"/>
<circle cx="179.78" cy="322.95" r="1.45" fill="#7d87c6"/>
<circle cx="182.06" cy="324.30" r="1.45" fill="#7d87c6"/>
<circle cx="182.92" cy="325.18" r="1.45" fill="#7e87c6"/>
<circle cx="184.07" cy="324.00" r="1.45" fill="#7e87c7"/>
<circle cx="183.11" cy="322.20" r="1.45" fill="#7e88c7"/>
<circle cx="182.83" cy="322.53" r="1.45" fill="#7f88c7"/>
<circle cx="182.50" cy="321.97" r="1.45" fill="#7f88c7"/>
<circle cx="183.01" cy="320.42" r="1.45" fill="#7f88c8"/>
<circle cx="185.55" cy="318.57" r="1.45" fill="#8088c8"/>
<circle cx="183.23" cy="318.69" r="1.45" fill="#8088c8"/>
<circle cx="183.88" cy="318.62" r="1.45" fill="#8088c8"/>
<circle cx="183.50" cy="318.05" r="1.45" fill="#7f88c8"/>
<circle cx="186.03" cy="317.01" r="1.45" fill="#7f87c7"/>
<circle cx="184.97" cy="314.70" r="1.45" fill="#7e87c7"/>
<circle cx="185.78" cy="314.46" r="1.45" fill="#7e87c7"/>
<circle cx="185.25" cy="313.07" r="1.45" fill="#7d87c7"/>
<circle cx="185.44" cy="313.10" r="1.45" fill="#7d86c6"/>
<circle cx="186.67" cy="312.87" r="1.45" fill="#7c86c6"/>
<circle cx="184.97" cy="310.28" r="1.45" fill="#7c86c6"/>
<circle cx="185.89" cy="310.13" r="1.45" fill="#7b86c6"/>
<circle cx="185.77" cy="308.21" r="1.45" fill="#7b85c5"/>
<circle cx="185.18" cy="307.68" r="1.45" fill="#7a85c5"/>
<circle cx="186.38" cy="308.60" r="1.45" fill="#7a85c5"/>
<circle cx="187.78" cy="307.41" r="1.45" fill="#7985c5"/>
<circle cx="188.14" cy="306.79" r="1.45" fill="#7984c4"/>
<circle cx="187.33" cy="305.48" r="1.45" fill="#7884c4"/>
<circle cx="185.96" cy="304.22" r="1.45" fill="#7884c4"/>
<circle cx="187.69" cy="302.28" r="1.45" fill="#7784c4"/>
<circle cx="187.77" cy="303.23" r="1.45" fill="#7783c3"/>
<circle cx="187.71" cy="301.49" r="1.45" fill="#7683c3"/>
<circle cx="187.36" cy="299.75" r="1.45" fill="#7683c3"/>
<circle cx="189.14" cy="297.97" r="1.45" fill="#7583c3"/>
<circle cx="187.34" cy="298.90" r="1.45" fill="#7582c2"/>
<circle cx="188.21" cy="296.34" r="1.45" fill="#7482c2"/>
<circle cx="188.95" cy="296.26" r="1.45" fill="#7482c2"/>
<circle cx="188.88" cy="295.49" r="1.45" fill="#7382c2"/>
<circle cx="188.88" cy="295.01" r="1.45" fill="#7381c1"/>
<circle cx="189.29" cy="293.33" r="1.45" fill="#7281c1"/>
<circle cx="189.50" cy="295.10" r="1.45" fill="#7281c1"/>
<circle cx="191.08" cy="293.14" r="1.45" fill="#7181c1"/>
<circle cx="192.24" cy="294.39" r="1.45" fill="#7180c0"/>
<circle cx="190.38" cy="296.03" r="1.45" fill="#7080c0"/>
<circle cx="191.10" cy="296.77" r="1.45" fill="#7080c0"/>
<circle cx="181.30" cy="309.76" r="1.45" fill="#7e8bc0"/>
<circle cx="170.71" cy="315.78" r="1.45" fill="#7e8bc0"/>
<circle cx="169.93" cy="313.57" r="1.45" fill="#7686c0"/>
<circle cx="178.55" cy="323.13" r="1.45" fill="#7e8bc0"/>
<circle cx="185.15" cy="320.89" r="1.45" fill="#7786c0"/>
<circle cx="191.78" cy="320.15" r="1.45" fill="#7786c0"/>
<circle cx="187.93" cy="313.23" r="1.45" fill="#7887c0"/>
<circle cx="191.04" cy="316.82" r="1.45" fill="#818ec0"/>
<circle cx="171.28" cy="321.30" r="1.45" fill="#7686c0"/>
<circle cx="173.69" cy="312.82" r="1.45" fill="#7585c0"/>
<circle cx="182.26" cy="309.48" r="1.45" fill="#7a88c0"/>
<circle cx="184.98" cy="313.95" r="1.45" fill="#838fc0"/>
<circle cx="182.91" cy="323.31" r="1.45" fill="#7e8bc0"/>
<circle cx="190.02" cy="323.29" r="1.45" fill="#7887c0"/>
<circle cx="192.24" cy="297.04" r="1.45" fill="#7585c0"/>
<circle cx="192.04" cy="303.19" r="1.45" fill="#7585c0"/>
<circle cx="191.12" cy="302.06" r="1.45" fill="#7585c0"/>
<circle cx="192.17" cy="293.25" r="1.45" fill="#7585c0"/>
<circle cx="190.30" cy="299.67" r="1.45" fill="#7585c0"/>
<circle cx="190.34" cy="304.45" r="1.45" fill="#7585c0"/>
<circle cx="194.20" cy="317.32" r="1.45" fill="#7585c0"/>
<circle cx="196.94" cy="320.77" r="1.45" fill="#7585c0"/>
<circle cx="193.10" cy="316.58" r="1.45" fill="#7585c0"/>
<circle cx="193.87" cy="320.53" r="1.45" fill="#7585c0"/>
<circle cx="196.23" cy="318.99" r="1.45" fill="#7585c0"/>
<circle cx="197.11" cy="320.39" r="1.45" fill="#7585c0"/>
<circle cx="198.24" cy="300.08" r="1.45" fill="#66cc55"/>
<circle cx="196.52" cy="299.56" r="1.45" fill="#66cc55"/>
<circle cx="197.04" cy="300.88" r="1.45" fill="#65cd56"/>
<circle cx="198.96" cy="302.53" r="1.45" fill="#65cd56"/>
<circle cx="197.13" cy="301.99" r="1.45" fill="#64ce56"/>
<circle cx="199.20" cy="304.12" r="1.45" fill="#64ce57"/>
<circle cx="198.37" cy="304.57" r="1.45" fill="#63cf57"/>
<circle cx="197.99" cy="306.39" r="1.45" fill="#63cf57"/>
<circle cx="198.74" cy="307.39" r="1.45" fill="#62d058"/>
<circle cx="199.45" cy="306.42" r="1.45" fill="#62d058"/>
<circle cx="198.96" cy="307.69" r="1.45" fill="#61d158"/>
<circle cx="200.51" cy="309.52" r="1.45" fill="#61d159"/>
<circle cx="198.65" cy="309.45" r="1.45" fill="#60d259"/>
<circle cx="199.60" cy="311.11" r="1.45" fill="#60d259"/>
<circle cx="200.31" cy="311.85" r="1.45" fill="#5fd35a"/>
<circle cx="199.96" cy="311.87" r="1.45" fill="#5fd35a"/>
<circle cx="200.69" cy="313.60" r="1.45" fill="#5ed45b"/>
<circle cx="199.56" cy="314.83" r="1.45" fill="#5ed45b"/>
<circle cx="202.08" cy="314.77" r="1.45" fill="#5dd55b"/>
<circle cx="200.27" cy="317.21" r="1.45" fill="#5dd55c"/>
<circle cx="200.78" cy="317.19" r="1.45" fill="#5cd65c"/>
<circle cx="201.55" cy="318.09" r="1.45" fill="#5cd65c"/>
<circle cx="201.98" cy="319.65" r="1.45" fill="#5dd55d"/>
<circle cx="203.17" cy="321.68" r="1.45" fill="#5dd55d"/>
<circle cx="201.22" cy="321.56" r="1.45" fill="#5ed45e"/>
<circle cx="203.26" cy="323.23" r="1.45" fill="#5ed45e"/>
<circle cx="203.53" cy="323.57" r="1.45" fill="#5fd35f"/>
<circle cx="203.45" cy="323.84" r="1.45" fill="#5fd35f"/>
<circle cx="202.86" cy="325.80" r="1.45" fill="#60d260"/>
<circle cx="204.51" cy="326.03" r="1.45" fill="#60d260"/>
<circle cx="204.26" cy="323.58" r="1.45" fill="#61d161"/>
<circle cx="204.66" cy="323.69" r="1.45" fill="#61d161"/>
<circle cx="204.26" cy="322.50" r="1.45" fill="#62d062"/>
<circle cx="204.09" cy="321.37" r="1.45" fill="#62d062"/>
<circle cx="204.39" cy="319.25" r="1.45" fill="#63cf63"/>
<circle cx="204.37" cy="318.94" r="1.45" fill="#63cf63"/>
<circle cx="206.09" cy="318.37" r="1.45" fill="#64ce64"/>
<circle cx="204.75" cy="316.86" r="1.45" fill="#64ce64"/>
<circle cx="204.58" cy="316.17" r="1.45" fill="#65cd65"/>
<circle cx="204.48" cy="314.40" r="1.45" fill="#65cd65"/>
<circle cx="206.38" cy="314.53" r="1.45" fill="#66cc66"/>
<circle cx="205.49" cy="313.86" r="1.45" fill="#66cc67"/>
<circle cx="205.28" cy="311.95" r="1.45" fill="#67ca69"/>
<circle cx="204.85" cy="311.32" r="1.45" fill="#67c96b"/>
<circle cx="205.57" cy="311.40" r="1.45" fill="#68c76d"/>
<circle cx="206.34" cy="310.97" r="1.45" fill="#68c66f"/>
<circle cx="206.02" cy="309.99" r="1.45" fill="#69c571"/>
<circle cx="206.79" cy="307.03" r="1.45" fill="#69c373"/>
<circle cx="206.01" cy="307.30" r="1.45" fill="#6ac275"/>
<circle cx="208.14" cy="305.82" r="1.45" fill="#6ac177"/>
<circle cx="207.81" cy="305.06" r="1.45" fill="#6bbf79"/>
<circle cx="208.23" cy="303.26" r="1.45" fill="#6bbe7b"/>
<circle cx="207.49" cy="304.31" r="1.45" fill="#6cbc7d"/>
<circle cx="207.18" cy="301.84" r="1.45" fill="#6cbb7f"/>
<circle cx="206.76" cy="300.68" r="1.45" fill="#6dba82"/>
<circle cx="207.57" cy="301.04" r="1.45" fill="#6db884"/>
<circle cx="207.70" cy="299.39" r="1.45" fill="#6eb786"/>
<circle cx="207.91" cy="298.96" r="1.45" fill="#6eb688"/>
<circle cx="209.76" cy="298.14" r="1.45" fill="#6fb48a"/>
<circle cx="208.47" cy="297.46" r="1.45" fill="#6fb38c"/>
<circle cx="210.96" cy="296.44" r="1.45" fill="#70b18e"/>
<circle cx="209.49" cy="296.24" r="1.45" fill="#70b090"/>
<circle cx="211.90" cy="296.62" r="1.45" fill="#70b090"/>
<circle cx="210.40" cy="297.36" r="1.45" fill="#70b090"/>
<circle cx="211.64" cy="300.11" r="1.45" fill="#70b090"/>
<circle cx="212.16" cy="301.33" r="1.45" fill="#70b090"/>
<circle cx="211.39" cy="301.00" r="1.45" fill="#70b090"/>
<circle cx="212.91" cy="302.89" r="1.45" fill="#70b090"/>
<circle cx="212.30" cy="304.08" r="1.45" fill="#70b090"/>
<circle cx="212.36" cy="303.70" r="1.45" fill="#70b090"/>
<circle cx="212.77" cy="304.79" r="1.45" fill="#70b090"/>
<circle cx="213.50" cy="306.60" r="1.45" fill="#70b090"/>
<circle cx="213.41" cy="308.35" r="1.45" fill="#70b090"/>
<circle cx="213.06" cy="309.14" r="1.45" fill="#70b090"/>
<circle cx="212.70" cy="311.36" r="1.45" fill="#70b090"/>
<circle cx="214.25" cy="312.63" r="1.45" fill="#70b090"/>
<circle cx="213.25" cy="312.85" r="1.45" fill="#70b090"/>
<circle cx="215.08" cy="313.28" r="1.45" fill="#70b090"/>
<circle cx="213.78" cy="313.98" r="1.45" fill="#70b090"/>
<circle cx="214.13" cy="316.56" r="1.45" fill="#70b090"/>
<circle cx="214.39" cy="317.74" r="1.45" fill="#70b090"/>
<circle cx="215.59" cy="318.14" r="1.45" fill="#70b090"/>
<circle cx="216.38" cy="319.25" r="1.45" fill="#70b090"/>
<circle cx="216.94" cy="320.43" r="1.45" fill="#70b090"/>
<circle cx="216.51" cy="321.84" r="1.45" fill="#70b090"/>
<circle cx="216.70" cy="322.85" r="1.45" fill="#70b090"/>
<circle cx="218.27" cy="324.08" r="1.45" fill="#70b090"/>
<circle cx="217.54" cy="325.15" r="1.45" fill="#70b090"/>
<circle cx="215.80" cy="297.90" r="1.45" fill="#6db884"/>
<circle cx="211.71" cy="301.56" r="1.45" fill="#6fb48a"/>
<circle cx="207.08" cy="298.07" r="1.45" fill="#69c274"/>
<circle cx="213.97" cy="297.22" r="1.45" fill="#66cc66"/>
<circle cx="209.05" cy="300.17" r="1.45" fill="#6fb38c"/>
<circle cx="207.25" cy="295.51" r="1.45" fill="#6fb28d"/>
<circle cx="211.52" cy="298.66" r="1.45" fill="#6eb588"/>
<circle cx="215.46" cy="297.24" r="1.45" fill="#6fb48a"/>
<circle cx="222.01" cy="317.27" r="1.45" fill="#78a3a8"/>
<circle cx="221.78" cy="300.97" r="1.45" fill="#789ab5"/>
<circle cx="223.01" cy="322.89" r="1.45" fill="#70a0a8"/>
<circle cx="229.03" cy="308.22" r="1.45" fill="#789bb3"/>
<circle cx="226.34" cy="307.75" r="1.45" fill="#78a2a9"/>
<circle cx="220.95" cy="317.17" r="1.45" fill="#7a8abe"/>
<circle cx="229.18" cy="309.54" r="1.45" fill="#789fad"/>
<circle cx="220.22" cy="313.28" r="1.45" fill="#769aae"/>
<circle cx="233.36" cy="322.03" r="1.45" fill="#749cb0"/>
<circle cx="222.73" cy="306.09" r="1.45" fill="#7f91b7"/>
<circle cx="225.94" cy="305.62" r="1.45" fill="#7f8fb9"/>
<circle cx="230.92" cy="315.08" r="1.45" fill="#7d93b5"/>
<circle cx="234.51" cy="305.28" r="1.45" fill="#729eac"/>
<circle cx="221.70" cy="320.15" r="1.45" fill="#78a0ad"/>
<circle cx="223.39" cy="317.59" r="1.45" fill="#789db1"/>
<circle cx="223.62" cy="307.93" r="1.45" fill="#719fa9"/>
<circle cx="232.93" cy="304.02" r="1.45" fill="#769ab4"/>
<circle cx="228.44" cy="310.72" r="1.45" fill="#739dad"/>
<circle cx="232.81" cy="305.13" r="1.45" fill="#78a1ab"/>
<circle cx="224.81" cy="318.24" r="1.45" fill="#789fad"/>
<circle cx="222.09" cy="320.17" r="1.45" fill="#78a8a0"/>
<circle cx="223.85" cy="300.86" r="1.45" fill="#7c8cbc"/>
<circle cx="234.21" cy="300.52" r="1.45" fill="#78a2a8"/>
<circle cx="221.61" cy="317.23" r="1.45" fill="#7b8bbd"/>
<circle cx="221.88" cy="316.00" r="1.45" fill="#7b8bbd"/>
<circle cx="224.49" cy="321.43" r="1.45" fill="#7799b6"/>
<circle cx="232.79" cy="322.83" r="1.45" fill="#7989bf"/>
<circle cx="222.89" cy="318.52" r="1.45" fill="#769ab4"/>
<circle cx="219.88" cy="311.91" r="1.45" fill="#7f8fb9"/>
<circle cx="225.89" cy="302.71" r="1.45" fill="#7989bf"/>
<circle cx="234.46" cy="307.58" r="1.45" fill="#78a0ac"/>
<circle cx="221.14" cy="311.51" r="1.45" fill="#7c8cbc"/>
<circle cx="225.86" cy="304.42" r="1.45" fill="#769ab4"/>
<circle cx="221.56" cy="317.28" r="1.45" fill="#70a0a8"/>
<circle cx="221.02" cy="308.43" r="1.45" fill="#70a0a8"/>
<circle cx="233.36" cy="308.34" r="1.45" fill="#7f8fb9"/>
<circle cx="234.10" cy="320.61" r="1.45" fill="#7799b7"/>
<circle cx="223.48" cy="304.38" r="1.45" fill="#7f91b7"/>
<circle cx="220.35" cy="301.29" r="1.45" fill="#70a0a9"/>
<circle cx="225.54" cy="313.10" r="1.45" fill="#7997b1"/>
<circle cx="197.70" cy="298.60" r="1.45" fill="#78b898"/>
<circle cx="214.00" cy="301.00" r="1.45" fill="#78b898"/>
<circle cx="234.40" cy="268.30" r="1.45" fill="#7080c8"/>
<circle cx="235.40" cy="283.60" r="1.45" fill="#7080c8"/>
<circle cx="235.40" cy="303.40" r="1.45" fill="#7080c8"/>
<circle cx="234.70" cy="236.50" r="1.45" fill="#7080c8"/>
<circle cx="234.70" cy="269.20" r="1.45" fill="#7080c8"/>
<circle cx="234.70" cy="283.90" r="1.45" fill="#7080c8"/>
<circle cx="236.40" cy="316.20" r="1.45" fill="#2a2aff"/>
<circle cx="236.40" cy="320.30" r="1.45" fill="#2a2aff"/>
<circle cx="237.00" cy="318.00" r="1.45" fill="#2a2aff"/>
<circle cx="235.52" cy="320.64" r="1.45" fill="#6050c8"/>
<circle cx="237.09" cy="321.33" r="1.45" fill="#6154c7"/>
<circle cx="237.31" cy="322.55" r="1.45" fill="#6358c7"/>
<circle cx="238.50" cy="323.83" r="1.45" fill="#645cc6"/>
<circle cx="238.45" cy="323.92" r="1.45" fill="#6560c5"/>
<circle cx="238.25" cy="324.86" r="1.45" fill="#6764c5"/>
<circle cx="239.94" cy="325.70" r="1.45" fill="#6868c4"/>
<circle cx="239.40" cy="326.64" r="1.45" fill="#696cc3"/>
<circle cx="239.55" cy="328.54" r="1.45" fill="#6b70c3"/>
<circle cx="240.13" cy="328.46" r="1.45" fill="#6c74c2"/>
<circle cx="242.62" cy="328.45" r="1.45" fill="#6d78c1"/>
<circle cx="242.92" cy="328.33" r="1.45" fill="#6f7cc1"/>
<circle cx="243.13" cy="327.46" r="1.45" fill="#7080c0"/>
<circle cx="238.81" cy="328.32" r="1.45" fill="#70b090"/>
<circle cx="244.36" cy="322.37" r="1.45" fill="#70b090"/>
<circle cx="240.27" cy="326.85" r="1.45" fill="#70b090"/>
<circle cx="240.21" cy="329.29" r="1.45" fill="#70b090"/>
<circle cx="243.22" cy="328.40" r="1.45" fill="#70b090"/>
<circle cx="242.15" cy="329.46" r="1.45" fill="#70b090"/>
<circle cx="243.88" cy="320.84" r="1.45" fill="#66cc44"/>
<circle cx="243.77" cy="319.87" r="1.45" fill="#67cc43"/>
<circle cx="244.24" cy="318.56" r="1.45" fill="#67cc43"/>
<circle cx="245.17" cy="317.99" r="1.45" fill="#68cc42"/>
<circle cx="244.97" cy="316.98" r="1.45" fill="#68cc42"/>
<circle cx="245.90" cy="315.19" r="1.45" fill="#69cc41"/>
<circle cx="246.51" cy="314.39" r="1.45" fill="#69cc41"/>
<circle cx="247.62" cy="313.95" r="1.45" fill="#6acc40"/>
<circle cx="247.66" cy="313.17" r="1.45" fill="#6acc40"/>
<circle cx="247.58" cy="311.62" r="1.45" fill="#6bcc3f"/>
<circle cx="247.52" cy="312.43" r="1.45" fill="#6bcc3f"/>
<circle cx="249.08" cy="310.84" r="1.45" fill="#6ccc3e"/>
<circle cx="249.79" cy="310.81" r="1.45" fill="#6ccc3e"/>
<circle cx="249.88" cy="310.09" r="1.45" fill="#6dcc3d"/>
<circle cx="251.89" cy="311.42" r="1.45" fill="#6ecc3c"/>
<circle cx="252.14" cy="312.97" r="1.45" fill="#6ecc3c"/>
<circle cx="253.14" cy="313.96" r="1.45" fill="#6fcc3b"/>
<circle cx="251.72" cy="313.79" r="1.45" fill="#6fcc3b"/>
<circle cx="253.90" cy="315.64" r="1.45" fill="#70cc3a"/>
<circle cx="252.79" cy="315.08" r="1.45" fill="#70cc3a"/>
<circle cx="253.68" cy="314.90" r="1.45" fill="#71cc39"/>
<circle cx="254.62" cy="315.73" r="1.45" fill="#71cc39"/>
<circle cx="255.69" cy="314.25" r="1.45" fill="#72cc38"/>
<circle cx="255.25" cy="313.27" r="1.45" fill="#72cc38"/>
<circle cx="257.71" cy="313.04" r="1.45" fill="#73cc37"/>
<circle cx="256.96" cy="311.67" r="1.45" fill="#73cc37"/>
<circle cx="258.18" cy="311.40" r="1.45" fill="#74cc36"/>
<circle cx="257.10" cy="310.31" r="1.45" fill="#75cc35"/>
<circle cx="257.43" cy="308.97" r="1.45" fill="#75cc35"/>
<circle cx="256.99" cy="307.65" r="1.45" fill="#76cc34"/>
<circle cx="257.06" cy="306.68" r="1.45" fill="#76cc34"/>
<circle cx="256.20" cy="305.30" r="1.45" fill="#77cc33"/>
<circle cx="257.26" cy="303.99" r="1.45" fill="#77cc32"/>
<circle cx="256.24" cy="304.45" r="1.45" fill="#78cc31"/>
<circle cx="256.31" cy="302.63" r="1.45" fill="#78cc2f"/>
<circle cx="256.40" cy="304.74" r="1.45" fill="#79cc2d"/>
<circle cx="256.24" cy="305.30" r="1.45" fill="#79cd2c"/>
<circle cx="258.10" cy="305.33" r="1.45" fill="#7acd2a"/>
<circle cx="257.31" cy="307.62" r="1.45" fill="#7bcd28"/>
<circle cx="257.90" cy="307.68" r="1.45" fill="#7bcd27"/>
<circle cx="256.81" cy="308.82" r="1.45" fill="#7ccd25"/>
<circle cx="257.69" cy="310.41" r="1.45" fill="#7ccd24"/>
<circle cx="257.70" cy="310.72" r="1.45" fill="#7dcd22"/>
<circle cx="258.64" cy="312.60" r="1.45" fill="#7dcd20"/>
<circle cx="258.16" cy="312.65" r="1.45" fill="#7ece1f"/>
<circle cx="259.05" cy="314.76" r="1.45" fill="#7ece1d"/>
<circle cx="258.61" cy="315.77" r="1.45" fill="#7fce1c"/>
<circle cx="260.17" cy="315.37" r="1.45" fill="#7fce1a"/>
<circle cx="260.48" cy="316.19" r="1.45" fill="#80ce18"/>
<circle cx="259.58" cy="318.04" r="1.45" fill="#80ce17"/>
<circle cx="260.72" cy="318.30" r="1.45" fill="#81ce15"/>
<circle cx="261.81" cy="318.56" r="1.45" fill="#82ce13"/>
<circle cx="263.21" cy="316.08" r="1.45" fill="#82cf12"/>
<circle cx="263.68" cy="316.47" r="1.45" fill="#83cf10"/>
<circle cx="264.22" cy="317.16" r="1.45" fill="#83cf0f"/>
<circle cx="264.93" cy="316.93" r="1.45" fill="#84cf0d"/>
<circle cx="266.80" cy="317.43" r="1.45" fill="#84cf0b"/>
<circle cx="266.75" cy="318.16" r="1.45" fill="#85cf0a"/>
<circle cx="268.23" cy="319.17" r="1.45" fill="#85cf08"/>
<circle cx="268.77" cy="319.27" r="1.45" fill="#86cf06"/>
<circle cx="267.96" cy="320.57" r="1.45" fill="#86d005"/>
<circle cx="269.80" cy="320.31" r="1.45" fill="#87d003"/>
<circle cx="270.98" cy="318.17" r="1.45" fill="#87d002"/>
<circle cx="270.49" cy="317.37" r="1.45" fill="#88d000"/>
<circle cx="270.62" cy="316.93" r="1.45" fill="#a8c800"/>
<circle cx="270.10" cy="320.26" r="1.45" fill="#a8c800"/>
<circle cx="269.52" cy="321.32" r="1.45" fill="#a8c800"/>
<circle cx="264.44" cy="321.18" r="1.45" fill="#a8c800"/>
<circle cx="268.73" cy="323.39" r="1.45" fill="#a8c800"/>
<circle cx="271.06" cy="317.25" r="1.45" fill="#a8c800"/>
<circle cx="268.20" cy="316.24" r="1.45" fill="#a8c800"/>
<circle cx="266.22" cy="318.09" r="1.45" fill="#a8c800"/>
<circle cx="266.07" cy="322.38" r="1.45" fill="#a8c800"/>
<circle cx="268.14" cy="319.23" r="1.45" fill="#a8c800"/>
<circle cx="266.47" cy="322.44" r="1.45" fill="#a8c800"/>
<circle cx="270.94" cy="318.05" r="1.45" fill="#a8c800"/>
<circle cx="273.20" cy="262.10" r="1.45" fill="#33dd00"/>
<circle cx="265.00" cy="274.40" r="1.45" fill="#33dd00"/>
<circle cx="273.20" cy="279.50" r="1.45" fill="#33dd00"/>
<circle cx="272.10" cy="284.60" r="1.45" fill="#33dd00"/>
<circle cx="273.20" cy="290.70" r="1.45" fill="#33dd00"/>
<circle cx="266.00" cy="299.90" r="1.45" fill="#33dd00"/>
<circle cx="273.20" cy="299.90" r="1.45" fill="#33dd00"/>
<circle cx="274.20" cy="308.10" r="1.45" fill="#33dd00"/>
<circle cx="275.20" cy="312.10" r="1.45" fill="#33dd00"/>
<circle cx="275.20" cy="318.30" r="1.45" fill="#33dd00"/>
<circle cx="266.00" cy="310.10" r="1.45" fill="#33dd00"/>
<line x1="107.90" y1="254.50" x2="151.00" y2="254.50" stroke="#555" stroke-width="1.5"/>
<line x1="107.90" y1="295.00" x2="151.00" y2="295.00" stroke="#777" stroke-width="1.5"/>
<line x1="107.90" y1="231.40" x2="151.00" y2="231.40" stroke="#000" stroke-width="1.9" stroke-dasharray="4.7 2.3" stroke-dashoffset="1.8"/>
<line x1="150.40" y1="300.30" x2="192.80" y2="300.30" stroke="#555" stroke-width="1.5"/>
<line x1="150.40" y1="304.10" x2="192.80" y2="304.10" stroke="#777" stroke-width="1.5"/>
<line x1="150.40" y1="251.10" x2="192.80" y2="251.10" stroke="#000" stroke-width="1.9" stroke-dasharray="4.7 2.3" stroke-dashoffset="1.8"/>
<line x1="191.80" y1="308.60" x2="234.40" y2="308.60" stroke="#555" stroke-width="1.5"/>
<line x1="191.80" y1="310.50" x2="234.40" y2="310.50" stroke="#777" stroke-width="1.5"/>
<line x1="191.80" y1="271.70" x2="234.40" y2="271.70" stroke="#000" stroke-width="1.9" stroke-dasharray="4.7 2.3" stroke-dashoffset="1.8"/>
<line x1="234.40" y1="298.60" x2="276.20" y2="298.60" stroke="#555" stroke-width="1.5"/>
<line x1="234.40" y1="310.10" x2="276.20" y2="310.10" stroke="#777" stroke-width="1.5"/>
<line x1="234.40" y1="287.70" x2="276.20" y2="287.70" stroke="#000" stroke-width="1.9" stroke-dasharray="4.7 2.3" stroke-dashoffset="1.8"/>
<line x1="336.60" y1="307.50" x2="551.00" y2="307.50" stroke="#dddddd" stroke-width="0.8"/>
<line x1="336.00" y1="212.30" x2="551.50" y2="212.30" stroke="#555555" stroke-width="1.3"/>
<line x1="336.60" y1="211.80" x2="336.60" y2="340.00" stroke="#888888" stroke-width="1.3"/>
<line x1="551.00" y1="211.80" x2="551.00" y2="340.00" stroke="#555555" stroke-width="1.1"/>
<line x1="336.00" y1="339.50" x2="551.50" y2="339.50" stroke="#999999" stroke-width="1.1"/>
<line x1="346.20" y1="339.50" x2="346.20" y2="342.70" stroke="#555" stroke-width="0.85"/>
<text x="0" y="0" font-size="11.75" fill="#4d4d4d" text-anchor="start" transform="translate(337.50 351.50) scale(1 1.07)">Jun 29</text>
<line x1="388.20" y1="339.50" x2="388.20" y2="342.70" stroke="#555" stroke-width="0.85"/>
<text x="0" y="0" font-size="11.75" fill="#4d4d4d" text-anchor="start" transform="translate(379.50 351.50) scale(1 1.07)">Jun 30</text>
<line x1="430.20" y1="339.50" x2="430.20" y2="342.70" stroke="#555" stroke-width="0.85"/>
<text x="0" y="0" font-size="11.75" fill="#4d4d4d" text-anchor="start" transform="translate(421.50 351.50) scale(1 1.07)">Jul 01</text>
<line x1="472.20" y1="339.50" x2="472.20" y2="342.70" stroke="#555" stroke-width="0.85"/>
<text x="0" y="0" font-size="11.75" fill="#4d4d4d" text-anchor="start" transform="translate(463.50 351.50) scale(1 1.07)">Jul 02</text>
<line x1="514.20" y1="339.50" x2="514.20" y2="342.70" stroke="#555" stroke-width="0.85"/>
<text x="0" y="0" font-size="11.75" fill="#4d4d4d" text-anchor="start" transform="translate(505.50 351.50) scale(1 1.07)">Jul 03</text>
<text x="0" y="0" font-size="12.7" fill="#000" text-anchor="middle" transform="translate(444.00 364.00) scale(1 1.07)">Time</text>
<text x="0" y="0" font-size="6" fill="#666" text-anchor="middle" transform="translate(367.20 209.00) scale(1 1.07)">6</text>
<text x="0" y="0" font-size="6" fill="#666" text-anchor="middle" transform="translate(409.20 209.00) scale(1 1.07)">3</text>
<text x="0" y="0" font-size="6" fill="#666" text-anchor="middle" transform="translate(451.20 209.00) scale(1 1.07)">4</text>
<text x="0" y="0" font-size="6" fill="#666" text-anchor="middle" transform="translate(493.20 209.00) scale(1 1.07)">6</text>
<text x="0" y="0" font-size="6.1" fill="#8a8a8a" text-anchor="start" transform="translate(525.50 208.40) scale(1 1.07)">PM 2.5</text>
<text x="0" y="0" font-size="8.0" fill="#000" text-anchor="start" transform="translate(536.50 222.20) scale(1 1.07)">D</text>
<circle cx="365.50" cy="268.60" r="1.45" fill="#c8a800"/>
<circle cx="364.60" cy="272.40" r="1.45" fill="#c8a800"/>
<circle cx="366.00" cy="276.00" r="1.45" fill="#c8a800"/>
<circle cx="365.50" cy="280.10" r="1.45" fill="#c8a800"/>
<circle cx="366.50" cy="284.90" r="1.45" fill="#c8a800"/>
<circle cx="363.60" cy="289.70" r="1.45" fill="#c8a800"/>
<circle cx="367.40" cy="291.60" r="1.45" fill="#c8a800"/>
<circle cx="368.40" cy="295.40" r="1.45" fill="#c8a800"/>
<circle cx="363.60" cy="297.30" r="1.45" fill="#c8a800"/>
<circle cx="368.40" cy="301.10" r="1.45" fill="#c8a800"/>
<circle cx="363.60" cy="304.00" r="1.45" fill="#c8a800"/>
<circle cx="362.70" cy="306.90" r="1.45" fill="#c8a800"/>
<circle cx="361.70" cy="319.30" r="1.45" fill="#c8a800"/>
<circle cx="360.70" cy="323.10" r="1.45" fill="#c8a800"/>
<circle cx="369.30" cy="314.50" r="1.45" fill="#c8a800"/>
<circle cx="364.80" cy="270.00" r="1.45" fill="#c8a800"/>
<circle cx="367.50" cy="287.50" r="1.45" fill="#c8a800"/>
<circle cx="368.00" cy="293.50" r="1.45" fill="#c8a800"/>
<circle cx="364.20" cy="300.50" r="1.45" fill="#c8a800"/>
<circle cx="366.80" cy="270.50" r="1.45" fill="#c8a800"/>
<circle cx="362.35" cy="324.48" r="1.45" fill="#e18f00"/>
<circle cx="376.21" cy="323.53" r="1.45" fill="#e98600"/>
<circle cx="381.18" cy="325.09" r="1.45" fill="#ec8100"/>
<circle cx="375.86" cy="327.92" r="1.45" fill="#e98600"/>
<circle cx="368.73" cy="329.45" r="1.45" fill="#e58b00"/>
<circle cx="384.07" cy="318.17" r="1.45" fill="#ed7d00"/>
<circle cx="373.64" cy="324.43" r="1.45" fill="#e88800"/>
<circle cx="377.72" cy="324.84" r="1.45" fill="#ea8400"/>
<circle cx="374.05" cy="321.06" r="1.45" fill="#e88800"/>
<circle cx="394.41" cy="321.29" r="1.45" fill="#f66f00"/>
<circle cx="390.72" cy="327.93" r="1.45" fill="#f27500"/>
<circle cx="385.62" cy="323.41" r="1.45" fill="#ee7c00"/>
<circle cx="400.39" cy="323.28" r="1.45" fill="#fc6500"/>
<circle cx="397.94" cy="318.25" r="1.45" fill="#fa6900"/>
<circle cx="378.79" cy="325.81" r="1.45" fill="#ea8300"/>
<circle cx="362.21" cy="328.71" r="1.45" fill="#e18f00"/>
<circle cx="363.20" cy="325.25" r="1.45" fill="#e28e00"/>
<circle cx="367.87" cy="329.49" r="1.45" fill="#e48c00"/>
<circle cx="384.28" cy="327.91" r="1.45" fill="#ed7d00"/>
<circle cx="381.57" cy="326.26" r="1.45" fill="#ec8000"/>
<circle cx="389.19" cy="321.33" r="1.45" fill="#f07700"/>
<circle cx="369.20" cy="328.40" r="1.45" fill="#e58b00"/>
<circle cx="366.38" cy="329.43" r="1.45" fill="#e38d00"/>
<circle cx="369.02" cy="318.81" r="1.45" fill="#e58b00"/>
<circle cx="364.20" cy="327.70" r="1.45" fill="#e28e00"/>
<circle cx="401.08" cy="322.89" r="1.45" fill="#fd6400"/>
<circle cx="388.50" cy="320.85" r="1.45" fill="#f07800"/>
<circle cx="399.14" cy="326.42" r="1.45" fill="#fb6700"/>
<circle cx="366.77" cy="318.24" r="1.45" fill="#e48c00"/>
<circle cx="390.08" cy="318.04" r="1.45" fill="#f17600"/>
<circle cx="396.14" cy="321.32" r="1.45" fill="#f86c00"/>
<circle cx="370.13" cy="325.07" r="1.45" fill="#e68a00"/>
<circle cx="373.84" cy="324.79" r="1.45" fill="#e88800"/>
<circle cx="366.74" cy="329.35" r="1.45" fill="#e48c00"/>
<circle cx="374.08" cy="328.44" r="1.45" fill="#e88800"/>
<circle cx="366.65" cy="327.89" r="1.45" fill="#e48c00"/>
<circle cx="402.34" cy="322.59" r="1.45" fill="#fe6100"/>
<circle cx="361.52" cy="322.44" r="1.45" fill="#e18f00"/>
<circle cx="387.72" cy="320.40" r="1.45" fill="#ef7900"/>
<circle cx="383.62" cy="318.72" r="1.45" fill="#ed7e00"/>
<circle cx="380.12" cy="326.97" r="1.45" fill="#eb8200"/>
<circle cx="378.63" cy="326.33" r="1.45" fill="#ea8300"/>
<circle cx="365.03" cy="328.27" r="1.45" fill="#e38d00"/>
<circle cx="365.36" cy="329.50" r="1.45" fill="#e38d00"/>
<circle cx="403.03" cy="329.71" r="1.45" fill="#ff6000"/>
<circle cx="382.79" cy="321.28" r="1.45" fill="#ed7f00"/>
<circle cx="375.10" cy="327.25" r="1.45" fill="#e88700"/>
<circle cx="381.50" cy="329.59" r="1.45" fill="#ec8000"/>
<circle cx="364.11" cy="323.80" r="1.45" fill="#e28e00"/>
<circle cx="397.34" cy="325.27" r="1.45" fill="#f96a00"/>
<circle cx="383.40" cy="318.65" r="1.45" fill="#ed7e00"/>
<circle cx="366.12" cy="321.03" r="1.45" fill="#e38d00"/>
<circle cx="398.59" cy="328.49" r="1.45" fill="#fa6800"/>
<circle cx="369.89" cy="329.52" r="1.45" fill="#e58b00"/>
<circle cx="361.50" cy="325.28" r="1.45" fill="#e18f00"/>
<circle cx="401.79" cy="321.98" r="1.45" fill="#fe6200"/>
<circle cx="400.80" cy="326.03" r="1.45" fill="#fc6400"/>
<circle cx="362.26" cy="321.83" r="1.45" fill="#e18f00"/>
<circle cx="379.48" cy="320.72" r="1.45" fill="#eb8200"/>
<circle cx="392.10" cy="319.83" r="1.45" fill="#f37300"/>
<circle cx="394.05" cy="321.38" r="1.45" fill="#f56f00"/>
<circle cx="363.09" cy="324.77" r="1.45" fill="#e28e00"/>
<circle cx="364.22" cy="324.67" r="1.45" fill="#e28e00"/>
<circle cx="394.06" cy="325.24" r="1.45" fill="#f56f00"/>
<circle cx="379.99" cy="317.94" r="1.45" fill="#eb8200"/>
<circle cx="382.23" cy="318.76" r="1.45" fill="#ec7f00"/>
<circle cx="387.98" cy="319.22" r="1.45" fill="#f07900"/>
<circle cx="385.01" cy="322.09" r="1.45" fill="#ee7c00"/>
<circle cx="376.25" cy="326.12" r="1.45" fill="#e98600"/>
<circle cx="367.16" cy="319.71" r="1.45" fill="#e48c00"/>
<circle cx="400.68" cy="321.81" r="1.45" fill="#fc6400"/>
<circle cx="396.40" cy="328.85" r="1.45" fill="#f86b00"/>
<circle cx="395.20" cy="305.90" r="1.45" fill="#f08000"/>
<circle cx="390.40" cy="315.50" r="1.45" fill="#f08000"/>
<circle cx="387.50" cy="311.70" r="1.45" fill="#f08000"/>
<circle cx="382.70" cy="315.50" r="1.45" fill="#f08000"/>
<circle cx="372.00" cy="313.50" r="1.45" fill="#f08000"/>
<circle cx="405.50" cy="297.50" r="1.45" fill="#ff4500"/>
<circle cx="405.50" cy="306.10" r="1.45" fill="#ff4500"/>
<circle cx="411.43" cy="310.71" r="1.45" fill="#ff4700"/>
<circle cx="417.85" cy="310.45" r="1.45" fill="#ff4d00"/>
<circle cx="412.33" cy="310.45" r="1.45" fill="#ff4c00"/>
<circle cx="406.34" cy="313.84" r="1.45" fill="#ff4d00"/>
<circle cx="409.61" cy="311.10" r="1.45" fill="#ff4b00"/>
<circle cx="406.98" cy="310.53" r="1.45" fill="#ff4900"/>
<circle cx="417.73" cy="313.56" r="1.45" fill="#ff5300"/>
<circle cx="403.94" cy="317.14" r="1.45" fill="#ff4d00"/>
<circle cx="416.44" cy="314.12" r="1.45" fill="#ff5000"/>
<circle cx="407.39" cy="315.58" r="1.45" fill="#ff4700"/>
<circle cx="407.95" cy="309.75" r="1.45" fill="#ff4b00"/>
<circle cx="412.04" cy="311.86" r="1.45" fill="#ff5300"/>
<circle cx="405.06" cy="314.19" r="1.45" fill="#ff4900"/>
<circle cx="413.28" cy="315.85" r="1.45" fill="#ff5000"/>
<circle cx="404.70" cy="311.49" r="1.45" fill="#ff4f00"/>
<circle cx="419.53" cy="309.83" r="1.45" fill="#ff4f00"/>
<circle cx="414.84" cy="316.10" r="1.45" fill="#ff4a00"/>
<circle cx="416.75" cy="313.24" r="1.45" fill="#ff5400"/>
<circle cx="403.87" cy="317.12" r="1.45" fill="#ff4c00"/>
<circle cx="410.25" cy="310.21" r="1.45" fill="#ff4900"/>
<circle cx="415.51" cy="315.00" r="1.45" fill="#ff4700"/>
<circle cx="409.24" cy="310.64" r="1.45" fill="#ff4800"/>
<circle cx="407.24" cy="312.18" r="1.45" fill="#ff5500"/>
<circle cx="419.76" cy="315.91" r="1.45" fill="#ff4d00"/>
<circle cx="411.71" cy="315.81" r="1.45" fill="#ff5400"/>
<circle cx="415.80" cy="314.65" r="1.45" fill="#ff4800"/>
<circle cx="413.77" cy="316.35" r="1.45" fill="#ff5200"/>
<circle cx="405.19" cy="315.31" r="1.45" fill="#ff4b00"/>
<circle cx="406.31" cy="317.32" r="1.45" fill="#ff5000"/>
<circle cx="415.70" cy="310.59" r="1.45" fill="#ff5200"/>
<circle cx="418.79" cy="316.83" r="1.45" fill="#ff5100"/>
<circle cx="417.10" cy="316.00" r="1.45" fill="#ff4e00"/>
<circle cx="410.71" cy="316.18" r="1.45" fill="#ff5200"/>
<circle cx="417.72" cy="311.92" r="1.45" fill="#ff5400"/>
<circle cx="412.26" cy="317.16" r="1.45" fill="#ff4700"/>
<circle cx="419.29" cy="315.88" r="1.45" fill="#ff4900"/>
<circle cx="420.48" cy="322.76" r="1.45" fill="#ff5a00"/>
<circle cx="419.53" cy="324.16" r="1.45" fill="#ff5a00"/>
<circle cx="419.94" cy="325.17" r="1.45" fill="#ff5b00"/>
<circle cx="421.61" cy="326.50" r="1.45" fill="#ff5b00"/>
<circle cx="421.59" cy="326.84" r="1.45" fill="#fe5b00"/>
<circle cx="422.17" cy="328.55" r="1.45" fill="#fe5b00"/>
<circle cx="422.40" cy="329.74" r="1.45" fill="#fe5c00"/>
<circle cx="423.40" cy="328.27" r="1.45" fill="#fe5c00"/>
<circle cx="422.69" cy="328.12" r="1.45" fill="#fe5c00"/>
<circle cx="424.96" cy="326.86" r="1.45" fill="#fe5d00"/>
<circle cx="425.16" cy="327.12" r="1.45" fill="#fe5d00"/>
<circle cx="426.20" cy="324.69" r="1.45" fill="#fd5d00"/>
<circle cx="426.24" cy="323.95" r="1.45" fill="#fd5e00"/>
<circle cx="426.05" cy="324.74" r="1.45" fill="#fd5e00"/>
<circle cx="427.09" cy="323.41" r="1.45" fill="#fd5e00"/>
<circle cx="427.58" cy="321.97" r="1.45" fill="#fd5e00"/>
<circle cx="427.44" cy="322.35" r="1.45" fill="#fd5f00"/>
<circle cx="429.02" cy="323.83" r="1.45" fill="#fc5f00"/>
<circle cx="428.23" cy="323.71" r="1.45" fill="#fc5f00"/>
<circle cx="428.50" cy="325.89" r="1.45" fill="#fc6000"/>
<circle cx="429.51" cy="326.55" r="1.45" fill="#fc6000"/>
<circle cx="430.94" cy="326.17" r="1.45" fill="#fc6000"/>
<circle cx="431.40" cy="326.72" r="1.45" fill="#fc6100"/>
<circle cx="432.23" cy="326.71" r="1.45" fill="#fc6100"/>
<circle cx="431.57" cy="327.36" r="1.45" fill="#fb6100"/>
<circle cx="432.20" cy="325.00" r="1.45" fill="#fb6100"/>
<circle cx="433.95" cy="325.05" r="1.45" fill="#fb6200"/>
<circle cx="434.66" cy="323.91" r="1.45" fill="#fb6200"/>
<circle cx="434.58" cy="324.33" r="1.45" fill="#fb6200"/>
<circle cx="434.92" cy="325.09" r="1.45" fill="#fb6300"/>
<circle cx="434.54" cy="325.74" r="1.45" fill="#fb6300"/>
<circle cx="434.74" cy="326.10" r="1.45" fill="#fa6300"/>
<circle cx="434.67" cy="326.36" r="1.45" fill="#fa6400"/>
<circle cx="436.83" cy="327.74" r="1.45" fill="#fa6400"/>
<circle cx="437.11" cy="326.50" r="1.45" fill="#fa6400"/>
<circle cx="436.75" cy="325.36" r="1.45" fill="#fa6400"/>
<circle cx="437.70" cy="326.05" r="1.45" fill="#fa6500"/>
<circle cx="438.17" cy="324.24" r="1.45" fill="#f96500"/>
<circle cx="439.15" cy="324.30" r="1.45" fill="#f96500"/>
<circle cx="438.73" cy="321.67" r="1.45" fill="#f96600"/>
<circle cx="438.75" cy="321.41" r="1.45" fill="#f96600"/>
<circle cx="439.52" cy="320.25" r="1.45" fill="#f96600"/>
<circle cx="439.03" cy="319.80" r="1.45" fill="#f96700"/>
<circle cx="438.62" cy="318.89" r="1.45" fill="#f96700"/>
<circle cx="439.63" cy="320.58" r="1.45" fill="#f86700"/>
<circle cx="439.68" cy="320.40" r="1.45" fill="#f86700"/>
<circle cx="441.04" cy="320.70" r="1.45" fill="#f86800"/>
<circle cx="441.17" cy="322.87" r="1.45" fill="#f86800"/>
<circle cx="431.46" cy="325.12" r="1.45" fill="#ff6600"/>
<circle cx="439.11" cy="327.71" r="1.45" fill="#ff6600"/>
<circle cx="419.50" cy="323.99" r="1.45" fill="#ff5c00"/>
<circle cx="440.52" cy="329.20" r="1.45" fill="#ff5c00"/>
<circle cx="432.15" cy="326.31" r="1.45" fill="#ff5b00"/>
<circle cx="427.68" cy="327.88" r="1.45" fill="#ff6400"/>
<circle cx="425.13" cy="328.01" r="1.45" fill="#ff5f00"/>
<circle cx="431.16" cy="324.87" r="1.45" fill="#ff6a00"/>
<circle cx="433.56" cy="328.41" r="1.45" fill="#ff6500"/>
<circle cx="427.41" cy="329.86" r="1.45" fill="#ff6500"/>
<circle cx="434.52" cy="323.55" r="1.45" fill="#ff5d00"/>
<circle cx="431.87" cy="328.60" r="1.45" fill="#ff6700"/>
<circle cx="426.65" cy="322.29" r="1.45" fill="#ff6200"/>
<circle cx="438.79" cy="322.49" r="1.45" fill="#ff6600"/>
<circle cx="422.61" cy="323.87" r="1.45" fill="#ff5b00"/>
<circle cx="425.52" cy="324.52" r="1.45" fill="#ff6900"/>
<circle cx="440.73" cy="322.72" r="1.45" fill="#ff5f00"/>
<circle cx="440.31" cy="322.82" r="1.45" fill="#ff5f00"/>
<circle cx="428.74" cy="322.00" r="1.45" fill="#ff5e00"/>
<circle cx="427.72" cy="324.55" r="1.45" fill="#ff6900"/>
<circle cx="424.81" cy="322.88" r="1.45" fill="#ff6900"/>
<circle cx="429.01" cy="328.70" r="1.45" fill="#ff6400"/>
<circle cx="436.53" cy="323.90" r="1.45" fill="#ff5c00"/>
<circle cx="436.04" cy="325.33" r="1.45" fill="#ff6300"/>
<circle cx="434.06" cy="327.92" r="1.45" fill="#ff5e00"/>
<circle cx="427.01" cy="329.44" r="1.45" fill="#ff6200"/>
<circle cx="444.50" cy="304.90" r="1.45" fill="#f07000"/>
<circle cx="443.90" cy="307.80" r="1.45" fill="#f07000"/>
<circle cx="443.40" cy="311.20" r="1.45" fill="#f07000"/>
<circle cx="443.40" cy="318.10" r="1.45" fill="#f07000"/>
<circle cx="446.30" cy="221.10" r="1.45" fill="#f07000"/>
<circle cx="445.80" cy="223.20" r="1.45" fill="#f07000"/>
<circle cx="447.60" cy="225.80" r="1.45" fill="#f07000"/>
<circle cx="447.40" cy="229.80" r="1.45" fill="#f07000"/>
<circle cx="446.90" cy="234.10" r="1.45" fill="#f07000"/>
<circle cx="446.90" cy="242.10" r="1.45" fill="#f07000"/>
<circle cx="448.40" cy="243.20" r="1.45" fill="#f07000"/>
<circle cx="448.40" cy="253.00" r="1.45" fill="#f07000"/>
<circle cx="449.10" cy="261.60" r="1.45" fill="#f07000"/>
<circle cx="449.10" cy="267.10" r="1.45" fill="#f07000"/>
<circle cx="449.80" cy="270.30" r="1.45" fill="#f07000"/>
<circle cx="444.80" cy="273.10" r="1.45" fill="#f07000"/>
<circle cx="449.80" cy="275.70" r="1.45" fill="#f07000"/>
<circle cx="450.20" cy="295.30" r="1.45" fill="#f07000"/>
<circle cx="450.20" cy="295.20" r="1.45" fill="#e08000"/>
<circle cx="451.00" cy="307.20" r="1.45" fill="#e08000"/>
<circle cx="451.20" cy="309.00" r="1.45" fill="#e08000"/>
<circle cx="450.80" cy="314.10" r="1.45" fill="#e08000"/>
<circle cx="444.50" cy="304.80" r="1.45" fill="#f07000"/>
<circle cx="444.50" cy="308.00" r="1.45" fill="#f07000"/>
<circle cx="451.50" cy="306.70" r="1.45" fill="#f07000"/>
<circle cx="450.80" cy="314.30" r="1.45" fill="#f07000"/>
<circle cx="442.60" cy="318.20" r="1.45" fill="#f07000"/>
<circle cx="441.30" cy="324.50" r="1.45" fill="#f07000"/>
<circle cx="459.40" cy="322.16" r="1.45" fill="#ec8800"/>
<circle cx="474.81" cy="311.26" r="1.45" fill="#e08a00"/>
<circle cx="468.27" cy="317.04" r="1.45" fill="#db8e00"/>
<circle cx="458.67" cy="315.00" r="1.45" fill="#e98e00"/>
<circle cx="467.70" cy="324.44" r="1.45" fill="#e78600"/>
<circle cx="463.37" cy="325.44" r="1.45" fill="#ea8c00"/>
<circle cx="459.99" cy="322.43" r="1.45" fill="#da8f00"/>
<circle cx="470.42" cy="323.30" r="1.45" fill="#e38900"/>
<circle cx="462.78" cy="327.90" r="1.45" fill="#e48800"/>
<circle cx="461.10" cy="317.76" r="1.45" fill="#e18a00"/>
<circle cx="461.36" cy="313.94" r="1.45" fill="#de8c00"/>
<circle cx="467.16" cy="320.14" r="1.45" fill="#e88500"/>
<circle cx="478.96" cy="312.97" r="1.45" fill="#ed8500"/>
<circle cx="452.30" cy="318.14" r="1.45" fill="#f08000"/>
<circle cx="477.38" cy="322.85" r="1.45" fill="#ec8200"/>
<circle cx="463.08" cy="321.11" r="1.45" fill="#ec8700"/>
<circle cx="477.15" cy="325.09" r="1.45" fill="#e08b00"/>
<circle cx="455.02" cy="322.92" r="1.45" fill="#e48800"/>
<circle cx="466.17" cy="327.12" r="1.45" fill="#dd8d00"/>
<circle cx="473.90" cy="325.69" r="1.45" fill="#e98500"/>
<circle cx="478.23" cy="312.93" r="1.45" fill="#e68700"/>
<circle cx="472.65" cy="321.83" r="1.45" fill="#ec8700"/>
<circle cx="452.35" cy="321.66" r="1.45" fill="#e08a00"/>
<circle cx="458.91" cy="314.44" r="1.45" fill="#ec8900"/>
<circle cx="453.19" cy="323.01" r="1.45" fill="#d98f00"/>
<circle cx="475.79" cy="317.15" r="1.45" fill="#e68600"/>
<circle cx="452.50" cy="326.01" r="1.45" fill="#ed8600"/>
<circle cx="450.31" cy="322.14" r="1.45" fill="#ea8c00"/>
<circle cx="458.97" cy="311.59" r="1.45" fill="#ef8200"/>
<circle cx="467.90" cy="325.44" r="1.45" fill="#e98f00"/>
<circle cx="476.59" cy="312.55" r="1.45" fill="#ec8900"/>
<circle cx="470.28" cy="316.79" r="1.45" fill="#ed8500"/>
<circle cx="468.33" cy="314.53" r="1.45" fill="#e28900"/>
<circle cx="456.87" cy="326.03" r="1.45" fill="#e18a00"/>
<circle cx="467.33" cy="311.06" r="1.45" fill="#e38900"/>
<circle cx="451.11" cy="319.84" r="1.45" fill="#ef8200"/>
<circle cx="452.21" cy="322.16" r="1.45" fill="#e58700"/>
<circle cx="468.86" cy="317.90" r="1.45" fill="#ef8000"/>
<circle cx="468.98" cy="314.69" r="1.45" fill="#de8c00"/>
<circle cx="481.96" cy="325.38" r="1.45" fill="#da8f00"/>
<circle cx="460.71" cy="328.75" r="1.45" fill="#e98e00"/>
<circle cx="465.44" cy="312.97" r="1.45" fill="#ef8100"/>
<circle cx="471.98" cy="323.61" r="1.45" fill="#ef8100"/>
<circle cx="461.10" cy="314.01" r="1.45" fill="#ee8300"/>
<circle cx="459.21" cy="314.09" r="1.45" fill="#e58800"/>
<circle cx="466.67" cy="318.61" r="1.45" fill="#eb8a00"/>
<circle cx="472.65" cy="314.14" r="1.45" fill="#ec8800"/>
<circle cx="468.07" cy="323.47" r="1.45" fill="#d98f00"/>
<circle cx="474.05" cy="328.04" r="1.45" fill="#dc8d00"/>
<circle cx="473.25" cy="323.81" r="1.45" fill="#e98e00"/>
<circle cx="456.76" cy="310.74" r="1.45" fill="#df8c00"/>
<circle cx="473.23" cy="322.16" r="1.45" fill="#ec8800"/>
<circle cx="461.54" cy="313.53" r="1.45" fill="#ea8400"/>
<circle cx="481.83" cy="316.16" r="1.45" fill="#e98f00"/>
<circle cx="455.79" cy="317.07" r="1.45" fill="#dd8d00"/>
<circle cx="475.86" cy="318.92" r="1.45" fill="#ea8d00"/>
<circle cx="463.60" cy="310.50" r="1.45" fill="#e89000"/>
<circle cx="463.60" cy="313.00" r="1.45" fill="#e89000"/>
<circle cx="475.10" cy="308.60" r="1.45" fill="#e89000"/>
<circle cx="475.80" cy="314.30" r="1.45" fill="#e89000"/>
<circle cx="480.95" cy="287.12" r="1.45" fill="#c0b000"/>
<circle cx="481.80" cy="288.99" r="1.45" fill="#c0b000"/>
<circle cx="482.00" cy="291.04" r="1.45" fill="#c0b000"/>
<circle cx="481.63" cy="291.87" r="1.45" fill="#c0b000"/>
<circle cx="481.58" cy="292.81" r="1.45" fill="#c0b000"/>
<circle cx="480.49" cy="294.85" r="1.45" fill="#c0b000"/>
<circle cx="480.95" cy="295.79" r="1.45" fill="#c0b000"/>
<circle cx="480.50" cy="296.96" r="1.45" fill="#c0b000"/>
<circle cx="481.84" cy="299.16" r="1.45" fill="#c0b000"/>
<circle cx="482.91" cy="300.56" r="1.45" fill="#c0b000"/>
<circle cx="483.21" cy="301.23" r="1.45" fill="#c0b000"/>
<circle cx="483.48" cy="302.71" r="1.45" fill="#c0b000"/>
<circle cx="484.40" cy="303.17" r="1.45" fill="#c0b000"/>
<circle cx="483.45" cy="304.70" r="1.45" fill="#c0b000"/>
<circle cx="484.44" cy="306.36" r="1.45" fill="#c0b000"/>
<circle cx="483.83" cy="308.41" r="1.45" fill="#c0b000"/>
<circle cx="485.11" cy="309.32" r="1.45" fill="#c0b000"/>
<circle cx="484.26" cy="311.34" r="1.45" fill="#c0b000"/>
<circle cx="485.14" cy="311.62" r="1.45" fill="#c0b000"/>
<circle cx="485.04" cy="313.81" r="1.45" fill="#c0b000"/>
<circle cx="486.02" cy="315.04" r="1.45" fill="#c0b000"/>
<circle cx="485.87" cy="316.08" r="1.45" fill="#c0b000"/>
<circle cx="485.50" cy="318.48" r="1.45" fill="#c0b000"/>
<circle cx="486.11" cy="318.73" r="1.45" fill="#c0b000"/>
<circle cx="486.86" cy="320.12" r="1.45" fill="#c0b000"/>
<circle cx="486.78" cy="321.94" r="1.45" fill="#c0b000"/>
<circle cx="488.50" cy="287.60" r="1.45" fill="#c8b000"/>
<circle cx="490.00" cy="286.50" r="1.45" fill="#c8b000"/>
<circle cx="492.30" cy="290.10" r="1.45" fill="#c8b000"/>
<circle cx="493.00" cy="293.50" r="1.45" fill="#c8b000"/>
<circle cx="493.60" cy="297.10" r="1.45" fill="#c8b000"/>
<circle cx="494.20" cy="300.30" r="1.45" fill="#c8b000"/>
<circle cx="495.50" cy="302.90" r="1.45" fill="#c8b000"/>
<circle cx="496.10" cy="306.70" r="1.45" fill="#c8b000"/>
<circle cx="487.80" cy="304.80" r="1.45" fill="#c8b000"/>
<circle cx="487.80" cy="315.00" r="1.45" fill="#c8b000"/>
<circle cx="496.80" cy="316.90" r="1.45" fill="#c8b000"/>
<circle cx="498.00" cy="322.00" r="1.45" fill="#c8b000"/>
<circle cx="490.90" cy="255.30" r="1.45" fill="#c8a800"/>
<circle cx="482.90" cy="268.00" r="1.45" fill="#c8a800"/>
<circle cx="482.50" cy="270.00" r="1.45" fill="#c8a800"/>
<circle cx="482.40" cy="278.30" r="1.45" fill="#c8a800"/>
<circle cx="481.70" cy="287.50" r="1.45" fill="#c8a800"/>
<circle cx="489.80" cy="269.10" r="1.45" fill="#c8a800"/>
<circle cx="493.90" cy="269.80" r="1.45" fill="#c8a800"/>
<circle cx="489.80" cy="277.10" r="1.45" fill="#c8a800"/>
<circle cx="490.90" cy="280.60" r="1.45" fill="#c8a800"/>
<circle cx="489.80" cy="286.30" r="1.45" fill="#c8a800"/>
<circle cx="492.10" cy="289.80" r="1.45" fill="#c8a800"/>
<circle cx="493.20" cy="293.20" r="1.45" fill="#c8a800"/>
<circle cx="494.40" cy="297.80" r="1.45" fill="#c8a800"/>
<circle cx="495.50" cy="301.20" r="1.45" fill="#c8a800"/>
<circle cx="496.70" cy="304.70" r="1.45" fill="#c8a800"/>
<circle cx="481.70" cy="299.00" r="1.45" fill="#e08000"/>
<circle cx="484.00" cy="304.70" r="1.45" fill="#e08000"/>
<circle cx="489.22" cy="268.35" r="1.45" fill="#c8b000"/>
<circle cx="489.68" cy="268.94" r="1.45" fill="#c8b000"/>
<circle cx="488.15" cy="270.79" r="1.45" fill="#c8b000"/>
<circle cx="488.25" cy="271.23" r="1.45" fill="#c7b000"/>
<circle cx="489.29" cy="272.85" r="1.45" fill="#c7b000"/>
<circle cx="490.24" cy="272.83" r="1.45" fill="#c7b100"/>
<circle cx="490.21" cy="275.11" r="1.45" fill="#c7b100"/>
<circle cx="489.89" cy="274.78" r="1.45" fill="#c6b100"/>
<circle cx="491.16" cy="277.07" r="1.45" fill="#c6b100"/>
<circle cx="489.10" cy="277.23" r="1.45" fill="#c6b100"/>
<circle cx="491.64" cy="278.31" r="1.45" fill="#c6b100"/>
<circle cx="490.23" cy="280.86" r="1.45" fill="#c5b100"/>
<circle cx="491.49" cy="281.56" r="1.45" fill="#c5b100"/>
<circle cx="491.42" cy="281.12" r="1.45" fill="#c5b200"/>
<circle cx="489.87" cy="284.66" r="1.45" fill="#c5b200"/>
<circle cx="491.90" cy="283.31" r="1.45" fill="#c4b200"/>
<circle cx="490.17" cy="284.92" r="1.45" fill="#c4b200"/>
<circle cx="492.69" cy="285.95" r="1.45" fill="#c4b200"/>
<circle cx="492.25" cy="288.89" r="1.45" fill="#c4b200"/>
<circle cx="492.40" cy="289.94" r="1.45" fill="#c3b200"/>
<circle cx="491.66" cy="289.04" r="1.45" fill="#c3b200"/>
<circle cx="491.25" cy="291.69" r="1.45" fill="#c3b300"/>
<circle cx="491.71" cy="293.34" r="1.45" fill="#c3b300"/>
<circle cx="493.52" cy="292.38" r="1.45" fill="#c2b300"/>
<circle cx="494.00" cy="293.40" r="1.45" fill="#c2b300"/>
<circle cx="493.47" cy="294.34" r="1.45" fill="#c2b300"/>
<circle cx="494.41" cy="297.46" r="1.45" fill="#c2b300"/>
<circle cx="494.98" cy="296.24" r="1.45" fill="#c1b300"/>
<circle cx="495.07" cy="298.76" r="1.45" fill="#c1b300"/>
<circle cx="495.26" cy="299.70" r="1.45" fill="#c1b400"/>
<circle cx="495.00" cy="301.02" r="1.45" fill="#c1b400"/>
<circle cx="495.74" cy="300.75" r="1.45" fill="#c0b400"/>
<circle cx="494.07" cy="303.04" r="1.45" fill="#c0b400"/>
<circle cx="494.96" cy="303.73" r="1.45" fill="#c0b400"/>
<circle cx="480.53" cy="292.86" r="1.45" fill="#c8b400"/>
<circle cx="484.23" cy="294.72" r="1.45" fill="#c8b400"/>
<circle cx="481.05" cy="290.20" r="1.45" fill="#c8b400"/>
<circle cx="482.43" cy="275.09" r="1.45" fill="#c8b400"/>
<circle cx="482.96" cy="281.87" r="1.45" fill="#c8b400"/>
<circle cx="483.79" cy="295.79" r="1.45" fill="#c8b400"/>
<circle cx="517.30" cy="294.40" r="1.45" fill="#c8b400"/>
<circle cx="520.80" cy="295.50" r="1.45" fill="#c8b400"/>
<circle cx="512.70" cy="299.00" r="1.45" fill="#c8b400"/>
<circle cx="513.50" cy="302.50" r="1.45" fill="#c8b400"/>
<circle cx="515.50" cy="301.50" r="1.45" fill="#c8b400"/>
<circle cx="511.60" cy="307.00" r="1.45" fill="#c8b400"/>
<circle cx="520.80" cy="304.70" r="1.45" fill="#c8b400"/>
<circle cx="517.30" cy="311.60" r="1.45" fill="#c8b400"/>
<circle cx="521.90" cy="313.90" r="1.45" fill="#c8b400"/>
<circle cx="524.20" cy="318.50" r="1.45" fill="#c8b400"/>
<circle cx="526.50" cy="320.80" r="1.45" fill="#c8b400"/>
<circle cx="519.50" cy="318.50" r="1.45" fill="#c8b400"/>
<circle cx="510.83" cy="304.29" r="1.45" fill="#c3b200"/>
<circle cx="522.72" cy="298.14" r="1.45" fill="#beb100"/>
<circle cx="526.61" cy="315.53" r="1.45" fill="#c8b400"/>
<circle cx="510.35" cy="297.18" r="1.45" fill="#bdb200"/>
<circle cx="519.78" cy="308.56" r="1.45" fill="#c1b000"/>
<circle cx="516.33" cy="311.11" r="1.45" fill="#beb100"/>
<circle cx="525.50" cy="314.52" r="1.45" fill="#bbb200"/>
<circle cx="525.43" cy="317.44" r="1.45" fill="#bdb200"/>
<circle cx="509.55" cy="313.06" r="1.45" fill="#bab300"/>
<circle cx="516.75" cy="318.59" r="1.45" fill="#c5b300"/>
<circle cx="525.97" cy="306.37" r="1.45" fill="#bdb200"/>
<circle cx="513.55" cy="302.41" r="1.45" fill="#c2b100"/>
<circle cx="514.84" cy="296.65" r="1.45" fill="#c1b000"/>
<circle cx="526.66" cy="312.31" r="1.45" fill="#b9b300"/>
<circle cx="522.72" cy="317.43" r="1.45" fill="#b8b400"/>
<circle cx="522.55" cy="301.68" r="1.45" fill="#c4b200"/>
<circle cx="516.42" cy="294.59" r="1.45" fill="#c4b200"/>
<circle cx="524.95" cy="319.79" r="1.45" fill="#c3b100"/>
<circle cx="522.87" cy="315.70" r="1.45" fill="#bab300"/>
<circle cx="523.30" cy="308.90" r="1.45" fill="#c6b300"/>
<circle cx="523.86" cy="302.78" r="1.45" fill="#beb100"/>
<circle cx="515.61" cy="309.04" r="1.45" fill="#b9b400"/>
<circle cx="511.90" cy="308.87" r="1.45" fill="#beb100"/>
<circle cx="518.69" cy="320.26" r="1.45" fill="#c1b100"/>
<circle cx="525.45" cy="313.31" r="1.45" fill="#b9b400"/>
<circle cx="510.61" cy="299.95" r="1.45" fill="#c3b200"/>
<circle cx="525.32" cy="294.38" r="1.45" fill="#c4b200"/>
<circle cx="521.88" cy="321.71" r="1.45" fill="#c5b300"/>
<circle cx="506.01" cy="321.87" r="1.45" fill="#de9000"/>
<circle cx="510.94" cy="323.08" r="1.45" fill="#da9000"/>
<circle cx="503.11" cy="309.81" r="1.45" fill="#de9000"/>
<circle cx="502.35" cy="314.05" r="1.45" fill="#e09000"/>
<circle cx="509.29" cy="320.12" r="1.45" fill="#dd9000"/>
<circle cx="508.57" cy="322.02" r="1.45" fill="#da9000"/>
<circle cx="500.02" cy="310.52" r="1.45" fill="#d89000"/>
<circle cx="504.78" cy="311.90" r="1.45" fill="#d99000"/>
<circle cx="506.90" cy="327.04" r="1.45" fill="#de9000"/>
<circle cx="503.38" cy="323.38" r="1.45" fill="#d99000"/>
<circle cx="500.60" cy="314.85" r="1.45" fill="#db9000"/>
<circle cx="510.03" cy="317.44" r="1.45" fill="#de9000"/>
<circle cx="500.52" cy="326.36" r="1.45" fill="#db9000"/>
<circle cx="512.32" cy="309.86" r="1.45" fill="#df9000"/>
<circle cx="502.62" cy="324.95" r="1.45" fill="#de9000"/>
<circle cx="509.73" cy="314.38" r="1.45" fill="#d89000"/>
<circle cx="502.04" cy="325.86" r="1.45" fill="#d99000"/>
<circle cx="509.55" cy="320.04" r="1.45" fill="#dd9000"/>
<circle cx="501.89" cy="311.93" r="1.45" fill="#d99000"/>
<circle cx="514.72" cy="316.31" r="1.45" fill="#dd9000"/>
<circle cx="508.11" cy="313.39" r="1.45" fill="#d99000"/>
<circle cx="499.24" cy="324.90" r="1.45" fill="#d99000"/>
<circle cx="514.41" cy="315.95" r="1.45" fill="#de9000"/>
<circle cx="501.21" cy="323.72" r="1.45" fill="#da9000"/>
<circle cx="504.86" cy="318.87" r="1.45" fill="#d99000"/>
<circle cx="502.97" cy="323.87" r="1.45" fill="#da9000"/>
<circle cx="499.00" cy="319.60" r="1.45" fill="#f07000"/>
<circle cx="501.30" cy="324.20" r="1.45" fill="#f07000"/>
<line x1="359.80" y1="310.70" x2="402.80" y2="310.70" stroke="#666" stroke-width="1.5"/>
<line x1="359.80" y1="317.30" x2="402.80" y2="317.30" stroke="#888" stroke-width="1.5"/>
<line x1="360.10" y1="326.00" x2="402.80" y2="326.00" stroke="#000" stroke-width="1.9" stroke-dasharray="4.7 2.3" stroke-dashoffset="1.8"/>
<line x1="402.60" y1="313.80" x2="443.90" y2="313.80" stroke="#777" stroke-width="1.5"/>
<line x1="402.60" y1="320.90" x2="443.90" y2="320.90" stroke="#888" stroke-width="1.5"/>
<line x1="402.90" y1="312.40" x2="443.90" y2="312.40" stroke="#000" stroke-width="1.9" stroke-dasharray="4.7 2.3" stroke-dashoffset="1.8"/>
<line x1="443.80" y1="302.00" x2="485.90" y2="302.00" stroke="#666" stroke-width="1.5"/>
<line x1="443.80" y1="316.10" x2="485.90" y2="316.10" stroke="#888" stroke-width="1.5"/>
<line x1="444.10" y1="321.80" x2="485.90" y2="321.80" stroke="#000" stroke-width="1.9" stroke-dasharray="4.7 2.3" stroke-dashoffset="1.8"/>
<line x1="485.90" y1="312.00" x2="528.80" y2="312.00" stroke="#888" stroke-width="1.5"/>
<line x1="486.20" y1="325.00" x2="528.80" y2="325.00" stroke="#000" stroke-width="1.9" stroke-dasharray="4.7 2.3" stroke-dashoffset="1.8"/>
<rect x="83.00" y="375.20" width="232.00" height="15.80" fill="#fff" stroke="#333" stroke-width="0.8"/>
<defs><linearGradient id="cs" x1="0" x2="1" y1="0" y2="0"><stop offset="0" stop-color="#ff0000"/><stop offset="0.15" stop-color="#ff6a00"/><stop offset="0.3" stop-color="#d0b000"/><stop offset="0.42" stop-color="#99d000"/><stop offset="0.5" stop-color="#22ee22"/><stop offset="0.63" stop-color="#66bb88"/><stop offset="0.77" stop-color="#7890b0"/><stop offset="0.88" stop-color="#5560d8"/><stop offset="1" stop-color="#1010ff"/></linearGradient></defs>
<rect x="188.60" y="376.30" width="126.00" height="3.00" fill="url(#cs)"/>
<line x1="206.70" y1="376.30" x2="206.70" y2="379.30" stroke="#ffffff" stroke-width="0.5" stroke-opacity="0.7"/>
<line x1="224.45" y1="376.30" x2="224.45" y2="379.30" stroke="#ffffff" stroke-width="0.5" stroke-opacity="0.7"/>
<line x1="242.20" y1="376.30" x2="242.20" y2="379.30" stroke="#ffffff" stroke-width="0.5" stroke-opacity="0.7"/>
<line x1="259.95" y1="376.30" x2="259.95" y2="379.30" stroke="#ffffff" stroke-width="0.5" stroke-opacity="0.7"/>
<line x1="277.70" y1="376.30" x2="277.70" y2="379.30" stroke="#ffffff" stroke-width="0.5" stroke-opacity="0.7"/>
<line x1="295.45" y1="376.30" x2="295.45" y2="379.30" stroke="#ffffff" stroke-width="0.5" stroke-opacity="0.7"/>
<text x="0" y="0" font-size="7.7" fill="#000" text-anchor="start" transform="translate(84.90 386.40) scale(1 1.07)">Condensation sink<tspan font-size="5.8" dy="1.8">200–800</tspan><tspan dy="-1.8"> (s</tspan><tspan font-size="5.8" dy="-3.5">−1</tspan><tspan dy="3.5">)</tspan></text>
<text x="0" y="0" font-size="8.0" fill="#000" text-anchor="start" transform="translate(198.60 388.30) scale(1 1.07)">0.01 0.02 0.03 0.04 0.05 0.06</text></svg>
</body></html>
